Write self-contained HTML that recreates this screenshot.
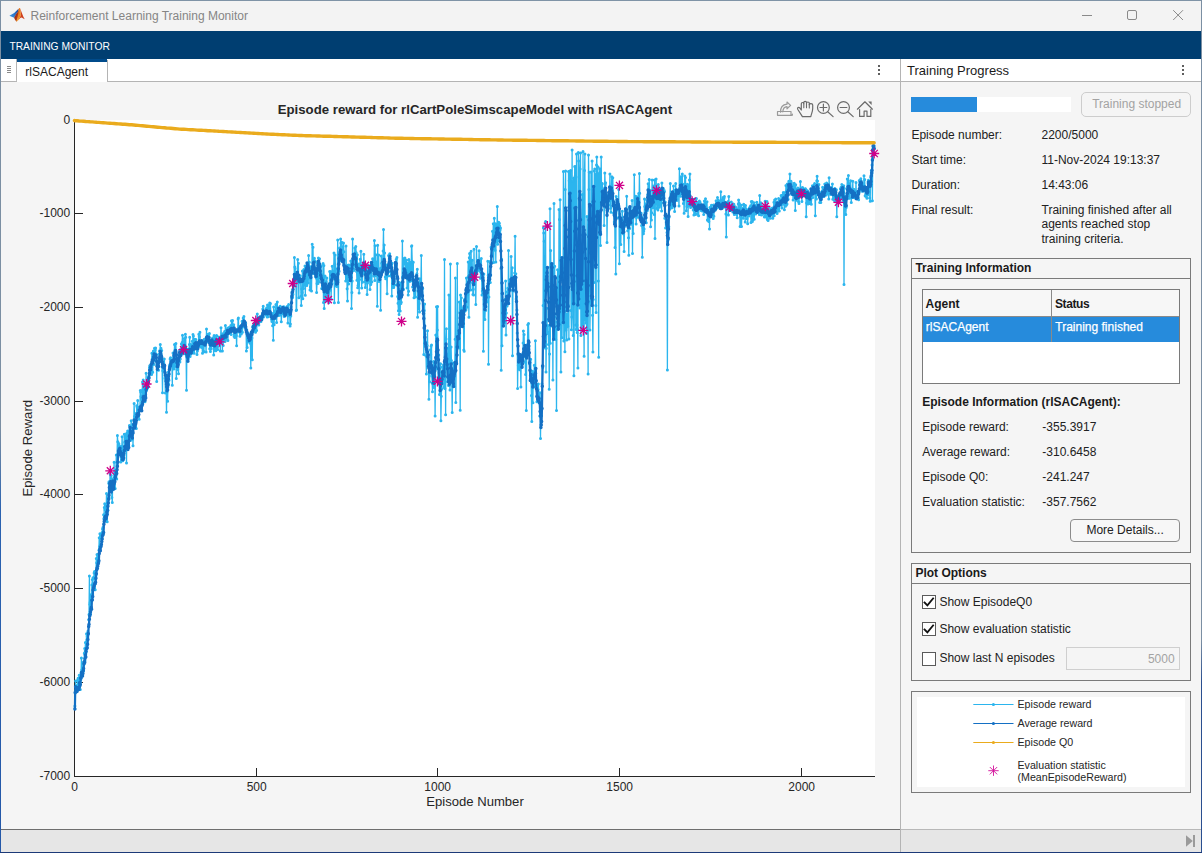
<!DOCTYPE html>
<html><head><meta charset="utf-8"><title>Reinforcement Learning Training Monitor</title>
<style>
html,body{margin:0;padding:0;}
body{width:1202px;height:853px;overflow:hidden;background:#f5f5f5;font-family:"Liberation Sans",Arial,sans-serif;position:relative;}
.a{position:absolute;box-sizing:border-box;}
.t{position:absolute;white-space:nowrap;}
svg{position:absolute;left:0;top:0;}
</style></head><body>

<div class="a" style="left:0;top:0;width:1202px;height:31px;background:#f3f3f3;"></div>
<div class="a" style="left:0;top:31px;width:1202px;height:28px;background:#003e71;"></div>
<div class="a" style="left:1px;top:59px;width:1200px;height:23px;background:#fff;border-bottom:1px solid #b4b4b4;"></div>
<div class="a" style="left:1px;top:59px;width:16px;height:23px;background:#fff;border-right:1px solid #b4b4b4;border-bottom:1px solid #b4b4b4;border-bottom-right-radius:2px;"></div>
<div class="a" style="left:7px;top:66px;width:4px;height:1px;background:#8a8a8a;"></div>
<div class="a" style="left:7px;top:68px;width:4px;height:1px;background:#8a8a8a;"></div>
<div class="a" style="left:7px;top:70px;width:4px;height:1px;background:#8a8a8a;"></div>
<div class="a" style="left:7px;top:72px;width:4px;height:1px;background:#8a8a8a;"></div>
<div class="a" style="left:17px;top:59px;width:90px;height:23px;background:#fff;border-top:3px solid #004b8b;"></div>
<div class="a" style="left:107px;top:60px;width:1px;height:22px;background:#b4b4b4;"></div>
<div class="a" style="left:900px;top:59px;width:1px;height:793px;background:#b4b4b4;"></div>
<div class="a" style="left:1px;top:829px;width:899px;height:23px;background:#e6e6e6;border-top:1px solid #6e6e6e;"></div>
<div class="a" style="left:901px;top:829px;width:300px;height:23px;background:#e6e6e6;border-top:1px solid #b8b8b8;"></div>
<div class="a" style="left:0;top:0;width:1202px;height:1px;background:#7f93a6;"></div>
<div class="a" style="left:0;top:0;width:1px;height:853px;background:linear-gradient(#7b8fa3 0%,#7b8fa3 50%,#2a62b0 60%,#2458a8 100%);"></div>
<div class="a" style="left:1201px;top:0;width:1px;height:853px;background:linear-gradient(#7b8fa3 0%,#7b8fa3 75%,#2a4f90 80%,#2a4f90 100%);"></div>
<div class="a" style="left:0;top:852px;width:1202px;height:1px;background:#1c3a78;"></div>
<div class="t" style="left:30.5px;top:10.04px;font-size:12px;line-height:12px;color:#858585;">Reinforcement Learning Training Monitor</div>
<div class="t" style="left:9.4px;top:41.68px;font-size:10.3px;line-height:10.3px;color:#ffffff;">TRAINING MONITOR</div>
<div class="t" style="left:25.3px;top:65.94px;font-size:12px;line-height:12px;color:#1a1a1a;">rlSACAgent</div>
<div class="t" style="left:907px;top:64.20px;font-size:13px;line-height:13px;color:#1a1a1a;">Training Progress</div>
<div class="a" style="left:911px;top:97px;width:160px;height:15px;background:#fff;"></div>
<div class="a" style="left:911px;top:97px;width:66px;height:15px;background:#268bdc;"></div>
<div class="a" style="left:1081px;top:92px;width:110px;height:25px;border:1px solid #cdcdcd;border-radius:5px;background:#f5f5f5;"></div>
<div class="t" style="left:1092.2px;top:98.04px;font-size:12px;line-height:12px;color:#a3a3a3;">Training stopped</div>
<div class="t" style="left:911.4px;top:129.04px;font-size:12px;line-height:12px;color:#212121;">Episode number:</div>
<div class="t" style="left:1041.5px;top:129.04px;font-size:12px;line-height:12px;color:#212121;">2200/5000</div>
<div class="t" style="left:911.4px;top:154.04px;font-size:12px;line-height:12px;color:#212121;">Start time:</div>
<div class="t" style="left:1041.5px;top:154.04px;font-size:12px;line-height:12px;color:#212121;">11-Nov-2024 19:13:37</div>
<div class="t" style="left:911.4px;top:179.04px;font-size:12px;line-height:12px;color:#212121;">Duration:</div>
<div class="t" style="left:1041.5px;top:179.04px;font-size:12px;line-height:12px;color:#212121;">14:43:06</div>
<div class="t" style="left:911.4px;top:203.84px;font-size:12px;line-height:12px;color:#212121;">Final result:</div>
<div class="t" style="left:1041.5px;top:203.84px;font-size:12px;line-height:12px;color:#212121;">Training finished after all</div>
<div class="t" style="left:1041.5px;top:218.44px;font-size:12px;line-height:12px;color:#212121;">agents reached stop</div>
<div class="t" style="left:1041.5px;top:233.04px;font-size:12px;line-height:12px;color:#212121;">training criteria.</div>
<div class="a" style="left:911px;top:258px;width:280px;height:295px;border:1px solid #7a7a7a;"></div><div class="a" style="left:912px;top:278px;width:278px;height:1px;background:#7a7a7a;"></div><div class="t" style="left:915.4px;top:262.04px;font-size:12px;line-height:12px;color:#1a1a1a;font-weight:bold;">Training Information</div>
<div class="a" style="left:922px;top:289px;width:258px;height:95px;border:1px solid #7a7a7a;background:#fff;"></div>
<div class="a" style="left:923px;top:290px;width:256px;height:26px;background:#f7f7f7;"></div>
<div class="a" style="left:923px;top:316px;width:256px;height:1px;background:#8a8a8a;"></div>
<div class="a" style="left:923px;top:317px;width:256px;height:25px;background:#268bdc;"></div>
<div class="a" style="left:1051px;top:290px;width:1px;height:52px;background:#8a8a8a;"></div>
<div class="t" style="left:925.6px;top:297.64px;font-size:12px;line-height:12px;color:#1a1a1a;font-weight:bold;">Agent</div>
<div class="t" style="left:1055px;top:297.64px;font-size:12px;line-height:12px;color:#1a1a1a;font-weight:bold;letter-spacing:-0.4px;">Status</div>
<div class="t" style="left:925.8px;top:321.04px;font-size:12px;line-height:12px;color:#ffffff;-webkit-text-stroke:0.25px #fff;">rlSACAgent</div>
<div class="t" style="left:1055.3px;top:321.04px;font-size:12px;line-height:12px;color:#ffffff;-webkit-text-stroke:0.25px #fff;">Training finished</div>
<div class="t" style="left:922.2px;top:395.84px;font-size:12px;line-height:12px;color:#1a1a1a;font-weight:bold;">Episode Information (rlSACAgent):</div>
<div class="t" style="left:922.2px;top:420.94px;font-size:12px;line-height:12px;color:#212121;">Episode reward:</div>
<div class="t" style="left:1042.3px;top:420.94px;font-size:12px;line-height:12px;color:#212121;">-355.3917</div>
<div class="t" style="left:922.2px;top:445.94px;font-size:12px;line-height:12px;color:#212121;">Average reward:</div>
<div class="t" style="left:1042.3px;top:445.94px;font-size:12px;line-height:12px;color:#212121;">-310.6458</div>
<div class="t" style="left:922.2px;top:470.94px;font-size:12px;line-height:12px;color:#212121;">Episode Q0:</div>
<div class="t" style="left:1042.3px;top:470.94px;font-size:12px;line-height:12px;color:#212121;">-241.247</div>
<div class="t" style="left:922.2px;top:495.94px;font-size:12px;line-height:12px;color:#212121;">Evaluation statistic:</div>
<div class="t" style="left:1042.3px;top:495.94px;font-size:12px;line-height:12px;color:#212121;">-357.7562</div>
<div class="a" style="left:1070px;top:519px;width:110px;height:23px;border:1px solid #8c8c8c;border-radius:4px;background:#f7f7f7;"></div>
<div class="t" style="left:1086.4px;top:524.04px;font-size:12px;line-height:12px;color:#212121;">More Details...</div>
<div class="a" style="left:911px;top:563px;width:280px;height:118px;border:1px solid #7a7a7a;"></div><div class="a" style="left:912px;top:583px;width:278px;height:1px;background:#7a7a7a;"></div><div class="t" style="left:915.4px;top:567.04px;font-size:12px;line-height:12px;color:#1a1a1a;font-weight:bold;">Plot Options</div>
<div class="a" style="left:922px;top:595px;width:14px;height:14px;border:1px solid #5a5a5a;background:#fff;"></div>
<div class="a" style="left:922px;top:622px;width:14px;height:14px;border:1px solid #5a5a5a;background:#fff;"></div>
<div class="a" style="left:922px;top:652px;width:14px;height:14px;border:1px solid #5a5a5a;background:#fff;"></div>
<div class="t" style="left:939.4px;top:595.94px;font-size:12px;line-height:12px;color:#212121;">Show EpisodeQ0</div>
<div class="t" style="left:939.4px;top:622.94px;font-size:12px;line-height:12px;color:#212121;">Show evaluation statistic</div>
<div class="t" style="left:939.4px;top:651.94px;font-size:12px;line-height:12px;color:#212121;">Show last N episodes</div>
<div class="a" style="left:1066px;top:647px;width:114px;height:23px;border:1px solid #cfcfcf;background:#f5f5f5;"></div>
<div class="t" style="left:1066px;width:108.6px;text-align:right;top:653.14px;font-size:12px;line-height:12px;color:#a3a3a3;">5000</div>
<div class="a" style="left:911px;top:691px;width:280px;height:102px;border:1px solid #7a7a7a;"></div>
<div class="a" style="left:917px;top:697px;width:268px;height:90px;background:#fff;"></div>
<div class="a" style="left:74px;top:120px;width:801px;height:657px;background:#fff;"></div>
<svg width="1202" height="853" viewBox="0 0 1202 853" font-family='"Liberation Sans",Arial,sans-serif'>
<defs>
<linearGradient id="lgb" x1="0" y1="1" x2="1" y2="0"><stop offset="0" stop-color="#3b9ae6"/><stop offset="0.55" stop-color="#2a6fc4"/><stop offset="1" stop-color="#1d3f8c"/></linearGradient>
<linearGradient id="lgo" x1="0" y1="0" x2="0" y2="1"><stop offset="0" stop-color="#e8781c"/><stop offset="0.7" stop-color="#f08c24"/><stop offset="1" stop-color="#f8bc30"/></linearGradient>
<linearGradient id="lgr" x1="0" y1="0" x2="1" y2="1"><stop offset="0" stop-color="#7a1c14"/><stop offset="1" stop-color="#d4481c"/></linearGradient>
</defs>
<g>
<path d="M9.4,15.7L14.2,13.1L18.5,8.7L18.3,11.4L15.8,14.8L14.1,17.7Z" fill="url(#lgb)"/>
<path d="M14.1,17.7L15.8,14.6L18.3,11.2L18.9,8.4L19.5,13.2L18,18L16.5,21.7L15,19.7Z" fill="url(#lgr)"/>
<path d="M20.2,8.6C21.4,11.5 22.6,15.6 24.7,19.3C23.4,18.7 22.2,17.4 21.2,17.5C20,17.7 19,19.8 16.5,21.8C18.6,19.6 20.4,17 20.8,14.5Z" fill="#cf3f1c"/>
<path d="M18.9,8.4C19.3,7.9 19.9,8 20.2,8.6L20.9,14.6C20.4,17 18.4,20.2 16.5,21.8C16.3,21 17.6,17 18.3,13.8Z" fill="url(#lgo)"/>
</g>
<g stroke="#8a8a8a" stroke-width="1" fill="none"><path d="M1082,15.5h10" shape-rendering="crispEdges"/><rect x="1127.5" y="10.5" width="9" height="9" rx="1.5"/><path d="M1173.2,10.2l9.8,9.8M1183,10.2l-9.8,9.8"/></g>
<rect x="878" y="65" width="2" height="2" fill="#5e5e5e"/>
<rect x="878" y="69" width="2" height="2" fill="#5e5e5e"/>
<rect x="878" y="73" width="2" height="2" fill="#5e5e5e"/>
<rect x="1182" y="65" width="2" height="2" fill="#5e5e5e"/>
<rect x="1182" y="69" width="2" height="2" fill="#5e5e5e"/>
<rect x="1182" y="73" width="2" height="2" fill="#5e5e5e"/>
<path d="M1186,835.2l6.8,5.8l-6.8,5.8z" fill="#9a9a9a"/><rect x="1193" y="835" width="2" height="12" fill="#9a9a9a"/>
<path d="M924.5,602.5l2.9,2.9l5.7,-7.0" fill="none" stroke="#111" stroke-width="1.8" stroke-linecap="square"/>
<path d="M924.5,629.5l2.9,2.9l5.7,-7.0" fill="none" stroke="#111" stroke-width="1.8" stroke-linecap="square"/>
<g fill="none" stroke="#6b6b6b" stroke-width="1.2" stroke-linecap="round" stroke-linejoin="round">
<g stroke="#9a9a9a"><path d="M777.5,111.5h13.5v3.8h-13.5z"/><path d="M780.6,112.2c-0.2,-4.6 2.2,-7.6 6.4,-8v-2.2l3.6,3.4l-3.6,3.4v-2.2c-2.6,0.2 -4,1.8 -4.2,5.2"/><path d="M792.8,113.2v2.6h-2.6z" fill="#8a8a8a" stroke="none"/></g>
<path d="M802.4,116.6L797.7,109.2C797,107.7 798.7,106.6 799.7,107.8L801.3,110V103.7C801.3,102.1 803.8,102.1 803.8,103.7V102.5C803.8,100.9 806.5,100.9 806.5,102.5V103.1C806.5,101.6 809.3,101.6 809.3,103.1V104.7C809.3,103.3 812.7,103.1 812.7,105.1V108.5C812.7,111.5 811.4,113.5 810.8,116.6Z"/>
<path d="M803.8,103.7V107.8M806.5,102.7V107.8M809.3,104.2V108" stroke-width="1.1"/>
<circle cx="823.4" cy="107.5" r="5.9"/><path d="M827.7,111.8l5.4,4.8M820,107.5h6.8M823.4,104.1v6.8"/>
<circle cx="843.5" cy="107.5" r="5.9"/><path d="M847.8,111.8l5.4,4.8M840.1,107.5h6.8"/>
<path d="M857.4,109.2l7.5,-7.4l7.5,7.4M859.6,109.5v6.9h4.5v-5.2h2.9v5.2h3.8v-6.9"/>
<path d="M868.2,101.6h3.4v3.4z" fill="#6b6b6b" stroke="none"/>
</g>
<g shape-rendering="crispEdges" fill="#262626">
<rect x="74" y="120" width="1" height="657"/><rect x="74" y="776" width="801" height="1"/>
<rect x="75" y="120" width="8" height="1"/>
<rect x="75" y="213" width="8" height="1"/>
<rect x="75" y="307" width="8" height="1"/>
<rect x="75" y="401" width="8" height="1"/>
<rect x="75" y="494" width="8" height="1"/>
<rect x="75" y="588" width="8" height="1"/>
<rect x="75" y="682" width="8" height="1"/>
<rect x="75" y="776" width="8" height="1"/>
<rect x="74" y="768" width="1" height="8"/>
<rect x="256" y="768" width="1" height="8"/>
<rect x="437" y="768" width="1" height="8"/>
<rect x="619" y="768" width="1" height="8"/>
<rect x="801" y="768" width="1" height="8"/>
</g>
<g font-size="12" fill="#262626">
<text x="70.2" y="123.9" text-anchor="end">0</text>
<text x="70.2" y="216.9" text-anchor="end">-1000</text>
<text x="70.2" y="310.9" text-anchor="end">-2000</text>
<text x="70.2" y="404.9" text-anchor="end">-3000</text>
<text x="70.2" y="497.9" text-anchor="end">-4000</text>
<text x="70.2" y="591.9" text-anchor="end">-5000</text>
<text x="70.2" y="685.9" text-anchor="end">-6000</text>
<text x="70.2" y="779.9" text-anchor="end">-7000</text>
<text x="74.7" y="790.6" text-anchor="middle">0</text>
<text x="256.7" y="790.6" text-anchor="middle">500</text>
<text x="437.7" y="790.6" text-anchor="middle">1000</text>
<text x="619.7" y="790.6" text-anchor="middle">1500</text>
<text x="801.7" y="790.6" text-anchor="middle">2000</text>
</g>
<text x="475" y="805.7" font-size="13.1" fill="#262626" text-anchor="middle">Episode Number</text>
<text transform="translate(32.4,448.2) rotate(-90)" font-size="13.1" fill="#262626" text-anchor="middle" letter-spacing="0.05">Episode Reward</text>
<text x="474.9" y="113.6" font-size="13.2" font-weight="bold" letter-spacing="0.015" fill="#262626" text-anchor="middle">Episode reward for rlCartPoleSimscapeModel with rlSACAgent</text>
<g><path d="M74.9,706.0 75.2,693.1 75.6,681.1 76.0,690.8 76.3,687.3 76.7,691.1 77.0,685.6 77.4,688.5 77.8,679.8 78.1,678.3 78.5,688.5 78.9,685.6 79.2,675.3 79.6,675.1 80.0,682.4 80.3,689.5 80.7,679.9 81.0,678.2 81.4,658.1 81.8,670.1 82.1,672.5 82.5,672.6 82.9,669.6 83.2,662.6 83.6,671.1 84.0,664.3 84.3,653.2 84.7,648.5 85.0,660.7 85.4,642.4 85.8,653.7 86.1,651.8 86.5,633.7 86.9,640.0 87.2,636.1 87.6,637.2 87.9,631.3 88.3,634.3 88.7,619.7 89.0,614.5 89.4,576.0 89.8,604.2 90.1,602.3 90.5,614.2 90.9,594.7 91.2,595.0 91.6,599.8 91.9,585.1 92.3,579.5 92.7,594.0 93.0,577.8 93.4,577.5 93.8,578.2 94.1,573.1 94.5,571.4 94.9,576.7 95.2,589.8 95.6,579.1 95.9,575.3 96.3,558.5 96.7,562.8 97.0,554.6 97.4,565.7 97.8,557.8 98.1,557.2 98.5,555.0 98.9,550.3 99.2,537.7 99.6,546.4 99.9,533.8 100.3,536.7 100.7,537.8 101.0,534.9 101.4,538.4 101.8,539.4 102.1,532.6 102.5,529.0 102.9,527.4 103.2,534.3 103.6,514.7 103.9,518.7 104.3,507.4 104.7,503.8 105.0,509.8 105.4,506.5 105.8,513.0 106.1,519.3 106.5,493.6 106.9,505.0 107.2,521.8 107.6,510.1 107.9,510.4 108.3,497.7 108.7,483.3 109.0,481.8 109.4,490.7 109.8,484.9 110.1,473.8 110.5,475.1 110.8,487.9 111.2,475.4 111.6,483.4 111.9,497.4 112.3,502.4 112.7,479.8 113.0,489.5 113.4,478.8 113.8,478.0 114.1,462.3 114.5,482.8 114.8,473.8 115.2,488.6 115.6,472.6 115.9,471.0 116.3,455.0 116.7,479.0 117.0,462.4 117.4,435.5 117.8,441.7 118.1,456.5 118.5,453.4 118.8,443.6 119.2,445.6 119.6,448.2 119.9,450.8 120.3,448.5 120.7,462.1 121.0,450.6 121.4,446.6 121.8,451.2 122.1,436.7 122.5,452.0 122.8,460.7 123.2,459.4 123.6,450.2 123.9,455.1 124.3,434.2 124.7,442.3 125.0,447.9 125.4,450.6 125.8,435.7 126.1,445.4 126.5,463.1 126.8,433.2 127.2,448.9 127.6,431.0 127.9,433.0 128.3,447.3 128.7,444.7 129.0,439.1 129.4,425.5 129.8,430.4 130.1,430.1 130.5,440.5 130.8,430.2 131.2,420.8 131.6,438.1 131.9,435.9 132.3,439.3 132.7,429.3 133.0,445.8 133.4,425.2 133.8,424.1 134.1,403.4 134.5,416.6 134.8,418.3 135.2,420.3 135.6,422.4 135.9,413.5 136.3,428.5 136.7,405.8 137.0,407.3 137.4,414.0 137.7,400.6 138.1,415.4 138.5,415.5 138.8,408.3 139.2,419.2 139.6,406.9 139.9,408.4 140.3,390.4 140.7,392.0 141.0,396.4 141.4,399.2 141.7,403.1 142.1,405.8 142.5,381.9 142.8,389.6 143.2,380.1 143.6,401.4 143.9,389.6 144.3,392.1 144.7,385.6 145.0,401.7 145.4,388.5 145.7,394.6 146.1,373.3 146.5,390.4 146.8,383.2 147.2,384.6 147.6,387.9 147.9,380.6 148.3,376.8 148.7,377.6 149.0,375.6 149.4,367.6 149.7,365.7 150.1,366.9 150.5,373.4 150.8,372.0 151.2,364.2 151.6,374.4 151.9,353.2 152.3,358.5 152.7,372.2 153.0,356.7 153.4,350.9 153.7,364.5 154.1,356.7 154.5,348.3 154.8,360.6 155.2,349.8 155.6,348.0 155.9,353.9 156.3,354.5 156.7,381.4 157.0,364.0 157.4,363.3 157.7,367.5 158.1,366.2 158.5,370.3 158.8,359.7 159.2,354.0 159.6,350.8 159.9,355.1 160.3,344.5 160.6,357.9 161.0,348.2 161.4,361.3 161.7,350.4 162.1,367.1 162.5,392.8 162.8,370.8 163.2,369.5 163.6,362.3 163.9,369.3 164.3,358.9 164.6,365.0 165.0,378.3 165.4,393.1 165.7,378.6 166.1,381.4 166.5,412.3 166.8,392.5 167.2,376.3 167.6,401.3 167.9,387.0 168.3,371.9 168.6,384.3 169.0,380.2 169.4,366.2 169.7,364.7 170.1,358.9 170.5,357.7 170.8,366.3 171.2,365.3 171.6,363.6 171.9,361.9 172.3,385.3 172.6,363.4 173.0,353.1 173.4,360.1 173.7,368.9 174.1,362.6 174.5,344.5 174.8,350.5 175.2,366.4 175.6,360.2 175.9,343.5 176.3,378.4 176.6,360.1 177.0,369.3 177.4,361.6 177.7,369.8 178.1,362.7 178.5,373.7 178.8,359.9 179.2,355.3 179.6,350.3 179.9,362.0 180.3,359.1 180.6,349.2 181.0,355.4 181.4,344.1 181.7,348.3 182.1,342.6 182.5,335.2 182.8,346.8 183.2,344.0 183.6,353.7 183.9,351.4 184.3,338.5 184.6,340.7 185.0,351.4 185.4,334.3 185.7,337.3 186.1,354.6 186.5,390.3 186.8,357.0 187.2,354.8 187.5,349.6 187.9,358.1 188.3,358.7 188.6,349.5 189.0,349.2 189.4,344.6 189.7,337.3 190.1,356.6 190.5,354.6 190.8,344.5 191.2,346.6 191.5,347.9 191.9,353.0 192.3,341.3 192.6,345.6 193.0,334.6 193.4,335.9 193.7,352.3 194.1,353.3 194.5,342.2 194.8,339.2 195.2,347.7 195.5,342.1 195.9,339.5 196.3,347.0 196.6,346.5 197.0,354.4 197.4,351.0 197.7,345.3 198.1,345.0 198.5,344.2 198.8,334.2 199.2,336.8 199.5,346.2 199.9,332.2 200.3,347.1 200.6,344.3 201.0,341.2 201.4,344.9 201.7,342.8 202.1,347.4 202.5,353.2 202.8,342.0 203.2,342.1 203.5,352.0 203.9,351.6 204.3,339.3 204.6,341.9 205.0,341.6 205.4,343.1 205.7,342.6 206.1,352.0 206.5,329.0 206.8,341.9 207.2,338.5 207.5,334.5 207.9,338.9 208.3,336.6 208.6,340.4 209.0,341.9 209.4,333.6 209.7,348.8 210.1,342.9 210.4,351.6 210.8,346.8 211.2,348.8 211.5,344.6 211.9,344.7 212.3,341.0 212.6,338.1 213.0,345.6 213.4,345.5 213.7,355.1 214.1,335.4 214.4,344.7 214.8,350.5 215.2,337.9 215.5,340.4 215.9,350.8 216.3,347.9 216.6,335.4 217.0,347.4 217.4,346.8 217.7,349.4 218.1,343.0 218.4,341.6 218.8,336.9 219.2,339.0 219.5,342.4 219.9,341.1 220.3,351.0 220.6,339.4 221.0,327.8 221.4,337.1 221.7,339.8 222.1,337.9 222.4,350.9 222.8,333.7 223.2,345.4 223.5,334.1 223.9,340.5 224.3,334.5 224.6,331.4 225.0,341.6 225.4,325.5 225.7,331.2 226.1,338.9 226.4,332.0 226.8,336.5 227.2,332.4 227.5,328.3 227.9,340.6 228.3,332.3 228.6,332.0 229.0,327.5 229.4,328.5 229.7,332.8 230.1,332.9 230.4,329.2 230.8,325.5 231.2,334.5 231.5,320.7 231.9,327.6 232.3,328.2 232.6,320.4 233.0,330.5 233.3,325.4 233.7,324.7 234.1,336.4 234.4,334.3 234.8,337.6 235.2,331.4 235.5,336.4 235.9,334.6 236.3,335.7 236.6,345.7 237.0,329.7 237.3,331.9 237.7,330.4 238.1,318.9 238.4,318.1 238.8,330.1 239.2,331.7 239.5,326.6 239.9,336.3 240.3,333.4 240.6,326.2 241.0,333.5 241.3,334.1 241.7,327.6 242.1,321.3 242.4,332.2 242.8,323.2 243.2,318.0 243.5,323.9 243.9,316.5 244.3,326.2 244.6,325.7 245.0,327.8 245.3,328.0 245.7,323.3 246.1,329.1 246.4,350.9 246.8,330.0 247.2,347.4 247.5,332.9 247.9,333.0 248.3,341.7 248.6,341.5 249.0,336.9 249.3,339.5 249.7,341.6 250.1,343.3 250.4,341.1 250.8,367.9 251.2,335.2 251.5,336.0 251.9,337.9 252.3,359.7 252.6,326.8 253.0,326.1 253.3,326.1 253.7,326.8 254.1,330.5 254.4,330.7 254.8,324.0 255.2,325.6 255.5,332.3 255.9,319.3 256.2,324.3 256.6,330.5 257.0,324.1 257.3,314.1 257.7,322.9 258.1,319.7 258.4,317.9 258.8,325.0 259.2,320.2 259.5,318.2 259.9,321.8 260.2,320.6 260.6,319.5 261.0,321.4 261.3,319.8 261.7,317.8 262.1,315.1 262.4,315.9 262.8,308.9 263.2,306.3 263.5,316.9 263.9,312.9 264.2,313.3 264.6,312.3 265.0,312.8 265.3,312.5 265.7,311.5 266.1,308.8 266.4,315.3 266.8,307.8 267.2,317.0 267.5,304.9 267.9,307.9 268.2,316.7 268.6,312.5 269.0,307.0 269.3,313.6 269.7,303.0 270.1,312.8 270.4,303.5 270.8,312.6 271.2,313.8 271.5,319.5 271.9,321.4 272.2,313.5 272.6,325.8 273.0,314.5 273.3,340.3 273.7,307.1 274.1,324.7 274.4,316.6 274.8,315.3 275.2,312.1 275.5,310.5 275.9,304.6 276.2,315.6 276.6,322.5 277.0,314.1 277.3,302.1 277.7,315.5 278.1,309.9 278.4,310.7 278.8,315.4 279.2,308.1 279.5,314.8 279.9,310.7 280.2,306.3 280.6,314.9 281.0,309.5 281.3,321.8 281.7,314.0 282.1,310.5 282.4,312.5 282.8,310.2 283.1,306.9 283.5,313.7 283.9,306.8 284.2,316.4 284.6,309.2 285.0,316.0 285.3,314.6 285.7,307.8 286.1,310.7 286.4,309.1 286.8,311.6 287.1,306.4 287.5,311.6 287.9,323.0 288.2,312.5 288.6,304.4 289.0,311.4 289.3,315.7 289.7,310.8 290.1,326.0 290.4,323.9 290.8,316.0 291.1,307.0 291.5,297.4 291.9,293.5 292.2,293.1 292.6,297.4 293.0,294.2 293.3,282.9 293.7,281.7 294.1,283.2 294.4,257.4 294.8,267.1 295.1,268.5 295.5,274.5 295.9,272.8 296.2,310.4 296.6,310.1 297.0,281.4 297.3,275.4 297.7,259.6 298.1,275.6 298.4,263.3 298.8,297.7 299.1,276.5 299.5,275.9 299.9,282.4 300.2,275.7 300.6,279.5 301.0,296.0 301.3,305.6 301.7,289.0 302.1,292.4 302.4,271.1 302.8,298.7 303.1,286.6 303.5,288.6 303.9,269.5 304.2,285.1 304.6,278.0 305.0,266.1 305.3,295.3 305.7,278.1 306.0,268.8 306.4,272.0 306.8,285.5 307.1,275.0 307.5,271.6 307.9,278.9 308.2,282.9 308.6,255.5 309.0,267.1 309.3,262.2 309.7,276.2 310.0,289.9 310.4,287.0 310.8,266.8 311.1,268.7 311.5,291.1 311.9,267.1 312.2,244.3 312.6,273.0 313.0,247.3 313.3,271.3 313.7,266.4 314.0,273.4 314.4,258.3 314.8,261.0 315.1,267.8 315.5,276.7 315.9,276.3 316.2,278.0 316.6,292.5 317.0,283.6 317.3,262.9 317.7,261.6 318.0,283.5 318.4,258.1 318.8,277.8 319.1,281.7 319.5,258.8 319.9,264.5 320.2,272.0 320.6,266.4 321.0,265.9 321.3,274.3 321.7,288.5 322.0,278.0 322.4,278.1 322.8,280.5 323.1,263.6 323.5,302.5 323.9,265.5 324.2,308.6 324.6,294.3 325.0,276.0 325.3,295.7 325.7,301.1 326.0,281.7 326.4,292.0 326.8,278.0 327.1,297.0 327.5,293.5 327.9,292.9 328.2,300.7 328.6,293.1 328.9,302.8 329.3,290.8 329.7,271.5 330.0,289.4 330.4,289.9 330.8,271.6 331.1,299.0 331.5,281.1 331.9,283.5 332.2,266.3 332.6,275.6 332.9,278.0 333.3,271.6 333.7,275.8 334.0,252.9 334.4,302.8 334.8,264.2 335.1,255.0 335.5,269.2 335.9,268.8 336.2,286.1 336.6,274.7 336.9,286.4 337.3,273.9 337.7,240.0 338.0,280.0 338.4,302.4 338.8,253.6 339.1,271.3 339.5,247.9 339.9,260.9 340.2,259.1 340.6,238.9 340.9,243.0 341.3,242.8 341.7,242.2 342.0,252.8 342.4,251.3 342.8,246.8 343.1,262.0 343.5,243.0 343.9,251.7 344.2,260.5 344.6,269.7 344.9,270.0 345.3,266.1 345.7,280.9 346.0,246.0 346.4,280.1 346.8,265.8 347.1,288.8 347.5,301.0 347.9,265.2 348.2,267.4 348.6,284.1 348.9,265.0 349.3,278.9 349.7,275.3 350.0,269.8 350.4,278.1 350.8,261.1 351.1,266.3 351.5,308.6 351.9,292.5 352.2,280.9 352.6,238.9 352.9,261.9 353.3,265.1 353.7,270.6 354.0,269.3 354.4,263.8 354.8,248.1 355.1,265.8 355.5,253.3 355.8,246.5 356.2,252.8 356.6,271.4 356.9,280.3 357.3,254.8 357.7,287.8 358.0,285.4 358.4,265.0 358.8,264.0 359.1,293.0 359.5,279.5 359.8,265.5 360.2,259.2 360.6,276.3 360.9,251.2 361.3,276.3 361.7,287.9 362.0,273.6 362.4,282.3 362.8,270.9 363.1,273.7 363.5,267.8 363.8,254.2 364.2,265.5 364.6,267.2 364.9,281.4 365.3,287.5 365.7,279.1 366.0,267.7 366.4,270.1 366.8,275.9 367.1,294.6 367.5,283.1 367.8,277.5 368.2,265.2 368.6,280.8 368.9,276.2 369.3,267.5 369.7,273.2 370.0,289.6 370.4,268.0 370.8,284.5 371.1,282.3 371.5,263.0 371.8,282.0 372.2,267.2 372.6,258.7 372.9,265.6 373.3,259.1 373.7,276.1 374.0,268.7 374.4,240.5 374.8,280.5 375.1,245.7 375.5,275.5 375.8,254.7 376.2,270.9 376.6,262.1 376.9,273.1 377.3,306.3 377.7,245.2 378.0,276.3 378.4,271.6 378.7,254.9 379.1,281.4 379.5,276.2 379.8,274.0 380.2,268.4 380.6,310.3 380.9,271.6 381.3,255.9 381.7,263.3 382.0,267.6 382.4,264.4 382.7,269.6 383.1,251.0 383.5,229.5 383.8,258.2 384.2,245.1 384.6,253.0 384.9,263.4 385.3,276.9 385.7,278.7 386.0,265.1 386.4,271.1 386.7,276.3 387.1,293.8 387.5,266.0 387.8,275.9 388.2,275.7 388.6,255.5 388.9,266.1 389.3,263.9 389.7,253.7 390.0,262.6 390.4,271.8 390.7,276.1 391.1,265.7 391.5,269.6 391.8,295.9 392.2,263.2 392.6,280.2 392.9,287.4 393.3,285.2 393.7,287.6 394.0,280.8 394.4,281.7 394.7,285.1 395.1,267.2 395.5,264.6 395.8,264.6 396.2,259.3 396.6,269.3 396.9,257.5 397.3,284.5 397.7,296.4 398.0,303.3 398.4,310.8 398.7,282.3 399.1,314.4 399.5,289.6 399.8,293.8 400.2,311.1 400.6,283.1 400.9,303.5 401.3,302.2 401.6,294.1 402.0,285.7 402.4,241.1 402.7,277.1 403.1,289.1 403.5,289.4 403.8,258.5 404.2,263.6 404.6,263.9 404.9,257.9 405.3,260.8 405.6,273.6 406.0,272.5 406.4,260.3 406.7,271.7 407.1,287.9 407.5,263.4 407.8,266.8 408.2,295.0 408.6,291.3 408.9,259.5 409.3,265.8 409.6,281.5 410.0,262.0 410.4,273.5 410.7,271.2 411.1,280.8 411.5,246.2 411.8,245.7 412.2,261.5 412.6,287.0 412.9,278.0 413.3,262.3 413.6,290.0 414.0,297.8 414.4,285.0 414.7,282.8 415.1,290.7 415.5,297.1 415.8,281.7 416.2,282.2 416.6,275.3 416.9,273.8 417.3,269.2 417.6,317.2 418.0,282.4 418.4,284.6 418.7,308.7 419.1,303.4 419.5,312.1 419.8,278.8 420.2,299.1 420.6,281.6 420.9,283.6 421.3,255.6 421.6,296.4 422.0,296.1 422.4,288.2 422.7,288.4 423.1,311.0 423.5,308.1 423.8,354.5 424.2,310.6 424.6,304.0 424.9,334.2 425.3,343.4 425.6,345.9 426.0,356.1 426.4,374.0 426.7,342.4 427.1,345.5 427.5,330.7 427.8,360.0 428.2,365.3 428.5,363.4 428.9,399.2 429.3,372.4 429.6,381.8 430.0,367.3 430.4,349.7 430.7,354.3 431.1,346.3 431.5,344.9 431.8,376.1 432.2,383.2 432.5,391.7 432.9,371.1 433.3,380.2 433.6,361.4 434.0,387.6 434.4,381.4 434.7,363.8 435.1,415.9 435.5,369.3 435.8,335.0 436.2,366.7 436.5,306.8 436.9,336.5 437.3,330.1 437.6,306.4 438.0,368.5 438.4,381.7 438.7,354.9 439.1,372.7 439.5,394.6 439.8,368.4 440.2,381.7 440.5,363.7 440.9,420.7 441.3,396.2 441.6,389.2 442.0,381.9 442.4,367.1 442.7,366.8 443.1,379.6 443.5,364.7 443.8,387.2 444.2,370.0 444.5,259.6 444.9,388.4 445.3,355.6 445.6,414.8 446.0,339.1 446.4,328.7 446.7,365.5 447.1,348.2 447.5,381.7 447.8,358.3 448.2,354.0 448.5,385.4 448.9,295.0 449.3,385.5 449.6,367.4 450.0,389.9 450.4,264.1 450.7,362.4 451.1,347.0 451.4,360.4 451.8,380.1 452.2,412.5 452.5,382.3 452.9,386.1 453.3,363.1 453.6,372.6 454.0,371.5 454.4,366.6 454.7,375.3 455.1,339.2 455.4,277.9 455.8,402.5 456.2,360.5 456.5,347.1 456.9,355.1 457.3,263.4 457.6,343.5 458.0,337.4 458.4,347.5 458.7,333.2 459.1,348.0 459.4,301.9 459.8,312.4 460.2,410.3 460.5,295.1 460.9,324.1 461.3,297.8 461.6,312.2 462.0,308.4 462.4,321.8 462.7,322.0 463.1,322.6 463.4,313.8 463.8,349.9 464.2,351.3 464.5,299.4 464.9,311.2 465.3,310.7 465.6,307.1 466.0,309.8 466.4,278.0 466.7,301.5 467.1,307.3 467.4,291.7 467.8,294.4 468.2,261.9 468.5,276.3 468.9,317.2 469.3,257.8 469.6,253.4 470.0,278.4 470.4,282.7 470.7,290.1 471.1,251.3 471.4,272.2 471.8,277.4 472.2,260.2 472.5,278.9 472.9,294.5 473.3,289.2 473.6,295.0 474.0,249.2 474.3,272.8 474.7,282.3 475.1,272.4 475.4,270.7 475.8,304.5 476.2,270.6 476.5,246.5 476.9,270.9 477.3,262.2 477.6,262.3 478.0,260.6 478.3,269.2 478.7,267.3 479.1,250.8 479.4,263.1 479.8,271.2 480.2,261.0 480.5,278.2 480.9,277.0 481.3,258.4 481.6,272.5 482.0,294.9 482.3,291.0 482.7,277.4 483.1,290.4 483.4,351.3 483.8,274.1 484.2,299.4 484.5,307.0 484.9,319.6 485.3,306.0 485.6,310.4 486.0,291.9 486.3,300.6 486.7,302.0 487.1,292.0 487.4,295.4 487.8,261.2 488.2,275.2 488.5,364.2 488.9,296.9 489.3,280.0 489.6,278.1 490.0,261.6 490.3,282.4 490.7,275.1 491.1,247.3 491.4,262.3 491.8,254.4 492.2,249.7 492.5,231.2 492.9,246.0 493.3,223.8 493.6,262.5 494.0,244.0 494.3,218.2 494.7,230.0 495.1,250.2 495.4,223.7 495.8,261.9 496.2,223.9 496.5,236.3 496.9,241.4 497.3,206.4 497.6,244.2 498.0,227.6 498.3,232.6 498.7,222.3 499.1,241.1 499.4,223.3 499.8,226.3 500.2,229.5 500.5,227.9 500.9,268.4 501.2,370.3 501.6,259.2 502.0,345.8 502.3,293.5 502.7,309.5 503.1,322.1 503.4,322.6 503.8,316.9 504.2,317.9 504.5,322.9 504.9,317.4 505.2,299.3 505.6,281.0 506.0,335.0 506.3,312.9 506.7,299.3 507.1,306.1 507.4,291.8 507.8,288.2 508.2,294.4 508.5,250.5 508.9,288.5 509.2,280.3 509.6,286.1 510.0,290.4 510.3,279.7 510.7,286.3 511.1,256.5 511.4,279.4 511.8,277.1 512.2,267.8 512.5,355.8 512.9,291.0 513.2,281.2 513.6,290.4 514.0,277.8 514.3,284.0 514.7,273.0 515.1,236.2 515.4,277.4 515.8,273.8 516.2,299.1 516.5,296.7 516.9,310.1 517.2,333.0 517.6,388.6 518.0,354.4 518.3,365.2 518.7,367.1 519.1,368.8 519.4,369.7 519.8,361.6 520.2,355.4 520.5,359.0 520.9,387.1 521.2,360.5 521.6,354.7 522.0,363.3 522.3,363.2 522.7,363.3 523.1,343.0 523.4,330.9 523.8,352.0 524.1,334.4 524.5,356.6 524.9,346.9 525.2,362.1 525.6,374.6 526.0,355.2 526.3,410.6 526.7,345.0 527.1,346.9 527.4,350.2 527.8,324.7 528.1,346.0 528.5,323.5 528.9,349.3 529.2,346.1 529.6,363.8 530.0,362.2 530.3,375.4 530.7,359.3 531.1,376.0 531.4,395.4 531.8,421.5 532.1,383.6 532.5,371.3 532.9,402.7 533.2,374.6 533.6,387.0 534.0,379.4 534.3,365.3 534.7,386.1 535.1,373.4 535.4,340.8 535.8,373.3 536.1,380.5 536.5,384.5 536.9,401.8 537.2,386.2 537.6,399.5 538.0,389.6 538.3,384.0 538.7,393.2 539.1,393.1 539.4,402.7 539.8,416.0 540.1,392.8 540.5,438.5 540.9,403.0 541.2,404.3 541.6,415.8 542.0,383.7 542.3,365.9 542.7,367.6 543.1,305.6 543.4,227.7 543.8,232.9 544.1,241.3 544.5,322.3 544.9,294.9 545.2,348.1 545.6,221.5 546.0,372.0 546.3,348.3 546.7,308.2 547.0,320.2 547.4,333.5 547.8,332.8 548.1,325.4 548.5,344.5 548.9,332.3 549.2,389.2 549.6,354.0 550.0,208.8 550.3,343.2 550.7,250.4 551.0,287.6 551.4,272.8 551.8,323.2 552.1,308.1 552.5,299.3 552.9,380.0 553.2,319.0 553.6,311.9 554.0,203.4 554.3,337.7 554.7,266.3 555.0,316.8 555.4,329.6 555.8,339.4 556.1,329.2 556.5,410.6 556.9,321.9 557.2,326.6 557.6,269.7 558.0,313.7 558.3,307.7 558.7,327.6 559.0,209.6 559.4,219.6 559.8,326.0 560.1,199.8 560.5,290.6 560.9,372.0 561.2,296.4 561.6,287.0 562.0,337.7 562.3,309.0 562.7,297.4 563.0,306.4 563.4,171.5 563.8,340.9 564.1,294.4 564.5,301.5 564.9,351.7 565.2,189.5 565.6,171.0 566.0,330.1 566.3,325.1 566.7,340.0 567.0,314.2 567.4,327.0 567.8,326.3 568.1,304.9 568.5,171.5 568.9,339.0 569.2,180.7 569.6,173.8 570.0,171.0 570.3,203.0 570.7,170.5 571.0,310.4 571.4,329.7 571.8,317.0 572.1,150.0 572.5,303.9 572.9,181.6 573.2,335.5 573.6,178.2 573.9,375.7 574.3,303.1 574.7,166.6 575.0,176.6 575.4,166.4 575.8,324.9 576.1,329.5 576.5,154.0 576.9,324.9 577.2,332.4 577.6,329.6 577.9,368.0 578.3,152.5 578.7,161.0 579.0,176.9 579.4,214.5 579.8,308.1 580.1,169.1 580.5,153.0 580.9,335.6 581.2,295.4 581.6,327.9 581.9,305.2 582.3,194.4 582.7,325.1 583.0,151.5 583.4,302.0 583.8,311.2 584.1,356.3 584.5,170.6 584.9,154.0 585.2,320.1 585.6,315.7 585.9,322.9 586.3,310.9 586.7,333.5 587.0,216.6 587.4,293.0 587.8,283.8 588.1,374.0 588.5,155.0 588.9,189.4 589.2,172.2 589.6,278.0 589.9,329.9 590.3,303.1 590.7,291.1 591.0,171.9 591.4,272.1 591.8,270.0 592.1,161.0 592.5,315.3 592.9,352.0 593.2,299.6 593.6,189.3 593.9,282.6 594.3,171.0 594.7,169.0 595.0,219.7 595.4,174.5 595.8,305.6 596.1,312.5 596.5,165.0 596.8,157.0 597.2,200.9 597.6,213.3 597.9,166.8 598.3,281.1 598.7,357.3 599.0,173.6 599.4,177.9 599.8,168.8 600.1,180.9 600.5,245.4 600.8,206.8 601.2,157.0 601.6,198.9 601.9,188.2 602.3,183.6 602.7,188.6 603.0,202.6 603.4,196.8 603.8,190.3 604.1,225.4 604.5,199.8 604.8,173.0 605.2,184.5 605.6,182.7 605.9,193.9 606.3,194.7 606.7,200.1 607.0,242.4 607.4,211.0 607.8,206.1 608.1,198.8 608.5,195.5 608.8,205.3 609.2,197.1 609.6,197.4 609.9,174.0 610.3,200.2 610.7,208.1 611.0,212.3 611.4,188.4 611.8,176.7 612.1,198.4 612.5,190.6 612.8,177.8 613.2,200.5 613.6,213.3 613.9,213.3 614.3,222.1 614.7,215.2 615.0,247.4 615.4,215.8 615.8,274.0 616.1,196.6 616.5,217.5 616.8,209.9 617.2,208.0 617.6,203.4 617.9,207.9 618.3,206.2 618.7,189.5 619.0,217.9 619.4,263.8 619.8,214.1 620.1,218.7 620.5,229.4 620.8,244.4 621.2,224.5 621.6,227.6 621.9,220.5 622.3,211.3 622.7,227.7 623.0,229.0 623.4,221.3 623.7,234.0 624.1,251.6 624.5,226.5 624.8,219.7 625.2,224.8 625.6,211.0 625.9,214.7 626.3,214.3 626.7,196.3 627.0,224.7 627.4,213.7 627.7,230.8 628.1,227.5 628.5,237.8 628.8,255.3 629.2,208.2 629.6,228.6 629.9,208.9 630.3,216.7 630.7,223.8 631.0,221.1 631.4,224.3 631.7,222.2 632.1,200.6 632.5,253.4 632.8,213.1 633.2,233.5 633.6,214.5 633.9,215.4 634.3,174.7 634.7,207.9 635.0,207.8 635.4,215.4 635.7,196.3 636.1,224.0 636.5,217.6 636.8,210.7 637.2,197.0 637.6,201.1 637.9,217.0 638.3,196.8 638.7,193.5 639.0,211.5 639.4,173.4 639.7,193.3 640.1,214.9 640.5,214.0 640.8,213.2 641.2,213.3 641.6,225.4 641.9,217.2 642.3,257.2 642.7,219.0 643.0,227.7 643.4,233.7 643.7,231.2 644.1,229.1 644.5,199.1 644.8,206.4 645.2,212.7 645.6,216.0 645.9,203.7 646.3,222.7 646.6,210.5 647.0,200.6 647.4,210.4 647.7,194.8 648.1,183.7 648.5,195.7 648.8,190.2 649.2,179.4 649.6,190.9 649.9,205.9 650.3,190.4 650.6,226.8 651.0,196.2 651.4,220.1 651.7,212.8 652.1,180.0 652.5,200.6 652.8,207.8 653.2,201.0 653.6,185.9 653.9,198.7 654.3,214.4 654.6,180.0 655.0,238.4 655.4,197.1 655.7,195.6 656.1,179.0 656.5,192.9 656.8,208.4 657.2,203.7 657.6,188.0 657.9,209.9 658.3,184.5 658.6,203.1 659.0,200.9 659.4,207.2 659.7,197.0 660.1,205.6 660.5,199.7 660.8,202.5 661.2,194.8 661.6,211.1 661.9,183.0 662.3,199.6 662.6,196.9 663.0,197.2 663.4,188.5 663.7,203.0 664.1,190.3 664.5,191.6 664.8,218.2 665.2,202.0 665.6,228.1 665.9,213.9 666.3,219.5 666.6,223.8 667.0,232.6 667.4,370.0 667.7,241.7 668.1,237.5 668.5,239.2 668.8,226.8 669.2,217.1 669.5,209.5 669.9,198.8 670.3,183.6 670.6,205.6 671.0,207.9 671.4,193.3 671.7,202.2 672.1,207.8 672.5,193.5 672.8,203.6 673.2,205.3 673.5,186.1 673.9,198.0 674.3,202.3 674.6,211.6 675.0,190.3 675.4,196.5 675.7,183.5 676.1,194.5 676.5,191.5 676.8,200.6 677.2,199.6 677.5,194.2 677.9,195.2 678.3,194.9 678.6,193.7 679.0,206.1 679.4,168.8 679.7,188.0 680.1,193.7 680.5,196.3 680.8,176.8 681.2,190.1 681.5,193.5 681.9,184.0 682.3,174.0 682.6,189.4 683.0,184.3 683.4,203.5 683.7,192.3 684.1,213.3 684.5,195.5 684.8,176.0 685.2,184.5 685.5,177.6 685.9,197.4 686.3,210.8 686.6,189.8 687.0,206.6 687.4,184.3 687.7,197.1 688.1,216.5 688.5,185.0 688.8,205.6 689.2,202.9 689.5,180.0 689.9,174.0 690.3,199.2 690.6,207.6 691.0,201.1 691.4,200.9 691.7,206.1 692.1,200.4 692.4,204.9 692.8,201.6 693.2,210.1 693.5,199.4 693.9,215.1 694.3,205.6 694.6,202.8 695.0,210.6 695.4,214.4 695.7,198.6 696.1,210.4 696.4,198.4 696.8,205.2 697.2,214.1 697.5,202.6 697.9,210.6 698.3,205.0 698.6,215.7 699.0,205.9 699.4,201.0 699.7,202.8 700.1,202.2 700.4,206.7 700.8,208.1 701.2,210.6 701.5,206.8 701.9,205.9 702.3,210.9 702.6,206.0 703.0,209.9 703.4,210.2 703.7,214.4 704.1,204.4 704.4,201.1 704.8,206.5 705.2,211.3 705.5,198.8 705.9,209.5 706.3,212.2 706.6,208.4 707.0,201.8 707.4,219.9 707.7,220.6 708.1,211.8 708.4,219.6 708.8,221.5 709.2,210.2 709.5,228.9 709.9,207.6 710.3,214.0 710.6,211.4 711.0,215.7 711.4,205.3 711.7,210.1 712.1,215.1 712.4,214.2 712.8,209.1 713.2,218.4 713.5,204.9 713.9,216.2 714.3,206.4 714.6,207.9 715.0,207.3 715.4,210.0 715.7,206.6 716.1,200.7 716.4,202.6 716.8,208.1 717.2,204.1 717.5,197.6 717.9,201.2 718.3,200.2 718.6,203.4 719.0,206.8 719.3,207.3 719.7,201.8 720.1,205.9 720.4,201.6 720.8,191.7 721.2,206.2 721.5,200.1 721.9,201.8 722.3,200.1 722.6,208.0 723.0,197.4 723.3,206.9 723.7,203.6 724.1,197.7 724.4,196.6 724.8,206.4 725.2,205.2 725.5,207.0 725.9,213.9 726.3,237.1 726.6,207.7 727.0,203.9 727.3,206.3 727.7,202.8 728.1,201.4 728.4,215.1 728.8,196.6 729.2,210.1 729.5,209.8 729.9,208.1 730.3,205.4 730.6,206.8 731.0,207.2 731.3,202.0 731.7,209.3 732.1,204.9 732.4,204.5 732.8,212.0 733.2,204.1 733.5,211.4 733.9,204.3 734.3,214.5 734.6,211.6 735.0,213.4 735.3,206.8 735.7,207.6 736.1,207.6 736.4,213.1 736.8,214.5 737.2,217.8 737.5,209.4 737.9,211.9 738.3,204.0 738.6,199.9 739.0,203.0 739.3,208.3 739.7,204.3 740.1,226.6 740.4,216.4 740.8,210.0 741.2,205.3 741.5,226.6 741.9,213.6 742.2,210.2 742.6,214.6 743.0,208.3 743.3,218.3 743.7,204.2 744.1,207.3 744.4,212.9 744.8,210.8 745.2,222.1 745.5,205.4 745.9,208.7 746.2,212.9 746.6,214.1 747.0,218.7 747.3,214.1 747.7,223.8 748.1,209.7 748.4,213.9 748.8,216.1 749.2,209.7 749.5,207.8 749.9,208.5 750.2,206.7 750.6,205.8 751.0,222.6 751.3,201.4 751.7,212.4 752.1,201.4 752.4,221.4 752.8,216.5 753.2,214.0 753.5,207.3 753.9,202.7 754.2,219.2 754.6,209.9 755.0,211.0 755.3,205.6 755.7,214.1 756.1,206.9 756.4,208.3 756.8,202.3 757.2,208.7 757.5,212.2 757.9,205.8 758.2,205.9 758.6,209.0 759.0,205.8 759.3,214.4 759.7,195.5 760.1,211.4 760.4,213.0 760.8,202.8 761.2,205.4 761.5,215.1 761.9,206.8 762.2,206.4 762.6,214.3 763.0,210.1 763.3,212.0 763.7,207.7 764.1,213.5 764.4,217.0 764.8,212.5 765.1,201.2 765.5,215.3 765.9,209.4 766.2,205.5 766.6,216.9 767.0,201.4 767.3,219.5 767.7,207.5 768.1,220.6 768.4,212.6 768.8,207.0 769.1,214.8 769.5,217.0 769.9,217.7 770.2,218.3 770.6,209.0 771.0,214.9 771.3,214.1 771.7,211.3 772.1,208.2 772.4,208.1 772.8,218.2 773.1,213.7 773.5,208.1 773.9,202.2 774.2,215.8 774.6,200.1 775.0,212.2 775.3,203.6 775.7,198.9 776.1,206.6 776.4,204.5 776.8,211.9 777.1,213.5 777.5,202.7 777.9,208.5 778.2,209.1 778.6,198.5 779.0,201.1 779.3,210.9 779.7,202.3 780.1,204.3 780.4,201.6 780.8,200.4 781.1,195.5 781.5,204.6 781.9,208.0 782.2,198.3 782.6,195.1 783.0,199.4 783.3,192.5 783.7,194.5 784.1,204.2 784.4,209.7 784.8,199.5 785.1,192.4 785.5,206.3 785.9,185.6 786.2,191.4 786.6,204.9 787.0,204.0 787.3,184.1 787.7,184.0 788.1,199.2 788.4,189.9 788.8,181.2 789.1,187.8 789.5,182.3 789.9,173.9 790.2,188.6 790.6,183.6 791.0,181.2 791.3,182.7 791.7,194.4 792.0,185.4 792.4,193.2 792.8,189.6 793.1,200.1 793.5,190.8 793.9,185.0 794.2,183.3 794.6,186.4 795.0,197.5 795.3,210.6 795.7,184.7 796.0,191.5 796.4,200.2 796.8,196.6 797.1,189.1 797.5,191.1 797.9,188.1 798.2,195.0 798.6,202.1 799.0,203.5 799.3,194.2 799.7,190.6 800.0,192.2 800.4,181.4 800.8,196.3 801.1,188.1 801.5,193.4 801.9,201.5 802.2,191.1 802.6,187.5 803.0,193.1 803.3,192.8 803.7,195.5 804.0,190.9 804.4,189.2 804.8,192.3 805.1,188.7 805.5,188.8 805.9,189.5 806.2,216.7 806.6,203.1 807.0,190.4 807.3,192.1 807.7,191.0 808.0,204.1 808.4,196.0 808.8,192.7 809.1,202.3 809.5,198.7 809.9,193.7 810.2,203.6 810.6,198.3 811.0,198.2 811.3,204.3 811.7,197.1 812.0,192.5 812.4,185.8 812.8,197.6 813.1,189.0 813.5,190.8 813.9,188.6 814.2,184.9 814.6,183.5 814.9,193.4 815.3,215.7 815.7,188.6 816.0,192.7 816.4,199.1 816.8,180.8 817.1,176.2 817.5,180.9 817.9,194.7 818.2,193.5 818.6,192.0 818.9,184.5 819.3,193.7 819.7,202.6 820.0,196.1 820.4,193.7 820.8,202.5 821.1,192.4 821.5,196.4 821.9,197.2 822.2,191.0 822.6,187.3 822.9,195.5 823.3,192.3 823.7,194.3 824.0,196.4 824.4,193.8 824.8,184.1 825.1,187.2 825.5,190.5 825.9,191.8 826.2,195.0 826.6,183.1 826.9,192.8 827.3,189.8 827.7,186.6 828.0,187.6 828.4,193.7 828.8,199.1 829.1,177.8 829.5,191.2 829.9,188.5 830.2,189.2 830.6,194.6 830.9,193.0 831.3,187.5 831.7,189.7 832.0,194.1 832.4,184.0 832.8,199.2 833.1,189.6 833.5,194.5 833.9,192.5 834.2,200.2 834.6,189.4 834.9,188.6 835.3,201.7 835.7,189.5 836.0,190.4 836.4,189.7 836.8,216.7 837.1,198.5 837.5,202.5 837.9,201.1 838.2,199.8 838.6,195.8 838.9,194.8 839.3,197.0 839.7,194.3 840.0,201.8 840.4,188.8 840.8,191.9 841.1,187.3 841.5,197.6 841.8,184.6 842.2,192.7 842.6,195.6 842.9,191.5 843.3,200.5 843.7,185.8 844.0,284.4 844.4,188.5 844.8,203.3 845.1,203.2 845.5,201.7 845.8,214.5 846.2,207.6 846.6,195.6 846.9,193.3 847.3,179.0 847.7,188.4 848.0,198.3 848.4,175.4 848.8,188.6 849.1,183.5 849.5,198.2 849.8,191.0 850.2,188.9 850.6,180.7 850.9,189.3 851.3,202.4 851.7,189.4 852.0,195.2 852.4,194.2 852.8,181.2 853.1,197.5 853.5,196.8 853.8,189.3 854.2,190.0 854.6,194.8 854.9,191.4 855.3,198.1 855.7,194.6 856.0,182.5 856.4,197.0 856.8,193.8 857.1,192.3 857.5,198.3 857.8,194.9 858.2,194.5 858.6,199.7 858.9,192.4 859.3,180.4 859.7,184.5 860.0,189.8 860.4,181.0 860.8,178.8 861.1,180.9 861.5,185.6 861.8,187.6 862.2,191.3 862.6,184.8 862.9,187.2 863.3,189.2 863.7,187.5 864.0,175.7 864.4,185.9 864.7,179.5 865.1,195.8 865.5,196.2 865.8,196.6 866.2,194.6 866.6,189.1 866.9,198.3 867.3,190.9 867.7,195.1 868.0,181.9 868.4,180.3 868.7,184.5 869.1,192.1 869.5,182.7 869.8,197.9 870.2,201.3 870.6,177.2 870.9,181.2 871.3,170.4 871.7,172.2 872.0,165.0 872.4,200.7 872.7,159.4 873.1,150.4 873.5,146.3 873.8,146.0 874.2,148.9" fill="none" stroke="#2bb5ee" stroke-width="1.3" stroke-linejoin="round"/>
<path d="M74.9,706.0h.01M75.2,693.1h.01M75.6,681.1h.01M76.0,690.8h.01M76.3,687.3h.01M76.7,691.1h.01M77.0,685.6h.01M77.4,688.5h.01M77.8,679.8h.01M78.1,678.3h.01M78.5,688.5h.01M78.9,685.6h.01M79.2,675.3h.01M79.6,675.1h.01M80.0,682.4h.01M80.3,689.5h.01M80.7,679.9h.01M81.0,678.2h.01M81.4,658.1h.01M81.8,670.1h.01M82.1,672.5h.01M82.5,672.6h.01M82.9,669.6h.01M83.2,662.6h.01M83.6,671.1h.01M84.0,664.3h.01M84.3,653.2h.01M84.7,648.5h.01M85.0,660.7h.01M85.4,642.4h.01M85.8,653.7h.01M86.1,651.8h.01M86.5,633.7h.01M86.9,640.0h.01M87.2,636.1h.01M87.6,637.2h.01M87.9,631.3h.01M88.3,634.3h.01M88.7,619.7h.01M89.0,614.5h.01M89.4,576.0h.01M89.8,604.2h.01M90.1,602.3h.01M90.5,614.2h.01M90.9,594.7h.01M91.2,595.0h.01M91.6,599.8h.01M91.9,585.1h.01M92.3,579.5h.01M92.7,594.0h.01M93.0,577.8h.01M93.4,577.5h.01M93.8,578.2h.01M94.1,573.1h.01M94.5,571.4h.01M94.9,576.7h.01M95.2,589.8h.01M95.6,579.1h.01M95.9,575.3h.01M96.3,558.5h.01M96.7,562.8h.01M97.0,554.6h.01M97.4,565.7h.01M97.8,557.8h.01M98.1,557.2h.01M98.5,555.0h.01M98.9,550.3h.01M99.2,537.7h.01M99.6,546.4h.01M99.9,533.8h.01M100.3,536.7h.01M100.7,537.8h.01M101.0,534.9h.01M101.4,538.4h.01M101.8,539.4h.01M102.1,532.6h.01M102.5,529.0h.01M102.9,527.4h.01M103.2,534.3h.01M103.6,514.7h.01M103.9,518.7h.01M104.3,507.4h.01M104.7,503.8h.01M105.0,509.8h.01M105.4,506.5h.01M105.8,513.0h.01M106.1,519.3h.01M106.5,493.6h.01M106.9,505.0h.01M107.2,521.8h.01M107.6,510.1h.01M107.9,510.4h.01M108.3,497.7h.01M108.7,483.3h.01M109.0,481.8h.01M109.4,490.7h.01M109.8,484.9h.01M110.1,473.8h.01M110.5,475.1h.01M110.8,487.9h.01M111.2,475.4h.01M111.6,483.4h.01M111.9,497.4h.01M112.3,502.4h.01M112.7,479.8h.01M113.0,489.5h.01M113.4,478.8h.01M113.8,478.0h.01M114.1,462.3h.01M114.5,482.8h.01M114.8,473.8h.01M115.2,488.6h.01M115.6,472.6h.01M115.9,471.0h.01M116.3,455.0h.01M116.7,479.0h.01M117.0,462.4h.01M117.4,435.5h.01M117.8,441.7h.01M118.1,456.5h.01M118.5,453.4h.01M118.8,443.6h.01M119.2,445.6h.01M119.6,448.2h.01M119.9,450.8h.01M120.3,448.5h.01M120.7,462.1h.01M121.0,450.6h.01M121.4,446.6h.01M121.8,451.2h.01M122.1,436.7h.01M122.5,452.0h.01M122.8,460.7h.01M123.2,459.4h.01M123.6,450.2h.01M123.9,455.1h.01M124.3,434.2h.01M124.7,442.3h.01M125.0,447.9h.01M125.4,450.6h.01M125.8,435.7h.01M126.1,445.4h.01M126.5,463.1h.01M126.8,433.2h.01M127.2,448.9h.01M127.6,431.0h.01M127.9,433.0h.01M128.3,447.3h.01M128.7,444.7h.01M129.0,439.1h.01M129.4,425.5h.01M129.8,430.4h.01M130.1,430.1h.01M130.5,440.5h.01M130.8,430.2h.01M131.2,420.8h.01M131.6,438.1h.01M131.9,435.9h.01M132.3,439.3h.01M132.7,429.3h.01M133.0,445.8h.01M133.4,425.2h.01M133.8,424.1h.01M134.1,403.4h.01M134.5,416.6h.01M134.8,418.3h.01M135.2,420.3h.01M135.6,422.4h.01M135.9,413.5h.01M136.3,428.5h.01M136.7,405.8h.01M137.0,407.3h.01M137.4,414.0h.01M137.7,400.6h.01M138.1,415.4h.01M138.5,415.5h.01M138.8,408.3h.01M139.2,419.2h.01M139.6,406.9h.01M139.9,408.4h.01M140.3,390.4h.01M140.7,392.0h.01M141.0,396.4h.01M141.4,399.2h.01M141.7,403.1h.01M142.1,405.8h.01M142.5,381.9h.01M142.8,389.6h.01M143.2,380.1h.01M143.6,401.4h.01M143.9,389.6h.01M144.3,392.1h.01M144.7,385.6h.01M145.0,401.7h.01M145.4,388.5h.01M145.7,394.6h.01M146.1,373.3h.01M146.5,390.4h.01M146.8,383.2h.01M147.2,384.6h.01M147.6,387.9h.01M147.9,380.6h.01M148.3,376.8h.01M148.7,377.6h.01M149.0,375.6h.01M149.4,367.6h.01M149.7,365.7h.01M150.1,366.9h.01M150.5,373.4h.01M150.8,372.0h.01M151.2,364.2h.01M151.6,374.4h.01M151.9,353.2h.01M152.3,358.5h.01M152.7,372.2h.01M153.0,356.7h.01M153.4,350.9h.01M153.7,364.5h.01M154.1,356.7h.01M154.5,348.3h.01M154.8,360.6h.01M155.2,349.8h.01M155.6,348.0h.01M155.9,353.9h.01M156.3,354.5h.01M156.7,381.4h.01M157.0,364.0h.01M157.4,363.3h.01M157.7,367.5h.01M158.1,366.2h.01M158.5,370.3h.01M158.8,359.7h.01M159.2,354.0h.01M159.6,350.8h.01M159.9,355.1h.01M160.3,344.5h.01M160.6,357.9h.01M161.0,348.2h.01M161.4,361.3h.01M161.7,350.4h.01M162.1,367.1h.01M162.5,392.8h.01M162.8,370.8h.01M163.2,369.5h.01M163.6,362.3h.01M163.9,369.3h.01M164.3,358.9h.01M164.6,365.0h.01M165.0,378.3h.01M165.4,393.1h.01M165.7,378.6h.01M166.1,381.4h.01M166.5,412.3h.01M166.8,392.5h.01M167.2,376.3h.01M167.6,401.3h.01M167.9,387.0h.01M168.3,371.9h.01M168.6,384.3h.01M169.0,380.2h.01M169.4,366.2h.01M169.7,364.7h.01M170.1,358.9h.01M170.5,357.7h.01M170.8,366.3h.01M171.2,365.3h.01M171.6,363.6h.01M171.9,361.9h.01M172.3,385.3h.01M172.6,363.4h.01M173.0,353.1h.01M173.4,360.1h.01M173.7,368.9h.01M174.1,362.6h.01M174.5,344.5h.01M174.8,350.5h.01M175.2,366.4h.01M175.6,360.2h.01M175.9,343.5h.01M176.3,378.4h.01M176.6,360.1h.01M177.0,369.3h.01M177.4,361.6h.01M177.7,369.8h.01M178.1,362.7h.01M178.5,373.7h.01M178.8,359.9h.01M179.2,355.3h.01M179.6,350.3h.01M179.9,362.0h.01M180.3,359.1h.01M180.6,349.2h.01M181.0,355.4h.01M181.4,344.1h.01M181.7,348.3h.01M182.1,342.6h.01M182.5,335.2h.01M182.8,346.8h.01M183.2,344.0h.01M183.6,353.7h.01M183.9,351.4h.01M184.3,338.5h.01M184.6,340.7h.01M185.0,351.4h.01M185.4,334.3h.01M185.7,337.3h.01M186.1,354.6h.01M186.5,390.3h.01M186.8,357.0h.01M187.2,354.8h.01M187.5,349.6h.01M187.9,358.1h.01M188.3,358.7h.01M188.6,349.5h.01M189.0,349.2h.01M189.4,344.6h.01M189.7,337.3h.01M190.1,356.6h.01M190.5,354.6h.01M190.8,344.5h.01M191.2,346.6h.01M191.5,347.9h.01M191.9,353.0h.01M192.3,341.3h.01M192.6,345.6h.01M193.0,334.6h.01M193.4,335.9h.01M193.7,352.3h.01M194.1,353.3h.01M194.5,342.2h.01M194.8,339.2h.01M195.2,347.7h.01M195.5,342.1h.01M195.9,339.5h.01M196.3,347.0h.01M196.6,346.5h.01M197.0,354.4h.01M197.4,351.0h.01M197.7,345.3h.01M198.1,345.0h.01M198.5,344.2h.01M198.8,334.2h.01M199.2,336.8h.01M199.5,346.2h.01M199.9,332.2h.01M200.3,347.1h.01M200.6,344.3h.01M201.0,341.2h.01M201.4,344.9h.01M201.7,342.8h.01M202.1,347.4h.01M202.5,353.2h.01M202.8,342.0h.01M203.2,342.1h.01M203.5,352.0h.01M203.9,351.6h.01M204.3,339.3h.01M204.6,341.9h.01M205.0,341.6h.01M205.4,343.1h.01M205.7,342.6h.01M206.1,352.0h.01M206.5,329.0h.01M206.8,341.9h.01M207.2,338.5h.01M207.5,334.5h.01M207.9,338.9h.01M208.3,336.6h.01M208.6,340.4h.01M209.0,341.9h.01M209.4,333.6h.01M209.7,348.8h.01M210.1,342.9h.01M210.4,351.6h.01M210.8,346.8h.01M211.2,348.8h.01M211.5,344.6h.01M211.9,344.7h.01M212.3,341.0h.01M212.6,338.1h.01M213.0,345.6h.01M213.4,345.5h.01M213.7,355.1h.01M214.1,335.4h.01M214.4,344.7h.01M214.8,350.5h.01M215.2,337.9h.01M215.5,340.4h.01M215.9,350.8h.01M216.3,347.9h.01M216.6,335.4h.01M217.0,347.4h.01M217.4,346.8h.01M217.7,349.4h.01M218.1,343.0h.01M218.4,341.6h.01M218.8,336.9h.01M219.2,339.0h.01M219.5,342.4h.01M219.9,341.1h.01M220.3,351.0h.01M220.6,339.4h.01M221.0,327.8h.01M221.4,337.1h.01M221.7,339.8h.01M222.1,337.9h.01M222.4,350.9h.01M222.8,333.7h.01M223.2,345.4h.01M223.5,334.1h.01M223.9,340.5h.01M224.3,334.5h.01M224.6,331.4h.01M225.0,341.6h.01M225.4,325.5h.01M225.7,331.2h.01M226.1,338.9h.01M226.4,332.0h.01M226.8,336.5h.01M227.2,332.4h.01M227.5,328.3h.01M227.9,340.6h.01M228.3,332.3h.01M228.6,332.0h.01M229.0,327.5h.01M229.4,328.5h.01M229.7,332.8h.01M230.1,332.9h.01M230.4,329.2h.01M230.8,325.5h.01M231.2,334.5h.01M231.5,320.7h.01M231.9,327.6h.01M232.3,328.2h.01M232.6,320.4h.01M233.0,330.5h.01M233.3,325.4h.01M233.7,324.7h.01M234.1,336.4h.01M234.4,334.3h.01M234.8,337.6h.01M235.2,331.4h.01M235.5,336.4h.01M235.9,334.6h.01M236.3,335.7h.01M236.6,345.7h.01M237.0,329.7h.01M237.3,331.9h.01M237.7,330.4h.01M238.1,318.9h.01M238.4,318.1h.01M238.8,330.1h.01M239.2,331.7h.01M239.5,326.6h.01M239.9,336.3h.01M240.3,333.4h.01M240.6,326.2h.01M241.0,333.5h.01M241.3,334.1h.01M241.7,327.6h.01M242.1,321.3h.01M242.4,332.2h.01M242.8,323.2h.01M243.2,318.0h.01M243.5,323.9h.01M243.9,316.5h.01M244.3,326.2h.01M244.6,325.7h.01M245.0,327.8h.01M245.3,328.0h.01M245.7,323.3h.01M246.1,329.1h.01M246.4,350.9h.01M246.8,330.0h.01M247.2,347.4h.01M247.5,332.9h.01M247.9,333.0h.01M248.3,341.7h.01M248.6,341.5h.01M249.0,336.9h.01M249.3,339.5h.01M249.7,341.6h.01M250.1,343.3h.01M250.4,341.1h.01M250.8,367.9h.01M251.2,335.2h.01M251.5,336.0h.01M251.9,337.9h.01M252.3,359.7h.01M252.6,326.8h.01M253.0,326.1h.01M253.3,326.1h.01M253.7,326.8h.01M254.1,330.5h.01M254.4,330.7h.01M254.8,324.0h.01M255.2,325.6h.01M255.5,332.3h.01M255.9,319.3h.01M256.2,324.3h.01M256.6,330.5h.01M257.0,324.1h.01M257.3,314.1h.01M257.7,322.9h.01M258.1,319.7h.01M258.4,317.9h.01M258.8,325.0h.01M259.2,320.2h.01M259.5,318.2h.01M259.9,321.8h.01M260.2,320.6h.01M260.6,319.5h.01M261.0,321.4h.01M261.3,319.8h.01M261.7,317.8h.01M262.1,315.1h.01M262.4,315.9h.01M262.8,308.9h.01M263.2,306.3h.01M263.5,316.9h.01M263.9,312.9h.01M264.2,313.3h.01M264.6,312.3h.01M265.0,312.8h.01M265.3,312.5h.01M265.7,311.5h.01M266.1,308.8h.01M266.4,315.3h.01M266.8,307.8h.01M267.2,317.0h.01M267.5,304.9h.01M267.9,307.9h.01M268.2,316.7h.01M268.6,312.5h.01M269.0,307.0h.01M269.3,313.6h.01M269.7,303.0h.01M270.1,312.8h.01M270.4,303.5h.01M270.8,312.6h.01M271.2,313.8h.01M271.5,319.5h.01M271.9,321.4h.01M272.2,313.5h.01M272.6,325.8h.01M273.0,314.5h.01M273.3,340.3h.01M273.7,307.1h.01M274.1,324.7h.01M274.4,316.6h.01M274.8,315.3h.01M275.2,312.1h.01M275.5,310.5h.01M275.9,304.6h.01M276.2,315.6h.01M276.6,322.5h.01M277.0,314.1h.01M277.3,302.1h.01M277.7,315.5h.01M278.1,309.9h.01M278.4,310.7h.01M278.8,315.4h.01M279.2,308.1h.01M279.5,314.8h.01M279.9,310.7h.01M280.2,306.3h.01M280.6,314.9h.01M281.0,309.5h.01M281.3,321.8h.01M281.7,314.0h.01M282.1,310.5h.01M282.4,312.5h.01M282.8,310.2h.01M283.1,306.9h.01M283.5,313.7h.01M283.9,306.8h.01M284.2,316.4h.01M284.6,309.2h.01M285.0,316.0h.01M285.3,314.6h.01M285.7,307.8h.01M286.1,310.7h.01M286.4,309.1h.01M286.8,311.6h.01M287.1,306.4h.01M287.5,311.6h.01M287.9,323.0h.01M288.2,312.5h.01M288.6,304.4h.01M289.0,311.4h.01M289.3,315.7h.01M289.7,310.8h.01M290.1,326.0h.01M290.4,323.9h.01M290.8,316.0h.01M291.1,307.0h.01M291.5,297.4h.01M291.9,293.5h.01M292.2,293.1h.01M292.6,297.4h.01M293.0,294.2h.01M293.3,282.9h.01M293.7,281.7h.01M294.1,283.2h.01M294.4,257.4h.01M294.8,267.1h.01M295.1,268.5h.01M295.5,274.5h.01M295.9,272.8h.01M296.2,310.4h.01M296.6,310.1h.01M297.0,281.4h.01M297.3,275.4h.01M297.7,259.6h.01M298.1,275.6h.01M298.4,263.3h.01M298.8,297.7h.01M299.1,276.5h.01M299.5,275.9h.01M299.9,282.4h.01M300.2,275.7h.01M300.6,279.5h.01M301.0,296.0h.01M301.3,305.6h.01M301.7,289.0h.01M302.1,292.4h.01M302.4,271.1h.01M302.8,298.7h.01M303.1,286.6h.01M303.5,288.6h.01M303.9,269.5h.01M304.2,285.1h.01M304.6,278.0h.01M305.0,266.1h.01M305.3,295.3h.01M305.7,278.1h.01M306.0,268.8h.01M306.4,272.0h.01M306.8,285.5h.01M307.1,275.0h.01M307.5,271.6h.01M307.9,278.9h.01M308.2,282.9h.01M308.6,255.5h.01M309.0,267.1h.01M309.3,262.2h.01M309.7,276.2h.01M310.0,289.9h.01M310.4,287.0h.01M310.8,266.8h.01M311.1,268.7h.01M311.5,291.1h.01M311.9,267.1h.01M312.2,244.3h.01M312.6,273.0h.01M313.0,247.3h.01M313.3,271.3h.01M313.7,266.4h.01M314.0,273.4h.01M314.4,258.3h.01M314.8,261.0h.01M315.1,267.8h.01M315.5,276.7h.01M315.9,276.3h.01M316.2,278.0h.01M316.6,292.5h.01M317.0,283.6h.01M317.3,262.9h.01M317.7,261.6h.01M318.0,283.5h.01M318.4,258.1h.01M318.8,277.8h.01M319.1,281.7h.01M319.5,258.8h.01M319.9,264.5h.01M320.2,272.0h.01M320.6,266.4h.01M321.0,265.9h.01M321.3,274.3h.01M321.7,288.5h.01M322.0,278.0h.01M322.4,278.1h.01M322.8,280.5h.01M323.1,263.6h.01M323.5,302.5h.01M323.9,265.5h.01M324.2,308.6h.01M324.6,294.3h.01M325.0,276.0h.01M325.3,295.7h.01M325.7,301.1h.01M326.0,281.7h.01M326.4,292.0h.01M326.8,278.0h.01M327.1,297.0h.01M327.5,293.5h.01M327.9,292.9h.01M328.2,300.7h.01M328.6,293.1h.01M328.9,302.8h.01M329.3,290.8h.01M329.7,271.5h.01M330.0,289.4h.01M330.4,289.9h.01M330.8,271.6h.01M331.1,299.0h.01M331.5,281.1h.01M331.9,283.5h.01M332.2,266.3h.01M332.6,275.6h.01M332.9,278.0h.01M333.3,271.6h.01M333.7,275.8h.01M334.0,252.9h.01M334.4,302.8h.01M334.8,264.2h.01M335.1,255.0h.01M335.5,269.2h.01M335.9,268.8h.01M336.2,286.1h.01M336.6,274.7h.01M336.9,286.4h.01M337.3,273.9h.01M337.7,240.0h.01M338.0,280.0h.01M338.4,302.4h.01M338.8,253.6h.01M339.1,271.3h.01M339.5,247.9h.01M339.9,260.9h.01M340.2,259.1h.01M340.6,238.9h.01M340.9,243.0h.01M341.3,242.8h.01M341.7,242.2h.01M342.0,252.8h.01M342.4,251.3h.01M342.8,246.8h.01M343.1,262.0h.01M343.5,243.0h.01M343.9,251.7h.01M344.2,260.5h.01M344.6,269.7h.01M344.9,270.0h.01M345.3,266.1h.01M345.7,280.9h.01M346.0,246.0h.01M346.4,280.1h.01M346.8,265.8h.01M347.1,288.8h.01M347.5,301.0h.01M347.9,265.2h.01M348.2,267.4h.01M348.6,284.1h.01M348.9,265.0h.01M349.3,278.9h.01M349.7,275.3h.01M350.0,269.8h.01M350.4,278.1h.01M350.8,261.1h.01M351.1,266.3h.01M351.5,308.6h.01M351.9,292.5h.01M352.2,280.9h.01M352.6,238.9h.01M352.9,261.9h.01M353.3,265.1h.01M353.7,270.6h.01M354.0,269.3h.01M354.4,263.8h.01M354.8,248.1h.01M355.1,265.8h.01M355.5,253.3h.01M355.8,246.5h.01M356.2,252.8h.01M356.6,271.4h.01M356.9,280.3h.01M357.3,254.8h.01M357.7,287.8h.01M358.0,285.4h.01M358.4,265.0h.01M358.8,264.0h.01M359.1,293.0h.01M359.5,279.5h.01M359.8,265.5h.01M360.2,259.2h.01M360.6,276.3h.01M360.9,251.2h.01M361.3,276.3h.01M361.7,287.9h.01M362.0,273.6h.01M362.4,282.3h.01M362.8,270.9h.01M363.1,273.7h.01M363.5,267.8h.01M363.8,254.2h.01M364.2,265.5h.01M364.6,267.2h.01M364.9,281.4h.01M365.3,287.5h.01M365.7,279.1h.01M366.0,267.7h.01M366.4,270.1h.01M366.8,275.9h.01M367.1,294.6h.01M367.5,283.1h.01M367.8,277.5h.01M368.2,265.2h.01M368.6,280.8h.01M368.9,276.2h.01M369.3,267.5h.01M369.7,273.2h.01M370.0,289.6h.01M370.4,268.0h.01M370.8,284.5h.01M371.1,282.3h.01M371.5,263.0h.01M371.8,282.0h.01M372.2,267.2h.01M372.6,258.7h.01M372.9,265.6h.01M373.3,259.1h.01M373.7,276.1h.01M374.0,268.7h.01M374.4,240.5h.01M374.8,280.5h.01M375.1,245.7h.01M375.5,275.5h.01M375.8,254.7h.01M376.2,270.9h.01M376.6,262.1h.01M376.9,273.1h.01M377.3,306.3h.01M377.7,245.2h.01M378.0,276.3h.01M378.4,271.6h.01M378.7,254.9h.01M379.1,281.4h.01M379.5,276.2h.01M379.8,274.0h.01M380.2,268.4h.01M380.6,310.3h.01M380.9,271.6h.01M381.3,255.9h.01M381.7,263.3h.01M382.0,267.6h.01M382.4,264.4h.01M382.7,269.6h.01M383.1,251.0h.01M383.5,229.5h.01M383.8,258.2h.01M384.2,245.1h.01M384.6,253.0h.01M384.9,263.4h.01M385.3,276.9h.01M385.7,278.7h.01M386.0,265.1h.01M386.4,271.1h.01M386.7,276.3h.01M387.1,293.8h.01M387.5,266.0h.01M387.8,275.9h.01M388.2,275.7h.01M388.6,255.5h.01M388.9,266.1h.01M389.3,263.9h.01M389.7,253.7h.01M390.0,262.6h.01M390.4,271.8h.01M390.7,276.1h.01M391.1,265.7h.01M391.5,269.6h.01M391.8,295.9h.01M392.2,263.2h.01M392.6,280.2h.01M392.9,287.4h.01M393.3,285.2h.01M393.7,287.6h.01M394.0,280.8h.01M394.4,281.7h.01M394.7,285.1h.01M395.1,267.2h.01M395.5,264.6h.01M395.8,264.6h.01M396.2,259.3h.01M396.6,269.3h.01M396.9,257.5h.01M397.3,284.5h.01M397.7,296.4h.01M398.0,303.3h.01M398.4,310.8h.01M398.7,282.3h.01M399.1,314.4h.01M399.5,289.6h.01M399.8,293.8h.01M400.2,311.1h.01M400.6,283.1h.01M400.9,303.5h.01M401.3,302.2h.01M401.6,294.1h.01M402.0,285.7h.01M402.4,241.1h.01M402.7,277.1h.01M403.1,289.1h.01M403.5,289.4h.01M403.8,258.5h.01M404.2,263.6h.01M404.6,263.9h.01M404.9,257.9h.01M405.3,260.8h.01M405.6,273.6h.01M406.0,272.5h.01M406.4,260.3h.01M406.7,271.7h.01M407.1,287.9h.01M407.5,263.4h.01M407.8,266.8h.01M408.2,295.0h.01M408.6,291.3h.01M408.9,259.5h.01M409.3,265.8h.01M409.6,281.5h.01M410.0,262.0h.01M410.4,273.5h.01M410.7,271.2h.01M411.1,280.8h.01M411.5,246.2h.01M411.8,245.7h.01M412.2,261.5h.01M412.6,287.0h.01M412.9,278.0h.01M413.3,262.3h.01M413.6,290.0h.01M414.0,297.8h.01M414.4,285.0h.01M414.7,282.8h.01M415.1,290.7h.01M415.5,297.1h.01M415.8,281.7h.01M416.2,282.2h.01M416.6,275.3h.01M416.9,273.8h.01M417.3,269.2h.01M417.6,317.2h.01M418.0,282.4h.01M418.4,284.6h.01M418.7,308.7h.01M419.1,303.4h.01M419.5,312.1h.01M419.8,278.8h.01M420.2,299.1h.01M420.6,281.6h.01M420.9,283.6h.01M421.3,255.6h.01M421.6,296.4h.01M422.0,296.1h.01M422.4,288.2h.01M422.7,288.4h.01M423.1,311.0h.01M423.5,308.1h.01M423.8,354.5h.01M424.2,310.6h.01M424.6,304.0h.01M424.9,334.2h.01M425.3,343.4h.01M425.6,345.9h.01M426.0,356.1h.01M426.4,374.0h.01M426.7,342.4h.01M427.1,345.5h.01M427.5,330.7h.01M427.8,360.0h.01M428.2,365.3h.01M428.5,363.4h.01M428.9,399.2h.01M429.3,372.4h.01M429.6,381.8h.01M430.0,367.3h.01M430.4,349.7h.01M430.7,354.3h.01M431.1,346.3h.01M431.5,344.9h.01M431.8,376.1h.01M432.2,383.2h.01M432.5,391.7h.01M432.9,371.1h.01M433.3,380.2h.01M433.6,361.4h.01M434.0,387.6h.01M434.4,381.4h.01M434.7,363.8h.01M435.1,415.9h.01M435.5,369.3h.01M435.8,335.0h.01M436.2,366.7h.01M436.5,306.8h.01M436.9,336.5h.01M437.3,330.1h.01M437.6,306.4h.01M438.0,368.5h.01M438.4,381.7h.01M438.7,354.9h.01M439.1,372.7h.01M439.5,394.6h.01M439.8,368.4h.01M440.2,381.7h.01M440.5,363.7h.01M440.9,420.7h.01M441.3,396.2h.01M441.6,389.2h.01M442.0,381.9h.01M442.4,367.1h.01M442.7,366.8h.01M443.1,379.6h.01M443.5,364.7h.01M443.8,387.2h.01M444.2,370.0h.01M444.5,259.6h.01M444.9,388.4h.01M445.3,355.6h.01M445.6,414.8h.01M446.0,339.1h.01M446.4,328.7h.01M446.7,365.5h.01M447.1,348.2h.01M447.5,381.7h.01M447.8,358.3h.01M448.2,354.0h.01M448.5,385.4h.01M448.9,295.0h.01M449.3,385.5h.01M449.6,367.4h.01M450.0,389.9h.01M450.4,264.1h.01M450.7,362.4h.01M451.1,347.0h.01M451.4,360.4h.01M451.8,380.1h.01M452.2,412.5h.01M452.5,382.3h.01M452.9,386.1h.01M453.3,363.1h.01M453.6,372.6h.01M454.0,371.5h.01M454.4,366.6h.01M454.7,375.3h.01M455.1,339.2h.01M455.4,277.9h.01M455.8,402.5h.01M456.2,360.5h.01M456.5,347.1h.01M456.9,355.1h.01M457.3,263.4h.01M457.6,343.5h.01M458.0,337.4h.01M458.4,347.5h.01M458.7,333.2h.01M459.1,348.0h.01M459.4,301.9h.01M459.8,312.4h.01M460.2,410.3h.01M460.5,295.1h.01M460.9,324.1h.01M461.3,297.8h.01M461.6,312.2h.01M462.0,308.4h.01M462.4,321.8h.01M462.7,322.0h.01M463.1,322.6h.01M463.4,313.8h.01M463.8,349.9h.01M464.2,351.3h.01M464.5,299.4h.01M464.9,311.2h.01M465.3,310.7h.01M465.6,307.1h.01M466.0,309.8h.01M466.4,278.0h.01M466.7,301.5h.01M467.1,307.3h.01M467.4,291.7h.01M467.8,294.4h.01M468.2,261.9h.01M468.5,276.3h.01M468.9,317.2h.01M469.3,257.8h.01M469.6,253.4h.01M470.0,278.4h.01M470.4,282.7h.01M470.7,290.1h.01M471.1,251.3h.01M471.4,272.2h.01M471.8,277.4h.01M472.2,260.2h.01M472.5,278.9h.01M472.9,294.5h.01M473.3,289.2h.01M473.6,295.0h.01M474.0,249.2h.01M474.3,272.8h.01M474.7,282.3h.01M475.1,272.4h.01M475.4,270.7h.01M475.8,304.5h.01M476.2,270.6h.01M476.5,246.5h.01M476.9,270.9h.01M477.3,262.2h.01M477.6,262.3h.01M478.0,260.6h.01M478.3,269.2h.01M478.7,267.3h.01M479.1,250.8h.01M479.4,263.1h.01M479.8,271.2h.01M480.2,261.0h.01M480.5,278.2h.01M480.9,277.0h.01M481.3,258.4h.01M481.6,272.5h.01M482.0,294.9h.01M482.3,291.0h.01M482.7,277.4h.01M483.1,290.4h.01M483.4,351.3h.01M483.8,274.1h.01M484.2,299.4h.01M484.5,307.0h.01M484.9,319.6h.01M485.3,306.0h.01M485.6,310.4h.01M486.0,291.9h.01M486.3,300.6h.01M486.7,302.0h.01M487.1,292.0h.01M487.4,295.4h.01M487.8,261.2h.01M488.2,275.2h.01M488.5,364.2h.01M488.9,296.9h.01M489.3,280.0h.01M489.6,278.1h.01M490.0,261.6h.01M490.3,282.4h.01M490.7,275.1h.01M491.1,247.3h.01M491.4,262.3h.01M491.8,254.4h.01M492.2,249.7h.01M492.5,231.2h.01M492.9,246.0h.01M493.3,223.8h.01M493.6,262.5h.01M494.0,244.0h.01M494.3,218.2h.01M494.7,230.0h.01M495.1,250.2h.01M495.4,223.7h.01M495.8,261.9h.01M496.2,223.9h.01M496.5,236.3h.01M496.9,241.4h.01M497.3,206.4h.01M497.6,244.2h.01M498.0,227.6h.01M498.3,232.6h.01M498.7,222.3h.01M499.1,241.1h.01M499.4,223.3h.01M499.8,226.3h.01M500.2,229.5h.01M500.5,227.9h.01M500.9,268.4h.01M501.2,370.3h.01M501.6,259.2h.01M502.0,345.8h.01M502.3,293.5h.01M502.7,309.5h.01M503.1,322.1h.01M503.4,322.6h.01M503.8,316.9h.01M504.2,317.9h.01M504.5,322.9h.01M504.9,317.4h.01M505.2,299.3h.01M505.6,281.0h.01M506.0,335.0h.01M506.3,312.9h.01M506.7,299.3h.01M507.1,306.1h.01M507.4,291.8h.01M507.8,288.2h.01M508.2,294.4h.01M508.5,250.5h.01M508.9,288.5h.01M509.2,280.3h.01M509.6,286.1h.01M510.0,290.4h.01M510.3,279.7h.01M510.7,286.3h.01M511.1,256.5h.01M511.4,279.4h.01M511.8,277.1h.01M512.2,267.8h.01M512.5,355.8h.01M512.9,291.0h.01M513.2,281.2h.01M513.6,290.4h.01M514.0,277.8h.01M514.3,284.0h.01M514.7,273.0h.01M515.1,236.2h.01M515.4,277.4h.01M515.8,273.8h.01M516.2,299.1h.01M516.5,296.7h.01M516.9,310.1h.01M517.2,333.0h.01M517.6,388.6h.01M518.0,354.4h.01M518.3,365.2h.01M518.7,367.1h.01M519.1,368.8h.01M519.4,369.7h.01M519.8,361.6h.01M520.2,355.4h.01M520.5,359.0h.01M520.9,387.1h.01M521.2,360.5h.01M521.6,354.7h.01M522.0,363.3h.01M522.3,363.2h.01M522.7,363.3h.01M523.1,343.0h.01M523.4,330.9h.01M523.8,352.0h.01M524.1,334.4h.01M524.5,356.6h.01M524.9,346.9h.01M525.2,362.1h.01M525.6,374.6h.01M526.0,355.2h.01M526.3,410.6h.01M526.7,345.0h.01M527.1,346.9h.01M527.4,350.2h.01M527.8,324.7h.01M528.1,346.0h.01M528.5,323.5h.01M528.9,349.3h.01M529.2,346.1h.01M529.6,363.8h.01M530.0,362.2h.01M530.3,375.4h.01M530.7,359.3h.01M531.1,376.0h.01M531.4,395.4h.01M531.8,421.5h.01M532.1,383.6h.01M532.5,371.3h.01M532.9,402.7h.01M533.2,374.6h.01M533.6,387.0h.01M534.0,379.4h.01M534.3,365.3h.01M534.7,386.1h.01M535.1,373.4h.01M535.4,340.8h.01M535.8,373.3h.01M536.1,380.5h.01M536.5,384.5h.01M536.9,401.8h.01M537.2,386.2h.01M537.6,399.5h.01M538.0,389.6h.01M538.3,384.0h.01M538.7,393.2h.01M539.1,393.1h.01M539.4,402.7h.01M539.8,416.0h.01M540.1,392.8h.01M540.5,438.5h.01M540.9,403.0h.01M541.2,404.3h.01M541.6,415.8h.01M542.0,383.7h.01M542.3,365.9h.01M542.7,367.6h.01M543.1,305.6h.01M543.4,227.7h.01M543.8,232.9h.01M544.1,241.3h.01M544.5,322.3h.01M544.9,294.9h.01M545.2,348.1h.01M545.6,221.5h.01M546.0,372.0h.01M546.3,348.3h.01M546.7,308.2h.01M547.0,320.2h.01M547.4,333.5h.01M547.8,332.8h.01M548.1,325.4h.01M548.5,344.5h.01M548.9,332.3h.01M549.2,389.2h.01M549.6,354.0h.01M550.0,208.8h.01M550.3,343.2h.01M550.7,250.4h.01M551.0,287.6h.01M551.4,272.8h.01M551.8,323.2h.01M552.1,308.1h.01M552.5,299.3h.01M552.9,380.0h.01M553.2,319.0h.01M553.6,311.9h.01M554.0,203.4h.01M554.3,337.7h.01M554.7,266.3h.01M555.0,316.8h.01M555.4,329.6h.01M555.8,339.4h.01M556.1,329.2h.01M556.5,410.6h.01M556.9,321.9h.01M557.2,326.6h.01M557.6,269.7h.01M558.0,313.7h.01M558.3,307.7h.01M558.7,327.6h.01M559.0,209.6h.01M559.4,219.6h.01M559.8,326.0h.01M560.1,199.8h.01M560.5,290.6h.01M560.9,372.0h.01M561.2,296.4h.01M561.6,287.0h.01M562.0,337.7h.01M562.3,309.0h.01M562.7,297.4h.01M563.0,306.4h.01M563.4,171.5h.01M563.8,340.9h.01M564.1,294.4h.01M564.5,301.5h.01M564.9,351.7h.01M565.2,189.5h.01M565.6,171.0h.01M566.0,330.1h.01M566.3,325.1h.01M566.7,340.0h.01M567.0,314.2h.01M567.4,327.0h.01M567.8,326.3h.01M568.1,304.9h.01M568.5,171.5h.01M568.9,339.0h.01M569.2,180.7h.01M569.6,173.8h.01M570.0,171.0h.01M570.3,203.0h.01M570.7,170.5h.01M571.0,310.4h.01M571.4,329.7h.01M571.8,317.0h.01M572.1,150.0h.01M572.5,303.9h.01M572.9,181.6h.01M573.2,335.5h.01M573.6,178.2h.01M573.9,375.7h.01M574.3,303.1h.01M574.7,166.6h.01M575.0,176.6h.01M575.4,166.4h.01M575.8,324.9h.01M576.1,329.5h.01M576.5,154.0h.01M576.9,324.9h.01M577.2,332.4h.01M577.6,329.6h.01M577.9,368.0h.01M578.3,152.5h.01M578.7,161.0h.01M579.0,176.9h.01M579.4,214.5h.01M579.8,308.1h.01M580.1,169.1h.01M580.5,153.0h.01M580.9,335.6h.01M581.2,295.4h.01M581.6,327.9h.01M581.9,305.2h.01M582.3,194.4h.01M582.7,325.1h.01M583.0,151.5h.01M583.4,302.0h.01M583.8,311.2h.01M584.1,356.3h.01M584.5,170.6h.01M584.9,154.0h.01M585.2,320.1h.01M585.6,315.7h.01M585.9,322.9h.01M586.3,310.9h.01M586.7,333.5h.01M587.0,216.6h.01M587.4,293.0h.01M587.8,283.8h.01M588.1,374.0h.01M588.5,155.0h.01M588.9,189.4h.01M589.2,172.2h.01M589.6,278.0h.01M589.9,329.9h.01M590.3,303.1h.01M590.7,291.1h.01M591.0,171.9h.01M591.4,272.1h.01M591.8,270.0h.01M592.1,161.0h.01M592.5,315.3h.01M592.9,352.0h.01M593.2,299.6h.01M593.6,189.3h.01M593.9,282.6h.01M594.3,171.0h.01M594.7,169.0h.01M595.0,219.7h.01M595.4,174.5h.01M595.8,305.6h.01M596.1,312.5h.01M596.5,165.0h.01M596.8,157.0h.01M597.2,200.9h.01M597.6,213.3h.01M597.9,166.8h.01M598.3,281.1h.01M598.7,357.3h.01M599.0,173.6h.01M599.4,177.9h.01M599.8,168.8h.01M600.1,180.9h.01M600.5,245.4h.01M600.8,206.8h.01M601.2,157.0h.01M601.6,198.9h.01M601.9,188.2h.01M602.3,183.6h.01M602.7,188.6h.01M603.0,202.6h.01M603.4,196.8h.01M603.8,190.3h.01M604.1,225.4h.01M604.5,199.8h.01M604.8,173.0h.01M605.2,184.5h.01M605.6,182.7h.01M605.9,193.9h.01M606.3,194.7h.01M606.7,200.1h.01M607.0,242.4h.01M607.4,211.0h.01M607.8,206.1h.01M608.1,198.8h.01M608.5,195.5h.01M608.8,205.3h.01M609.2,197.1h.01M609.6,197.4h.01M609.9,174.0h.01M610.3,200.2h.01M610.7,208.1h.01M611.0,212.3h.01M611.4,188.4h.01M611.8,176.7h.01M612.1,198.4h.01M612.5,190.6h.01M612.8,177.8h.01M613.2,200.5h.01M613.6,213.3h.01M613.9,213.3h.01M614.3,222.1h.01M614.7,215.2h.01M615.0,247.4h.01M615.4,215.8h.01M615.8,274.0h.01M616.1,196.6h.01M616.5,217.5h.01M616.8,209.9h.01M617.2,208.0h.01M617.6,203.4h.01M617.9,207.9h.01M618.3,206.2h.01M618.7,189.5h.01M619.0,217.9h.01M619.4,263.8h.01M619.8,214.1h.01M620.1,218.7h.01M620.5,229.4h.01M620.8,244.4h.01M621.2,224.5h.01M621.6,227.6h.01M621.9,220.5h.01M622.3,211.3h.01M622.7,227.7h.01M623.0,229.0h.01M623.4,221.3h.01M623.7,234.0h.01M624.1,251.6h.01M624.5,226.5h.01M624.8,219.7h.01M625.2,224.8h.01M625.6,211.0h.01M625.9,214.7h.01M626.3,214.3h.01M626.7,196.3h.01M627.0,224.7h.01M627.4,213.7h.01M627.7,230.8h.01M628.1,227.5h.01M628.5,237.8h.01M628.8,255.3h.01M629.2,208.2h.01M629.6,228.6h.01M629.9,208.9h.01M630.3,216.7h.01M630.7,223.8h.01M631.0,221.1h.01M631.4,224.3h.01M631.7,222.2h.01M632.1,200.6h.01M632.5,253.4h.01M632.8,213.1h.01M633.2,233.5h.01M633.6,214.5h.01M633.9,215.4h.01M634.3,174.7h.01M634.7,207.9h.01M635.0,207.8h.01M635.4,215.4h.01M635.7,196.3h.01M636.1,224.0h.01M636.5,217.6h.01M636.8,210.7h.01M637.2,197.0h.01M637.6,201.1h.01M637.9,217.0h.01M638.3,196.8h.01M638.7,193.5h.01M639.0,211.5h.01M639.4,173.4h.01M639.7,193.3h.01M640.1,214.9h.01M640.5,214.0h.01M640.8,213.2h.01M641.2,213.3h.01M641.6,225.4h.01M641.9,217.2h.01M642.3,257.2h.01M642.7,219.0h.01M643.0,227.7h.01M643.4,233.7h.01M643.7,231.2h.01M644.1,229.1h.01M644.5,199.1h.01M644.8,206.4h.01M645.2,212.7h.01M645.6,216.0h.01M645.9,203.7h.01M646.3,222.7h.01M646.6,210.5h.01M647.0,200.6h.01M647.4,210.4h.01M647.7,194.8h.01M648.1,183.7h.01M648.5,195.7h.01M648.8,190.2h.01M649.2,179.4h.01M649.6,190.9h.01M649.9,205.9h.01M650.3,190.4h.01M650.6,226.8h.01M651.0,196.2h.01M651.4,220.1h.01M651.7,212.8h.01M652.1,180.0h.01M652.5,200.6h.01M652.8,207.8h.01M653.2,201.0h.01M653.6,185.9h.01M653.9,198.7h.01M654.3,214.4h.01M654.6,180.0h.01M655.0,238.4h.01M655.4,197.1h.01M655.7,195.6h.01M656.1,179.0h.01M656.5,192.9h.01M656.8,208.4h.01M657.2,203.7h.01M657.6,188.0h.01M657.9,209.9h.01M658.3,184.5h.01M658.6,203.1h.01M659.0,200.9h.01M659.4,207.2h.01M659.7,197.0h.01M660.1,205.6h.01M660.5,199.7h.01M660.8,202.5h.01M661.2,194.8h.01M661.6,211.1h.01M661.9,183.0h.01M662.3,199.6h.01M662.6,196.9h.01M663.0,197.2h.01M663.4,188.5h.01M663.7,203.0h.01M664.1,190.3h.01M664.5,191.6h.01M664.8,218.2h.01M665.2,202.0h.01M665.6,228.1h.01M665.9,213.9h.01M666.3,219.5h.01M666.6,223.8h.01M667.0,232.6h.01M667.4,370.0h.01M667.7,241.7h.01M668.1,237.5h.01M668.5,239.2h.01M668.8,226.8h.01M669.2,217.1h.01M669.5,209.5h.01M669.9,198.8h.01M670.3,183.6h.01M670.6,205.6h.01M671.0,207.9h.01M671.4,193.3h.01M671.7,202.2h.01M672.1,207.8h.01M672.5,193.5h.01M672.8,203.6h.01M673.2,205.3h.01M673.5,186.1h.01M673.9,198.0h.01M674.3,202.3h.01M674.6,211.6h.01M675.0,190.3h.01M675.4,196.5h.01M675.7,183.5h.01M676.1,194.5h.01M676.5,191.5h.01M676.8,200.6h.01M677.2,199.6h.01M677.5,194.2h.01M677.9,195.2h.01M678.3,194.9h.01M678.6,193.7h.01M679.0,206.1h.01M679.4,168.8h.01M679.7,188.0h.01M680.1,193.7h.01M680.5,196.3h.01M680.8,176.8h.01M681.2,190.1h.01M681.5,193.5h.01M681.9,184.0h.01M682.3,174.0h.01M682.6,189.4h.01M683.0,184.3h.01M683.4,203.5h.01M683.7,192.3h.01M684.1,213.3h.01M684.5,195.5h.01M684.8,176.0h.01M685.2,184.5h.01M685.5,177.6h.01M685.9,197.4h.01M686.3,210.8h.01M686.6,189.8h.01M687.0,206.6h.01M687.4,184.3h.01M687.7,197.1h.01M688.1,216.5h.01M688.5,185.0h.01M688.8,205.6h.01M689.2,202.9h.01M689.5,180.0h.01M689.9,174.0h.01M690.3,199.2h.01M690.6,207.6h.01M691.0,201.1h.01M691.4,200.9h.01M691.7,206.1h.01M692.1,200.4h.01M692.4,204.9h.01M692.8,201.6h.01M693.2,210.1h.01M693.5,199.4h.01M693.9,215.1h.01M694.3,205.6h.01M694.6,202.8h.01M695.0,210.6h.01M695.4,214.4h.01M695.7,198.6h.01M696.1,210.4h.01M696.4,198.4h.01M696.8,205.2h.01M697.2,214.1h.01M697.5,202.6h.01M697.9,210.6h.01M698.3,205.0h.01M698.6,215.7h.01M699.0,205.9h.01M699.4,201.0h.01M699.7,202.8h.01M700.1,202.2h.01M700.4,206.7h.01M700.8,208.1h.01M701.2,210.6h.01M701.5,206.8h.01M701.9,205.9h.01M702.3,210.9h.01M702.6,206.0h.01M703.0,209.9h.01M703.4,210.2h.01M703.7,214.4h.01M704.1,204.4h.01M704.4,201.1h.01M704.8,206.5h.01M705.2,211.3h.01M705.5,198.8h.01M705.9,209.5h.01M706.3,212.2h.01M706.6,208.4h.01M707.0,201.8h.01M707.4,219.9h.01M707.7,220.6h.01M708.1,211.8h.01M708.4,219.6h.01M708.8,221.5h.01M709.2,210.2h.01M709.5,228.9h.01M709.9,207.6h.01M710.3,214.0h.01M710.6,211.4h.01M711.0,215.7h.01M711.4,205.3h.01M711.7,210.1h.01M712.1,215.1h.01M712.4,214.2h.01M712.8,209.1h.01M713.2,218.4h.01M713.5,204.9h.01M713.9,216.2h.01M714.3,206.4h.01M714.6,207.9h.01M715.0,207.3h.01M715.4,210.0h.01M715.7,206.6h.01M716.1,200.7h.01M716.4,202.6h.01M716.8,208.1h.01M717.2,204.1h.01M717.5,197.6h.01M717.9,201.2h.01M718.3,200.2h.01M718.6,203.4h.01M719.0,206.8h.01M719.3,207.3h.01M719.7,201.8h.01M720.1,205.9h.01M720.4,201.6h.01M720.8,191.7h.01M721.2,206.2h.01M721.5,200.1h.01M721.9,201.8h.01M722.3,200.1h.01M722.6,208.0h.01M723.0,197.4h.01M723.3,206.9h.01M723.7,203.6h.01M724.1,197.7h.01M724.4,196.6h.01M724.8,206.4h.01M725.2,205.2h.01M725.5,207.0h.01M725.9,213.9h.01M726.3,237.1h.01M726.6,207.7h.01M727.0,203.9h.01M727.3,206.3h.01M727.7,202.8h.01M728.1,201.4h.01M728.4,215.1h.01M728.8,196.6h.01M729.2,210.1h.01M729.5,209.8h.01M729.9,208.1h.01M730.3,205.4h.01M730.6,206.8h.01M731.0,207.2h.01M731.3,202.0h.01M731.7,209.3h.01M732.1,204.9h.01M732.4,204.5h.01M732.8,212.0h.01M733.2,204.1h.01M733.5,211.4h.01M733.9,204.3h.01M734.3,214.5h.01M734.6,211.6h.01M735.0,213.4h.01M735.3,206.8h.01M735.7,207.6h.01M736.1,207.6h.01M736.4,213.1h.01M736.8,214.5h.01M737.2,217.8h.01M737.5,209.4h.01M737.9,211.9h.01M738.3,204.0h.01M738.6,199.9h.01M739.0,203.0h.01M739.3,208.3h.01M739.7,204.3h.01M740.1,226.6h.01M740.4,216.4h.01M740.8,210.0h.01M741.2,205.3h.01M741.5,226.6h.01M741.9,213.6h.01M742.2,210.2h.01M742.6,214.6h.01M743.0,208.3h.01M743.3,218.3h.01M743.7,204.2h.01M744.1,207.3h.01M744.4,212.9h.01M744.8,210.8h.01M745.2,222.1h.01M745.5,205.4h.01M745.9,208.7h.01M746.2,212.9h.01M746.6,214.1h.01M747.0,218.7h.01M747.3,214.1h.01M747.7,223.8h.01M748.1,209.7h.01M748.4,213.9h.01M748.8,216.1h.01M749.2,209.7h.01M749.5,207.8h.01M749.9,208.5h.01M750.2,206.7h.01M750.6,205.8h.01M751.0,222.6h.01M751.3,201.4h.01M751.7,212.4h.01M752.1,201.4h.01M752.4,221.4h.01M752.8,216.5h.01M753.2,214.0h.01M753.5,207.3h.01M753.9,202.7h.01M754.2,219.2h.01M754.6,209.9h.01M755.0,211.0h.01M755.3,205.6h.01M755.7,214.1h.01M756.1,206.9h.01M756.4,208.3h.01M756.8,202.3h.01M757.2,208.7h.01M757.5,212.2h.01M757.9,205.8h.01M758.2,205.9h.01M758.6,209.0h.01M759.0,205.8h.01M759.3,214.4h.01M759.7,195.5h.01M760.1,211.4h.01M760.4,213.0h.01M760.8,202.8h.01M761.2,205.4h.01M761.5,215.1h.01M761.9,206.8h.01M762.2,206.4h.01M762.6,214.3h.01M763.0,210.1h.01M763.3,212.0h.01M763.7,207.7h.01M764.1,213.5h.01M764.4,217.0h.01M764.8,212.5h.01M765.1,201.2h.01M765.5,215.3h.01M765.9,209.4h.01M766.2,205.5h.01M766.6,216.9h.01M767.0,201.4h.01M767.3,219.5h.01M767.7,207.5h.01M768.1,220.6h.01M768.4,212.6h.01M768.8,207.0h.01M769.1,214.8h.01M769.5,217.0h.01M769.9,217.7h.01M770.2,218.3h.01M770.6,209.0h.01M771.0,214.9h.01M771.3,214.1h.01M771.7,211.3h.01M772.1,208.2h.01M772.4,208.1h.01M772.8,218.2h.01M773.1,213.7h.01M773.5,208.1h.01M773.9,202.2h.01M774.2,215.8h.01M774.6,200.1h.01M775.0,212.2h.01M775.3,203.6h.01M775.7,198.9h.01M776.1,206.6h.01M776.4,204.5h.01M776.8,211.9h.01M777.1,213.5h.01M777.5,202.7h.01M777.9,208.5h.01M778.2,209.1h.01M778.6,198.5h.01M779.0,201.1h.01M779.3,210.9h.01M779.7,202.3h.01M780.1,204.3h.01M780.4,201.6h.01M780.8,200.4h.01M781.1,195.5h.01M781.5,204.6h.01M781.9,208.0h.01M782.2,198.3h.01M782.6,195.1h.01M783.0,199.4h.01M783.3,192.5h.01M783.7,194.5h.01M784.1,204.2h.01M784.4,209.7h.01M784.8,199.5h.01M785.1,192.4h.01M785.5,206.3h.01M785.9,185.6h.01M786.2,191.4h.01M786.6,204.9h.01M787.0,204.0h.01M787.3,184.1h.01M787.7,184.0h.01M788.1,199.2h.01M788.4,189.9h.01M788.8,181.2h.01M789.1,187.8h.01M789.5,182.3h.01M789.9,173.9h.01M790.2,188.6h.01M790.6,183.6h.01M791.0,181.2h.01M791.3,182.7h.01M791.7,194.4h.01M792.0,185.4h.01M792.4,193.2h.01M792.8,189.6h.01M793.1,200.1h.01M793.5,190.8h.01M793.9,185.0h.01M794.2,183.3h.01M794.6,186.4h.01M795.0,197.5h.01M795.3,210.6h.01M795.7,184.7h.01M796.0,191.5h.01M796.4,200.2h.01M796.8,196.6h.01M797.1,189.1h.01M797.5,191.1h.01M797.9,188.1h.01M798.2,195.0h.01M798.6,202.1h.01M799.0,203.5h.01M799.3,194.2h.01M799.7,190.6h.01M800.0,192.2h.01M800.4,181.4h.01M800.8,196.3h.01M801.1,188.1h.01M801.5,193.4h.01M801.9,201.5h.01M802.2,191.1h.01M802.6,187.5h.01M803.0,193.1h.01M803.3,192.8h.01M803.7,195.5h.01M804.0,190.9h.01M804.4,189.2h.01M804.8,192.3h.01M805.1,188.7h.01M805.5,188.8h.01M805.9,189.5h.01M806.2,216.7h.01M806.6,203.1h.01M807.0,190.4h.01M807.3,192.1h.01M807.7,191.0h.01M808.0,204.1h.01M808.4,196.0h.01M808.8,192.7h.01M809.1,202.3h.01M809.5,198.7h.01M809.9,193.7h.01M810.2,203.6h.01M810.6,198.3h.01M811.0,198.2h.01M811.3,204.3h.01M811.7,197.1h.01M812.0,192.5h.01M812.4,185.8h.01M812.8,197.6h.01M813.1,189.0h.01M813.5,190.8h.01M813.9,188.6h.01M814.2,184.9h.01M814.6,183.5h.01M814.9,193.4h.01M815.3,215.7h.01M815.7,188.6h.01M816.0,192.7h.01M816.4,199.1h.01M816.8,180.8h.01M817.1,176.2h.01M817.5,180.9h.01M817.9,194.7h.01M818.2,193.5h.01M818.6,192.0h.01M818.9,184.5h.01M819.3,193.7h.01M819.7,202.6h.01M820.0,196.1h.01M820.4,193.7h.01M820.8,202.5h.01M821.1,192.4h.01M821.5,196.4h.01M821.9,197.2h.01M822.2,191.0h.01M822.6,187.3h.01M822.9,195.5h.01M823.3,192.3h.01M823.7,194.3h.01M824.0,196.4h.01M824.4,193.8h.01M824.8,184.1h.01M825.1,187.2h.01M825.5,190.5h.01M825.9,191.8h.01M826.2,195.0h.01M826.6,183.1h.01M826.9,192.8h.01M827.3,189.8h.01M827.7,186.6h.01M828.0,187.6h.01M828.4,193.7h.01M828.8,199.1h.01M829.1,177.8h.01M829.5,191.2h.01M829.9,188.5h.01M830.2,189.2h.01M830.6,194.6h.01M830.9,193.0h.01M831.3,187.5h.01M831.7,189.7h.01M832.0,194.1h.01M832.4,184.0h.01M832.8,199.2h.01M833.1,189.6h.01M833.5,194.5h.01M833.9,192.5h.01M834.2,200.2h.01M834.6,189.4h.01M834.9,188.6h.01M835.3,201.7h.01M835.7,189.5h.01M836.0,190.4h.01M836.4,189.7h.01M836.8,216.7h.01M837.1,198.5h.01M837.5,202.5h.01M837.9,201.1h.01M838.2,199.8h.01M838.6,195.8h.01M838.9,194.8h.01M839.3,197.0h.01M839.7,194.3h.01M840.0,201.8h.01M840.4,188.8h.01M840.8,191.9h.01M841.1,187.3h.01M841.5,197.6h.01M841.8,184.6h.01M842.2,192.7h.01M842.6,195.6h.01M842.9,191.5h.01M843.3,200.5h.01M843.7,185.8h.01M844.0,284.4h.01M844.4,188.5h.01M844.8,203.3h.01M845.1,203.2h.01M845.5,201.7h.01M845.8,214.5h.01M846.2,207.6h.01M846.6,195.6h.01M846.9,193.3h.01M847.3,179.0h.01M847.7,188.4h.01M848.0,198.3h.01M848.4,175.4h.01M848.8,188.6h.01M849.1,183.5h.01M849.5,198.2h.01M849.8,191.0h.01M850.2,188.9h.01M850.6,180.7h.01M850.9,189.3h.01M851.3,202.4h.01M851.7,189.4h.01M852.0,195.2h.01M852.4,194.2h.01M852.8,181.2h.01M853.1,197.5h.01M853.5,196.8h.01M853.8,189.3h.01M854.2,190.0h.01M854.6,194.8h.01M854.9,191.4h.01M855.3,198.1h.01M855.7,194.6h.01M856.0,182.5h.01M856.4,197.0h.01M856.8,193.8h.01M857.1,192.3h.01M857.5,198.3h.01M857.8,194.9h.01M858.2,194.5h.01M858.6,199.7h.01M858.9,192.4h.01M859.3,180.4h.01M859.7,184.5h.01M860.0,189.8h.01M860.4,181.0h.01M860.8,178.8h.01M861.1,180.9h.01M861.5,185.6h.01M861.8,187.6h.01M862.2,191.3h.01M862.6,184.8h.01M862.9,187.2h.01M863.3,189.2h.01M863.7,187.5h.01M864.0,175.7h.01M864.4,185.9h.01M864.7,179.5h.01M865.1,195.8h.01M865.5,196.2h.01M865.8,196.6h.01M866.2,194.6h.01M866.6,189.1h.01M866.9,198.3h.01M867.3,190.9h.01M867.7,195.1h.01M868.0,181.9h.01M868.4,180.3h.01M868.7,184.5h.01M869.1,192.1h.01M869.5,182.7h.01M869.8,197.9h.01M870.2,201.3h.01M870.6,177.2h.01M870.9,181.2h.01M871.3,170.4h.01M871.7,172.2h.01M872.0,165.0h.01M872.4,200.7h.01M872.7,159.4h.01M873.1,150.4h.01M873.5,146.3h.01M873.8,146.0h.01M874.2,148.9h.01" fill="none" stroke="#2bb5ee" stroke-width="3" stroke-linecap="round"/>
<path d="M74.9,709.0 75.2,692.4 75.6,686.8 76.0,691.9 76.3,687.3 76.7,689.7 77.0,691.4 77.4,690.4 77.8,689.4 78.1,689.4 78.5,689.0 78.9,689.4 79.2,687.2 79.6,682.7 80.0,685.5 80.3,684.5 80.7,678.0 81.0,678.0 81.4,672.4 81.8,675.5 82.1,675.0 82.5,676.0 82.9,673.4 83.2,670.4 83.6,668.4 84.0,663.7 84.3,661.7 84.7,662.4 85.0,658.4 85.4,654.9 85.8,657.1 86.1,651.2 86.5,648.8 86.9,648.3 87.2,647.9 87.6,644.3 87.9,639.4 88.3,633.5 88.7,626.4 89.0,624.4 89.4,619.2 89.8,615.7 90.1,614.2 90.5,611.8 90.9,609.1 91.2,607.6 91.6,609.2 91.9,600.2 92.3,599.9 92.7,596.5 93.0,590.1 93.4,588.0 93.8,587.5 94.1,585.7 94.5,584.5 94.9,583.0 95.2,583.8 95.6,582.3 95.9,578.2 96.3,573.8 96.7,569.8 97.0,568.0 97.4,568.4 97.8,566.1 98.1,564.1 98.5,562.7 98.9,560.8 99.2,553.5 99.6,550.6 99.9,549.0 100.3,550.8 100.7,547.1 101.0,546.5 101.4,544.6 101.8,541.6 102.1,539.0 102.5,535.7 102.9,535.0 103.2,533.6 103.6,532.5 103.9,524.2 104.3,521.5 104.7,519.9 105.0,517.2 105.4,516.5 105.8,516.0 106.1,518.5 106.5,516.6 106.9,512.0 107.2,514.5 107.6,510.3 107.9,506.3 108.3,502.9 108.7,499.1 109.0,495.3 109.4,487.4 109.8,483.3 110.1,483.9 110.5,481.7 110.8,490.5 111.2,491.9 111.6,489.8 111.9,489.9 112.3,483.5 112.7,484.7 113.0,481.1 113.4,487.3 113.8,488.9 114.1,483.4 114.5,481.6 114.8,481.8 115.2,477.5 115.6,475.4 115.9,474.7 116.3,472.6 116.7,473.4 117.0,469.8 117.4,466.3 117.8,461.9 118.1,454.7 118.5,451.1 118.8,452.4 119.2,449.5 119.6,449.9 119.9,448.2 120.3,451.5 120.7,453.3 121.0,455.1 121.4,453.1 121.8,456.5 122.1,456.4 122.5,459.6 122.8,455.6 123.2,459.5 123.6,458.0 123.9,453.2 124.3,450.5 124.7,446.6 125.0,446.7 125.4,448.2 125.8,448.3 126.1,441.6 126.5,443.0 126.8,441.6 127.2,446.5 127.6,444.7 127.9,449.6 128.3,445.9 128.7,447.4 129.0,440.8 129.4,436.2 129.8,435.6 130.1,427.6 130.5,431.7 130.8,435.0 131.2,435.7 131.6,432.5 131.9,435.1 132.3,438.0 132.7,431.6 133.0,433.1 133.4,428.2 133.8,424.2 134.1,420.1 134.5,427.9 134.8,427.0 135.2,424.4 135.6,423.9 135.9,422.7 136.3,420.4 136.7,417.3 137.0,414.6 137.4,416.5 137.7,413.5 138.1,415.6 138.5,415.3 138.8,414.6 139.2,410.0 139.6,410.6 139.9,410.6 140.3,407.1 140.7,408.0 141.0,409.0 141.4,405.8 141.7,410.7 142.1,404.9 142.5,404.2 142.8,402.0 143.2,397.4 143.6,396.6 143.9,398.2 144.3,400.4 144.7,398.0 145.0,400.2 145.4,396.2 145.7,398.0 146.1,389.6 146.5,388.8 146.8,386.0 147.2,386.5 147.6,386.0 147.9,386.6 148.3,382.6 148.7,378.3 149.0,377.9 149.4,373.6 149.7,370.0 150.1,370.0 150.5,369.7 150.8,367.0 151.2,364.5 151.6,364.1 151.9,362.1 152.3,360.1 152.7,362.9 153.0,359.4 153.4,360.1 153.7,356.9 154.1,353.9 154.5,355.3 154.8,356.5 155.2,355.9 155.6,355.8 155.9,355.0 156.3,357.5 156.7,361.5 157.0,366.3 157.4,369.2 157.7,367.3 158.1,366.6 158.5,366.4 158.8,362.5 159.2,361.7 159.6,358.5 159.9,356.8 160.3,351.6 160.6,353.4 161.0,355.2 161.4,356.3 161.7,357.2 162.1,361.6 162.5,363.9 162.8,366.7 163.2,366.2 163.6,365.5 163.9,367.7 164.3,365.2 164.6,365.7 165.0,372.5 165.4,375.2 165.7,375.0 166.1,381.1 166.5,384.3 166.8,386.8 167.2,390.8 167.6,390.0 167.9,385.3 168.3,379.0 168.6,375.9 169.0,374.3 169.4,369.6 169.7,368.0 170.1,366.6 170.5,365.8 170.8,364.0 171.2,362.1 171.6,361.9 171.9,360.7 172.3,360.7 172.6,361.7 173.0,361.6 173.4,360.3 173.7,360.8 174.1,355.4 174.5,353.8 174.8,352.6 175.2,353.0 175.6,350.4 175.9,352.1 176.3,354.5 176.6,359.1 177.0,362.7 177.4,366.6 177.7,366.4 178.1,364.7 178.5,360.6 178.8,357.7 179.2,356.3 179.6,352.5 179.9,356.4 180.3,355.5 180.6,355.5 181.0,354.4 181.4,351.9 181.7,352.8 182.1,350.1 182.5,349.1 182.8,350.9 183.2,349.7 183.6,351.0 183.9,347.1 184.3,345.6 184.6,347.2 185.0,347.1 185.4,348.9 185.7,348.4 186.1,350.8 186.5,353.9 186.8,351.8 187.2,356.2 187.5,356.9 187.9,361.2 188.3,355.7 188.6,354.0 189.0,353.4 189.4,352.7 189.7,349.5 190.1,352.1 190.5,352.3 190.8,351.3 191.2,353.0 191.5,351.3 191.9,350.1 192.3,348.2 192.6,346.8 193.0,349.2 193.4,349.1 193.7,348.4 194.1,348.5 194.5,348.9 194.8,343.8 195.2,343.4 195.5,344.6 195.9,342.8 196.3,344.3 196.6,345.6 197.0,348.4 197.4,346.8 197.7,348.8 198.1,345.9 198.5,344.8 198.8,342.1 199.2,342.5 199.5,340.9 199.9,341.4 200.3,342.7 200.6,343.2 201.0,342.0 201.4,342.6 201.7,340.8 202.1,342.0 202.5,343.5 202.8,343.2 203.2,343.4 203.5,343.5 203.9,344.1 204.3,343.7 204.6,343.7 205.0,345.1 205.4,343.2 205.7,341.8 206.1,341.6 206.5,337.6 206.8,337.3 207.2,336.7 207.5,337.9 207.9,339.8 208.3,339.0 208.6,340.3 209.0,337.4 209.4,340.8 209.7,342.9 210.1,344.8 210.4,344.8 210.8,345.1 211.2,343.3 211.5,342.1 211.9,339.9 212.3,341.0 212.6,342.1 213.0,342.6 213.4,342.4 213.7,345.6 214.1,344.8 214.4,345.7 214.8,345.8 215.2,343.8 215.5,341.6 215.9,341.1 216.3,341.6 216.6,339.7 217.0,340.9 217.4,341.5 217.7,343.2 218.1,341.4 218.4,340.6 218.8,341.1 219.2,341.6 219.5,339.2 219.9,340.6 220.3,342.6 220.6,341.1 221.0,339.0 221.4,338.8 221.7,338.6 222.1,336.2 222.4,338.4 222.8,337.6 223.2,338.6 223.5,337.3 223.9,337.4 224.3,335.9 224.6,337.1 225.0,335.2 225.4,337.1 225.7,335.2 226.1,337.0 226.4,333.7 226.8,333.2 227.2,333.0 227.5,330.5 227.9,330.8 228.3,333.4 228.6,332.8 229.0,332.6 229.4,332.0 229.7,329.9 230.1,330.4 230.4,329.3 230.8,328.9 231.2,331.4 231.5,328.6 231.9,329.2 232.3,330.4 232.6,330.3 233.0,329.9 233.3,331.0 233.7,328.5 234.1,328.1 234.4,331.0 234.8,332.2 235.2,331.3 235.5,332.1 235.9,331.1 236.3,330.1 236.6,331.0 237.0,330.8 237.3,330.7 237.7,330.7 238.1,330.8 238.4,329.8 238.8,330.1 239.2,328.8 239.5,329.3 239.9,331.2 240.3,327.6 240.6,328.1 241.0,327.0 241.3,326.0 241.7,325.5 242.1,325.9 242.4,325.5 242.8,323.9 243.2,324.4 243.5,323.4 243.9,321.0 244.3,321.2 244.6,322.1 245.0,322.2 245.3,325.3 245.7,327.0 246.1,329.9 246.4,332.0 246.8,331.9 247.2,333.9 247.5,334.0 247.9,335.7 248.3,336.4 248.6,338.1 249.0,337.0 249.3,340.6 249.7,339.6 250.1,339.5 250.4,337.6 250.8,334.4 251.2,333.2 251.5,332.1 251.9,334.4 252.3,332.2 252.6,330.9 253.0,329.7 253.3,327.2 253.7,325.9 254.1,326.3 254.4,327.8 254.8,324.6 255.2,325.5 255.5,324.2 255.9,322.1 256.2,322.9 256.6,323.3 257.0,322.5 257.3,323.5 257.7,321.2 258.1,321.5 258.4,318.5 258.8,320.2 259.2,318.0 259.5,319.4 259.9,317.7 260.2,317.0 260.6,318.6 261.0,320.0 261.3,318.7 261.7,319.4 262.1,317.2 262.4,315.8 262.8,313.3 263.2,313.1 263.5,311.0 263.9,314.0 264.2,313.5 264.6,313.4 265.0,312.7 265.3,312.4 265.7,311.2 266.1,312.5 266.4,311.0 266.8,310.9 267.2,312.2 267.5,313.7 267.9,312.8 268.2,312.2 268.6,313.2 269.0,312.5 269.3,311.9 269.7,311.6 270.1,312.4 270.4,313.7 270.8,314.7 271.2,316.8 271.5,317.0 271.9,317.4 272.2,317.4 272.6,318.4 273.0,317.2 273.3,316.9 273.7,318.0 274.1,317.6 274.4,317.0 274.8,318.3 275.2,315.6 275.5,315.5 275.9,316.2 276.2,316.0 276.6,314.3 277.0,315.0 277.3,312.9 277.7,311.6 278.1,311.6 278.4,311.8 278.8,308.2 279.2,309.3 279.5,309.4 279.9,310.7 280.2,309.8 280.6,312.6 281.0,312.2 281.3,311.6 281.7,309.6 282.1,310.2 282.4,309.7 282.8,307.6 283.1,308.2 283.5,309.6 283.9,308.6 284.2,311.3 284.6,313.6 285.0,315.5 285.3,312.7 285.7,314.4 286.1,312.6 286.4,311.6 286.8,308.3 287.1,309.7 287.5,309.6 287.9,310.3 288.2,310.9 288.6,311.8 289.0,310.8 289.3,310.9 289.7,312.1 290.1,314.3 290.4,313.9 290.8,311.5 291.1,309.7 291.5,302.7 291.9,296.1 292.2,292.3 292.6,291.8 293.0,289.6 293.3,286.0 293.7,280.9 294.1,279.0 294.4,274.4 294.8,275.1 295.1,276.8 295.5,276.5 295.9,275.6 296.2,278.6 296.6,278.0 297.0,274.2 297.3,272.3 297.7,276.7 298.1,275.3 298.4,275.0 298.8,279.7 299.1,281.2 299.5,279.9 299.9,281.4 300.2,279.1 300.6,279.9 301.0,279.5 301.3,281.4 301.7,280.1 302.1,280.4 302.4,281.2 302.8,280.8 303.1,279.2 303.5,278.4 303.9,278.4 304.2,276.3 304.6,273.5 305.0,271.6 305.3,271.1 305.7,272.0 306.0,271.2 306.4,269.8 306.8,268.0 307.1,263.0 307.5,265.3 307.9,265.9 308.2,267.3 308.6,268.3 309.0,272.0 309.3,271.9 309.7,275.0 310.0,274.6 310.4,274.3 310.8,277.6 311.1,273.8 311.5,271.3 311.9,272.4 312.2,270.1 312.6,266.9 313.0,266.2 313.3,262.9 313.7,262.6 314.0,262.3 314.4,268.3 314.8,268.8 315.1,273.8 315.5,273.9 315.9,275.4 316.2,276.5 316.6,273.5 317.0,269.7 317.3,270.2 317.7,268.2 318.0,265.3 318.4,261.2 318.8,263.1 319.1,264.8 319.5,264.3 319.9,267.1 320.2,270.9 320.6,275.2 321.0,275.9 321.3,278.3 321.7,279.4 322.0,282.5 322.4,280.1 322.8,285.1 323.1,289.1 323.5,286.7 323.9,289.9 324.2,291.8 324.6,288.2 325.0,290.5 325.3,283.9 325.7,287.8 326.0,290.5 326.4,289.6 326.8,289.4 327.1,291.5 327.5,292.4 327.9,290.4 328.2,286.1 328.6,288.0 328.9,288.5 329.3,284.0 329.7,283.9 330.0,286.5 330.4,284.6 330.8,286.6 331.1,284.8 331.5,280.2 331.9,279.4 332.2,275.6 332.6,274.7 332.9,274.6 333.3,274.9 333.7,274.8 334.0,274.9 334.4,276.7 334.8,275.7 335.1,277.7 335.5,279.1 335.9,277.3 336.2,280.2 336.6,284.1 336.9,283.3 337.3,283.8 337.7,282.2 338.0,274.1 338.4,268.8 338.8,264.1 339.1,258.4 339.5,257.8 339.9,254.6 340.2,251.8 340.6,250.1 340.9,254.8 341.3,254.9 341.7,257.8 342.0,260.3 342.4,261.2 342.8,261.8 343.1,260.8 343.5,259.8 343.9,265.3 344.2,266.2 344.6,269.4 344.9,272.3 345.3,273.4 345.7,272.3 346.0,270.2 346.4,267.0 346.8,267.8 347.1,267.8 347.5,268.4 347.9,269.3 348.2,268.5 348.6,271.5 348.9,273.2 349.3,274.6 349.7,274.7 350.0,277.1 350.4,280.5 350.8,277.5 351.1,271.9 351.5,272.6 351.9,268.5 352.2,265.0 352.6,264.3 352.9,258.7 353.3,254.5 353.7,257.1 354.0,258.5 354.4,254.1 354.8,257.6 355.1,257.6 355.5,258.8 355.8,258.8 356.2,264.7 356.6,266.9 356.9,269.2 357.3,269.1 357.7,269.4 358.0,270.0 358.4,269.0 358.8,268.8 359.1,269.4 359.5,269.2 359.8,269.5 360.2,270.7 360.6,272.6 360.9,272.9 361.3,274.8 361.7,275.7 362.0,270.4 362.4,267.5 362.8,265.7 363.1,266.1 363.5,266.2 363.8,262.9 364.2,267.9 364.6,267.9 364.9,268.2 365.3,270.4 365.7,274.7 366.0,275.6 366.4,277.8 366.8,277.9 367.1,280.0 367.5,279.6 367.8,278.1 368.2,273.2 368.6,271.5 368.9,273.1 369.3,268.0 369.7,272.1 370.0,271.9 370.4,269.6 370.8,266.7 371.1,269.3 371.5,262.5 371.8,265.3 372.2,268.5 372.6,267.4 372.9,268.4 373.3,268.6 373.7,270.7 374.0,268.6 374.4,273.8 374.8,271.8 375.1,273.0 375.5,272.2 375.8,273.6 376.2,269.1 376.6,271.3 376.9,272.0 377.3,272.9 377.7,272.5 378.0,274.3 378.4,272.4 378.7,274.8 379.1,274.6 379.5,275.6 379.8,279.4 380.2,276.0 380.6,276.7 380.9,275.8 381.3,274.8 381.7,273.0 382.0,271.5 382.4,271.7 382.7,270.5 383.1,262.0 383.5,261.9 383.8,263.3 384.2,259.4 384.6,261.5 384.9,267.4 385.3,268.0 385.7,269.5 386.0,268.6 386.4,270.9 386.7,274.1 387.1,272.4 387.5,272.5 387.8,271.0 388.2,268.1 388.6,265.5 388.9,264.1 389.3,262.2 389.7,258.6 390.0,256.6 390.4,261.0 390.7,264.2 391.1,267.7 391.5,267.7 391.8,271.2 392.2,274.8 392.6,277.8 392.9,278.0 393.3,283.6 393.7,280.7 394.0,279.0 394.4,273.8 394.7,271.7 395.1,269.5 395.5,262.6 395.8,265.1 396.2,263.5 396.6,269.5 396.9,269.4 397.3,276.7 397.7,278.5 398.0,285.4 398.4,285.1 398.7,292.5 399.1,298.5 399.5,297.1 399.8,294.4 400.2,291.7 400.6,294.3 400.9,294.7 401.3,296.9 401.6,295.6 402.0,294.9 402.4,289.2 402.7,281.9 403.1,278.1 403.5,276.6 403.8,273.0 404.2,268.9 404.6,269.9 404.9,270.3 405.3,272.5 405.6,272.7 406.0,274.7 406.4,277.7 406.7,277.4 407.1,278.1 407.5,276.0 407.8,276.5 408.2,278.3 408.6,277.4 408.9,276.5 409.3,280.0 409.6,277.5 410.0,274.5 410.4,276.2 410.7,275.9 411.1,274.9 411.5,272.8 411.8,273.0 412.2,274.4 412.6,276.3 412.9,279.6 413.3,280.3 413.6,284.8 414.0,290.3 414.4,287.6 414.7,286.3 415.1,286.1 415.5,284.4 415.8,280.1 416.2,276.6 416.6,275.8 416.9,277.8 417.3,278.8 417.6,283.4 418.0,285.6 418.4,287.2 418.7,291.1 419.1,298.3 419.5,295.6 419.8,295.3 420.2,293.2 420.6,292.7 420.9,292.1 421.3,288.0 421.6,283.6 422.0,287.4 422.4,295.7 422.7,300.3 423.1,310.8 423.5,313.6 423.8,318.6 424.2,328.1 424.6,326.0 424.9,337.3 425.3,343.3 425.6,344.3 426.0,347.1 426.4,349.1 426.7,349.8 427.1,352.1 427.5,351.8 427.8,357.1 428.2,355.1 428.5,366.5 428.9,368.1 429.3,372.0 429.6,363.6 430.0,363.3 430.4,362.3 430.7,362.0 431.1,364.7 431.5,365.8 431.8,372.9 432.2,372.8 432.5,368.3 432.9,372.3 433.3,383.1 433.6,374.7 434.0,375.8 434.4,376.7 434.7,371.0 435.1,367.1 435.5,362.6 435.8,357.5 436.2,357.7 436.5,351.7 436.9,341.2 437.3,339.1 437.6,340.2 438.0,350.1 438.4,359.8 438.7,368.7 439.1,380.5 439.5,383.7 439.8,382.9 440.2,390.4 440.5,385.4 440.9,382.3 441.3,383.5 441.6,383.7 442.0,379.3 442.4,372.2 442.7,371.6 443.1,372.2 443.5,373.2 443.8,372.5 444.2,375.9 444.5,361.5 444.9,360.3 445.3,357.3 445.6,348.1 446.0,344.1 446.4,359.9 446.7,359.0 447.1,364.4 447.5,368.7 447.8,376.9 448.2,376.4 448.5,381.7 448.9,381.2 449.3,384.2 449.6,381.9 450.0,379.2 450.4,375.3 450.7,368.0 451.1,364.1 451.4,368.6 451.8,369.8 452.2,382.3 452.5,375.6 452.9,377.8 453.3,383.7 453.6,386.6 454.0,376.1 454.4,373.7 454.7,371.6 455.1,362.4 455.4,371.2 455.8,370.5 456.2,362.5 456.5,363.7 456.9,354.9 457.3,347.0 457.6,336.7 458.0,338.5 458.4,338.7 458.7,338.4 459.1,330.7 459.4,333.1 459.8,324.6 460.2,318.1 460.5,313.3 460.9,315.3 461.3,312.4 461.6,311.1 462.0,319.4 462.4,326.6 462.7,320.1 463.1,323.7 463.4,318.0 463.8,314.7 464.2,306.5 464.5,310.0 464.9,301.0 465.3,301.7 465.6,293.7 466.0,290.1 466.4,288.4 466.7,289.9 467.1,284.7 467.4,291.7 467.8,291.7 468.2,290.5 468.5,282.6 468.9,282.0 469.3,277.5 469.6,280.5 470.0,275.2 470.4,276.4 470.7,272.1 471.1,270.6 471.4,271.8 471.8,268.0 472.2,274.7 472.5,279.4 472.9,273.8 473.3,274.7 473.6,284.4 474.0,277.8 474.3,274.2 474.7,278.0 475.1,275.8 475.4,271.4 475.8,270.6 476.2,273.0 476.5,265.7 476.9,268.2 477.3,265.7 477.6,265.7 478.0,261.6 478.3,260.7 478.7,264.7 479.1,264.0 479.4,264.5 479.8,266.0 480.2,266.1 480.5,265.6 480.9,268.5 481.3,269.3 481.6,269.0 482.0,273.1 482.3,273.8 482.7,278.0 483.1,280.5 483.4,288.7 483.8,290.1 484.2,293.3 484.5,304.3 484.9,309.5 485.3,306.3 485.6,306.8 486.0,297.5 486.3,291.2 486.7,292.8 487.1,292.7 487.4,286.4 487.8,289.8 488.2,283.8 488.5,280.6 488.9,277.5 489.3,275.0 489.6,279.2 490.0,275.6 490.3,275.2 490.7,266.5 491.1,263.6 491.4,256.2 491.8,249.0 492.2,244.9 492.5,243.6 492.9,240.0 493.3,240.3 493.6,246.1 494.0,242.5 494.3,241.3 494.7,239.6 495.1,237.5 495.4,236.6 495.8,237.6 496.2,235.0 496.5,232.8 496.9,228.4 497.3,231.4 497.6,233.2 498.0,228.3 498.3,232.8 498.7,234.2 499.1,237.4 499.4,235.5 499.8,237.0 500.2,234.4 500.5,241.4 500.9,251.1 501.2,260.6 501.6,267.5 502.0,283.1 502.3,293.4 502.7,300.8 503.1,313.1 503.4,325.9 503.8,321.1 504.2,317.5 504.5,313.9 504.9,309.7 505.2,305.0 505.6,303.7 506.0,299.8 506.3,302.4 506.7,296.4 507.1,302.4 507.4,297.6 507.8,299.3 508.2,298.1 508.5,303.6 508.9,295.4 509.2,296.3 509.6,289.5 510.0,284.1 510.3,285.2 510.7,286.1 511.1,279.3 511.4,281.6 511.8,278.4 512.2,281.2 512.5,282.6 512.9,286.5 513.2,290.1 513.6,285.1 514.0,282.4 514.3,277.2 514.7,276.7 515.1,282.8 515.4,278.3 515.8,277.5 516.2,291.9 516.5,301.6 516.9,314.5 517.2,323.5 517.6,339.7 518.0,346.1 518.3,353.8 518.7,362.1 519.1,360.3 519.4,360.1 519.8,357.2 520.2,354.7 520.5,357.4 520.9,360.7 521.2,360.4 521.6,359.4 522.0,367.3 522.3,363.9 522.7,360.6 523.1,355.5 523.4,352.7 523.8,348.8 524.1,352.1 524.5,353.7 524.9,345.4 525.2,349.4 525.6,356.2 526.0,351.1 526.3,351.8 526.7,357.9 527.1,355.6 527.4,349.8 527.8,347.4 528.1,345.1 528.5,341.0 528.9,342.2 529.2,352.7 529.6,362.7 530.0,370.3 530.3,380.5 530.7,378.8 531.1,374.6 531.4,378.3 531.8,382.3 532.1,379.5 532.5,382.1 532.9,386.9 533.2,383.1 533.6,378.2 534.0,378.3 534.3,375.9 534.7,374.8 535.1,373.2 535.4,373.8 535.8,368.4 536.1,380.7 536.5,388.7 536.9,396.6 537.2,390.6 537.6,398.8 538.0,396.9 538.3,400.4 538.7,400.6 539.1,398.6 539.4,402.5 539.8,403.0 540.1,411.4 540.5,416.1 540.9,427.4 541.2,425.0 541.6,421.4 542.0,408.5 542.3,386.3 542.7,365.9 543.1,322.7 543.4,336.5 543.8,343.4 544.1,346.3 544.5,341.4 544.9,334.7 545.2,325.5 545.6,300.6 546.0,290.7 546.3,279.8 546.7,276.4 547.0,272.7 547.4,267.4 547.8,283.5 548.1,286.7 548.5,302.3 548.9,319.3 549.2,319.4 549.6,321.0 550.0,320.4 550.3,318.8 550.7,324.9 551.0,298.1 551.4,266.9 551.8,263.7 552.1,267.6 552.5,285.6 552.9,326.3 553.2,326.8 553.6,339.3 554.0,326.8 554.3,313.8 554.7,293.2 555.0,276.7 555.4,278.1 555.8,287.9 556.1,287.7 556.5,300.0 556.9,306.5 557.2,313.8 557.6,318.4 558.0,326.0 558.3,329.3 558.7,324.6 559.0,312.1 559.4,308.6 559.8,305.5 560.1,281.9 560.5,276.8 560.9,275.9 561.2,260.5 561.6,268.1 562.0,257.7 562.3,272.8 562.7,295.2 563.0,304.8 563.4,322.6 563.8,311.6 564.1,302.1 564.5,295.3 564.9,248.4 565.2,225.4 565.6,207.9 566.0,210.6 566.3,237.1 566.7,277.6 567.0,307.1 567.4,310.4 567.8,310.6 568.1,306.4 568.5,287.4 568.9,229.8 569.2,207.2 569.6,193.7 570.0,193.3 570.3,200.7 570.7,221.6 571.0,259.4 571.4,275.1 571.8,283.6 572.1,286.2 572.5,289.4 572.9,285.3 573.2,284.8 573.6,303.8 573.9,281.5 574.3,251.0 574.7,231.2 575.0,207.9 575.4,209.3 575.8,207.5 576.1,220.6 576.5,229.0 576.9,244.9 577.2,275.7 577.6,293.1 577.9,305.1 578.3,293.8 578.7,299.1 579.0,242.5 579.4,198.4 579.8,191.6 580.1,199.9 580.5,219.7 580.9,289.2 581.2,280.0 581.6,284.2 581.9,280.7 582.3,280.9 582.7,252.0 583.0,235.0 583.4,226.9 583.8,232.8 584.1,230.1 584.5,234.4 584.9,234.7 585.2,249.1 585.6,258.4 585.9,280.8 586.3,303.8 586.7,312.0 587.0,315.5 587.4,311.2 587.8,301.5 588.1,285.5 588.5,261.7 588.9,236.8 589.2,220.0 589.6,204.5 589.9,206.4 590.3,205.3 590.7,218.7 591.0,252.9 591.4,296.1 591.8,298.2 592.1,305.5 592.5,296.8 592.9,242.7 593.2,201.8 593.6,186.5 593.9,201.4 594.3,216.8 594.7,245.3 595.0,258.1 595.4,265.6 595.8,267.2 596.1,264.9 596.5,237.5 596.8,222.8 597.2,214.9 597.6,211.4 597.9,214.1 598.3,212.6 598.7,218.6 599.0,224.3 599.4,216.5 599.8,232.5 600.1,232.3 600.5,234.3 600.8,211.0 601.2,209.9 601.6,202.6 601.9,204.5 602.3,191.8 602.7,191.2 603.0,202.3 603.4,196.0 603.8,191.2 604.1,205.9 604.5,195.5 604.8,192.6 605.2,189.7 605.6,188.3 605.9,195.2 606.3,199.8 606.7,207.5 607.0,215.2 607.4,210.3 607.8,208.9 608.1,200.7 608.5,197.1 608.8,192.4 609.2,192.5 609.6,187.0 609.9,197.7 610.3,197.0 610.7,198.3 611.0,194.2 611.4,187.9 611.8,191.8 612.1,192.8 612.5,195.7 612.8,193.6 613.2,205.7 613.6,203.5 613.9,202.2 614.3,215.3 614.7,224.3 615.0,224.4 615.4,226.0 615.8,218.9 616.1,209.2 616.5,205.3 616.8,205.5 617.2,199.7 617.6,202.2 617.9,208.2 618.3,204.3 618.7,206.2 619.0,208.6 619.4,208.7 619.8,217.3 620.1,218.2 620.5,226.4 620.8,218.3 621.2,220.3 621.6,226.8 621.9,224.7 622.3,224.5 622.7,232.7 623.0,227.9 623.4,223.2 623.7,232.1 624.1,225.3 624.5,222.2 624.8,216.9 625.2,218.5 625.6,208.9 625.9,214.6 626.3,209.6 626.7,219.7 627.0,213.0 627.4,224.9 627.7,222.8 628.1,226.5 628.5,227.4 628.8,225.2 629.2,222.7 629.6,218.5 629.9,206.8 630.3,215.2 630.7,222.7 631.0,211.7 631.4,216.5 631.7,217.7 632.1,214.1 632.5,211.6 632.8,211.7 633.2,216.9 633.6,210.6 633.9,216.1 634.3,212.1 634.7,208.4 635.0,207.6 635.4,213.5 635.7,209.3 636.1,214.9 636.5,213.3 636.8,212.7 637.2,206.8 637.6,198.7 637.9,203.9 638.3,202.1 638.7,202.6 639.0,207.2 639.4,207.6 639.7,212.8 640.1,218.4 640.5,219.7 640.8,215.2 641.2,221.4 641.6,221.9 641.9,218.7 642.3,220.1 642.7,222.6 643.0,221.5 643.4,224.5 643.7,222.5 644.1,222.3 644.5,222.5 644.8,214.9 645.2,215.0 645.6,213.6 645.9,217.8 646.3,209.4 646.6,207.3 647.0,205.7 647.4,208.4 647.7,197.4 648.1,190.0 648.5,190.6 648.8,193.8 649.2,191.6 649.6,196.1 649.9,206.4 650.3,199.6 650.6,205.4 651.0,205.4 651.4,203.8 651.7,204.2 652.1,202.9 652.5,198.8 652.8,196.6 653.2,202.2 653.6,196.0 653.9,197.1 654.3,195.9 654.6,192.8 655.0,196.5 655.4,196.4 655.7,196.1 656.1,196.1 656.5,195.2 656.8,198.4 657.2,193.0 657.6,196.3 657.9,195.3 658.3,195.6 658.6,196.5 659.0,198.6 659.4,195.8 659.7,190.1 660.1,195.4 660.5,199.3 660.8,193.2 661.2,191.1 661.6,191.1 661.9,188.6 662.3,188.2 662.6,192.1 663.0,195.0 663.4,192.9 663.7,198.3 664.1,202.9 664.5,203.3 664.8,205.4 665.2,215.4 665.6,214.5 665.9,215.7 666.3,216.6 666.6,222.5 667.0,224.6 667.4,235.5 667.7,244.4 668.1,238.0 668.5,229.1 668.8,215.9 669.2,205.0 669.5,202.4 669.9,200.8 670.3,198.0 670.6,199.2 671.0,199.7 671.4,196.3 671.7,194.3 672.1,195.5 672.5,191.9 672.8,193.4 673.2,201.8 673.5,201.0 673.9,204.4 674.3,205.3 674.6,206.1 675.0,197.4 675.4,199.7 675.7,195.6 676.1,194.1 676.5,190.1 676.8,191.1 677.2,191.7 677.5,192.0 677.9,192.4 678.3,193.2 678.6,192.0 679.0,191.5 679.4,190.5 679.7,189.6 680.1,190.2 680.5,185.4 680.8,185.9 681.2,186.3 681.5,185.0 681.9,187.3 682.3,190.4 682.6,191.9 683.0,194.4 683.4,196.9 683.7,199.2 684.1,196.6 684.5,193.5 684.8,187.8 685.2,188.3 685.5,186.7 685.9,189.8 686.3,196.6 686.6,191.0 687.0,197.6 687.4,192.1 687.7,193.7 688.1,195.1 688.5,197.0 688.8,193.8 689.2,191.7 689.5,196.2 689.9,196.0 690.3,203.9 690.6,202.2 691.0,203.0 691.4,201.4 691.7,202.0 692.1,199.4 692.4,203.3 692.8,202.9 693.2,203.9 693.5,203.0 693.9,206.0 694.3,206.9 694.6,206.6 695.0,206.8 695.4,209.5 695.7,208.5 696.1,208.8 696.4,210.4 696.8,209.1 697.2,209.7 697.5,206.7 697.9,208.4 698.3,207.8 698.6,205.2 699.0,206.1 699.4,206.8 699.7,208.2 700.1,206.6 700.4,205.7 700.8,207.8 701.2,205.2 701.5,205.6 701.9,204.9 702.3,208.8 702.6,206.3 703.0,208.0 703.4,205.8 703.7,210.0 704.1,206.9 704.4,210.0 704.8,210.4 705.2,209.5 705.5,211.4 705.9,211.7 706.3,209.5 706.6,211.0 707.0,211.7 707.4,210.5 707.7,213.1 708.1,212.8 708.4,212.4 708.8,214.4 709.2,215.7 709.5,214.7 709.9,215.8 710.3,215.1 710.6,216.8 711.0,215.0 711.4,211.8 711.7,209.6 712.1,209.2 712.4,211.7 712.8,210.2 713.2,210.1 713.5,209.2 713.9,210.9 714.3,207.7 714.6,206.5 715.0,206.9 715.4,209.1 715.7,206.6 716.1,204.5 716.4,205.3 716.8,205.5 717.2,204.4 717.5,203.4 717.9,204.7 718.3,203.6 718.6,203.4 719.0,205.6 719.3,206.6 719.7,205.0 720.1,205.6 720.4,208.5 720.8,205.3 721.2,206.2 721.5,208.5 721.9,206.5 722.3,206.1 722.6,204.6 723.0,203.5 723.3,205.3 723.7,206.0 724.1,204.0 724.4,204.6 724.8,203.8 725.2,203.0 725.5,202.8 725.9,204.2 726.3,204.0 726.6,206.1 727.0,204.4 727.3,205.6 727.7,204.5 728.1,205.9 728.4,204.7 728.8,206.2 729.2,207.5 729.5,207.4 729.9,207.3 730.3,210.3 730.6,207.7 731.0,209.6 731.3,207.6 731.7,209.5 732.1,207.0 732.4,207.4 732.8,208.4 733.2,209.5 733.5,207.2 733.9,210.0 734.3,212.3 734.6,211.3 735.0,212.2 735.3,211.9 735.7,211.6 736.1,212.1 736.4,212.2 736.8,210.6 737.2,212.2 737.5,212.0 737.9,211.1 738.3,212.4 738.6,211.4 739.0,211.1 739.3,211.8 739.7,212.4 740.1,212.6 740.4,213.7 740.8,214.2 741.2,214.1 741.5,214.6 741.9,212.7 742.2,211.9 742.6,211.2 743.0,212.3 743.3,210.1 743.7,212.3 744.1,214.2 744.4,213.7 744.8,214.9 745.2,214.9 745.5,213.8 745.9,212.6 746.2,211.8 746.6,211.4 747.0,213.6 747.3,212.5 747.7,212.5 748.1,212.3 748.4,213.2 748.8,211.8 749.2,211.5 749.5,209.4 749.9,211.1 750.2,213.0 750.6,211.8 751.0,211.1 751.3,209.6 751.7,210.7 752.1,209.8 752.4,210.9 752.8,207.9 753.2,208.5 753.5,208.6 753.9,205.9 754.2,208.1 754.6,209.1 755.0,208.3 755.3,209.6 755.7,208.8 756.1,211.3 756.4,208.0 756.8,211.5 757.2,212.3 757.5,209.9 757.9,208.4 758.2,208.5 758.6,205.2 759.0,206.9 759.3,208.2 759.7,208.3 760.1,209.0 760.4,210.8 760.8,210.4 761.2,211.8 761.5,211.2 761.9,212.1 762.2,212.3 762.6,211.7 763.0,212.0 763.3,210.0 763.7,212.1 764.1,212.3 764.4,212.1 764.8,211.2 765.1,211.9 765.5,212.5 765.9,209.4 766.2,210.1 766.6,210.5 767.0,210.0 767.3,210.7 767.7,210.8 768.1,211.4 768.4,213.4 768.8,213.6 769.1,214.6 769.5,215.6 769.9,215.4 770.2,213.5 770.6,213.6 771.0,212.8 771.3,210.8 771.7,212.8 772.1,212.9 772.4,212.9 772.8,212.2 773.1,210.1 773.5,212.4 773.9,208.9 774.2,210.2 774.6,207.8 775.0,211.4 775.3,207.7 775.7,207.6 776.1,206.3 776.4,205.7 776.8,205.3 777.1,202.9 777.5,203.9 777.9,203.9 778.2,204.4 778.6,203.4 779.0,205.5 779.3,203.5 779.7,204.3 780.1,204.7 780.4,203.3 780.8,201.3 781.1,201.2 781.5,201.3 781.9,202.3 782.2,200.4 782.6,202.0 783.0,199.4 783.3,199.8 783.7,197.9 784.1,198.6 784.4,198.9 784.8,198.0 785.1,198.6 785.5,202.3 785.9,198.5 786.2,195.6 786.6,196.8 787.0,200.1 787.3,192.2 787.7,193.6 788.1,194.8 788.4,190.5 788.8,184.8 789.1,185.8 789.5,185.8 789.9,184.9 790.2,184.4 790.6,187.5 791.0,187.1 791.3,190.4 791.7,193.3 792.0,190.2 792.4,190.0 792.8,191.4 793.1,194.4 793.5,193.3 793.9,192.1 794.2,194.6 794.6,192.9 795.0,193.8 795.3,193.9 795.7,197.9 796.0,197.6 796.4,198.6 796.8,194.3 797.1,193.2 797.5,191.0 797.9,197.4 798.2,197.0 798.6,197.3 799.0,194.7 799.3,195.5 799.7,192.4 800.0,190.0 800.4,192.8 800.8,193.9 801.1,192.6 801.5,191.7 801.9,196.4 802.2,195.3 802.6,195.3 803.0,190.6 803.3,191.1 803.7,190.4 804.0,190.5 804.4,193.1 804.8,195.0 805.1,194.8 805.5,194.4 805.9,195.6 806.2,196.0 806.6,197.2 807.0,197.5 807.3,192.6 807.7,194.6 808.0,196.1 808.4,194.8 808.8,195.1 809.1,198.0 809.5,198.6 809.9,198.9 810.2,195.4 810.6,194.6 811.0,188.9 811.3,193.2 811.7,193.1 812.0,191.6 812.4,192.1 812.8,193.9 813.1,188.9 813.5,187.3 813.9,188.9 814.2,189.0 814.6,189.4 814.9,189.7 815.3,192.8 815.7,190.4 816.0,190.4 816.4,191.7 816.8,185.7 817.1,186.6 817.5,187.4 817.9,188.4 818.2,191.3 818.6,194.8 818.9,194.0 819.3,195.0 819.7,197.3 820.0,198.0 820.4,196.3 820.8,199.2 821.1,199.5 821.5,196.4 821.9,194.1 822.2,195.5 822.6,192.2 822.9,194.3 823.3,193.1 823.7,195.8 824.0,195.5 824.4,192.8 824.8,189.5 825.1,191.2 825.5,188.2 825.9,185.8 826.2,187.7 826.6,188.0 826.9,186.9 827.3,185.8 827.7,186.9 828.0,185.1 828.4,185.7 828.8,189.4 829.1,190.2 829.5,188.1 829.9,189.4 830.2,190.5 830.6,188.4 830.9,188.6 831.3,193.3 831.7,191.5 832.0,193.0 832.4,192.0 832.8,194.5 833.1,190.2 833.5,193.8 833.9,190.8 834.2,190.3 834.6,189.4 834.9,190.8 835.3,192.2 835.7,192.5 836.0,196.0 836.4,197.6 836.8,199.2 837.1,197.2 837.5,200.0 837.9,200.4 838.2,200.7 838.6,200.3 838.9,199.3 839.3,194.8 839.7,193.7 840.0,192.9 840.4,193.2 840.8,194.7 841.1,193.2 841.5,190.1 841.8,191.6 842.2,188.6 842.6,187.8 842.9,192.5 843.3,196.7 843.7,197.8 844.0,199.5 844.4,197.9 844.8,202.5 845.1,203.4 845.5,206.1 845.8,205.3 846.2,205.8 846.6,198.7 846.9,196.3 847.3,193.6 847.7,189.6 848.0,186.7 848.4,187.4 848.8,186.4 849.1,189.2 849.5,190.5 849.8,188.8 850.2,190.4 850.6,190.7 850.9,192.3 851.3,190.7 851.7,190.8 852.0,191.9 852.4,197.0 852.8,191.6 853.1,195.3 853.5,195.1 853.8,192.7 854.2,193.9 854.6,193.3 854.9,194.8 855.3,196.3 855.7,195.9 856.0,195.7 856.4,198.7 856.8,197.3 857.1,197.1 857.5,196.2 857.8,197.7 858.2,191.6 858.6,193.7 858.9,191.7 859.3,189.1 859.7,188.7 860.0,184.9 860.4,182.6 860.8,183.3 861.1,182.1 861.5,183.0 861.8,186.3 862.2,187.9 862.6,189.5 862.9,188.9 863.3,190.8 863.7,187.7 864.0,187.4 864.4,187.3 864.7,187.0 865.1,188.2 865.5,187.7 865.8,187.4 866.2,190.2 866.6,191.9 866.9,193.1 867.3,193.0 867.7,191.8 868.0,187.0 868.4,183.7 868.7,182.1 869.1,182.4 869.5,183.0 869.8,185.6 870.2,186.2 870.6,184.4 870.9,181.4 871.3,175.8 871.7,173.1 872.0,170.5 872.4,160.1 872.7,150.0 873.1,146.0 873.5,146.0 873.8,146.0 874.2,148.4" fill="none" stroke="#1470c4" stroke-width="2.2" stroke-linejoin="round"/>
<path d="M74.9,709.0h.01M75.2,692.4h.01M75.6,686.8h.01M76.0,691.9h.01M76.3,687.3h.01M76.7,689.7h.01M77.0,691.4h.01M77.4,690.4h.01M77.8,689.4h.01M78.1,689.4h.01M78.5,689.0h.01M78.9,689.4h.01M79.2,687.2h.01M79.6,682.7h.01M80.0,685.5h.01M80.3,684.5h.01M80.7,678.0h.01M81.0,678.0h.01M81.4,672.4h.01M81.8,675.5h.01M82.1,675.0h.01M82.5,676.0h.01M82.9,673.4h.01M83.2,670.4h.01M83.6,668.4h.01M84.0,663.7h.01M84.3,661.7h.01M84.7,662.4h.01M85.0,658.4h.01M85.4,654.9h.01M85.8,657.1h.01M86.1,651.2h.01M86.5,648.8h.01M86.9,648.3h.01M87.2,647.9h.01M87.6,644.3h.01M87.9,639.4h.01M88.3,633.5h.01M88.7,626.4h.01M89.0,624.4h.01M89.4,619.2h.01M89.8,615.7h.01M90.1,614.2h.01M90.5,611.8h.01M90.9,609.1h.01M91.2,607.6h.01M91.6,609.2h.01M91.9,600.2h.01M92.3,599.9h.01M92.7,596.5h.01M93.0,590.1h.01M93.4,588.0h.01M93.8,587.5h.01M94.1,585.7h.01M94.5,584.5h.01M94.9,583.0h.01M95.2,583.8h.01M95.6,582.3h.01M95.9,578.2h.01M96.3,573.8h.01M96.7,569.8h.01M97.0,568.0h.01M97.4,568.4h.01M97.8,566.1h.01M98.1,564.1h.01M98.5,562.7h.01M98.9,560.8h.01M99.2,553.5h.01M99.6,550.6h.01M99.9,549.0h.01M100.3,550.8h.01M100.7,547.1h.01M101.0,546.5h.01M101.4,544.6h.01M101.8,541.6h.01M102.1,539.0h.01M102.5,535.7h.01M102.9,535.0h.01M103.2,533.6h.01M103.6,532.5h.01M103.9,524.2h.01M104.3,521.5h.01M104.7,519.9h.01M105.0,517.2h.01M105.4,516.5h.01M105.8,516.0h.01M106.1,518.5h.01M106.5,516.6h.01M106.9,512.0h.01M107.2,514.5h.01M107.6,510.3h.01M107.9,506.3h.01M108.3,502.9h.01M108.7,499.1h.01M109.0,495.3h.01M109.4,487.4h.01M109.8,483.3h.01M110.1,483.9h.01M110.5,481.7h.01M110.8,490.5h.01M111.2,491.9h.01M111.6,489.8h.01M111.9,489.9h.01M112.3,483.5h.01M112.7,484.7h.01M113.0,481.1h.01M113.4,487.3h.01M113.8,488.9h.01M114.1,483.4h.01M114.5,481.6h.01M114.8,481.8h.01M115.2,477.5h.01M115.6,475.4h.01M115.9,474.7h.01M116.3,472.6h.01M116.7,473.4h.01M117.0,469.8h.01M117.4,466.3h.01M117.8,461.9h.01M118.1,454.7h.01M118.5,451.1h.01M118.8,452.4h.01M119.2,449.5h.01M119.6,449.9h.01M119.9,448.2h.01M120.3,451.5h.01M120.7,453.3h.01M121.0,455.1h.01M121.4,453.1h.01M121.8,456.5h.01M122.1,456.4h.01M122.5,459.6h.01M122.8,455.6h.01M123.2,459.5h.01M123.6,458.0h.01M123.9,453.2h.01M124.3,450.5h.01M124.7,446.6h.01M125.0,446.7h.01M125.4,448.2h.01M125.8,448.3h.01M126.1,441.6h.01M126.5,443.0h.01M126.8,441.6h.01M127.2,446.5h.01M127.6,444.7h.01M127.9,449.6h.01M128.3,445.9h.01M128.7,447.4h.01M129.0,440.8h.01M129.4,436.2h.01M129.8,435.6h.01M130.1,427.6h.01M130.5,431.7h.01M130.8,435.0h.01M131.2,435.7h.01M131.6,432.5h.01M131.9,435.1h.01M132.3,438.0h.01M132.7,431.6h.01M133.0,433.1h.01M133.4,428.2h.01M133.8,424.2h.01M134.1,420.1h.01M134.5,427.9h.01M134.8,427.0h.01M135.2,424.4h.01M135.6,423.9h.01M135.9,422.7h.01M136.3,420.4h.01M136.7,417.3h.01M137.0,414.6h.01M137.4,416.5h.01M137.7,413.5h.01M138.1,415.6h.01M138.5,415.3h.01M138.8,414.6h.01M139.2,410.0h.01M139.6,410.6h.01M139.9,410.6h.01M140.3,407.1h.01M140.7,408.0h.01M141.0,409.0h.01M141.4,405.8h.01M141.7,410.7h.01M142.1,404.9h.01M142.5,404.2h.01M142.8,402.0h.01M143.2,397.4h.01M143.6,396.6h.01M143.9,398.2h.01M144.3,400.4h.01M144.7,398.0h.01M145.0,400.2h.01M145.4,396.2h.01M145.7,398.0h.01M146.1,389.6h.01M146.5,388.8h.01M146.8,386.0h.01M147.2,386.5h.01M147.6,386.0h.01M147.9,386.6h.01M148.3,382.6h.01M148.7,378.3h.01M149.0,377.9h.01M149.4,373.6h.01M149.7,370.0h.01M150.1,370.0h.01M150.5,369.7h.01M150.8,367.0h.01M151.2,364.5h.01M151.6,364.1h.01M151.9,362.1h.01M152.3,360.1h.01M152.7,362.9h.01M153.0,359.4h.01M153.4,360.1h.01M153.7,356.9h.01M154.1,353.9h.01M154.5,355.3h.01M154.8,356.5h.01M155.2,355.9h.01M155.6,355.8h.01M155.9,355.0h.01M156.3,357.5h.01M156.7,361.5h.01M157.0,366.3h.01M157.4,369.2h.01M157.7,367.3h.01M158.1,366.6h.01M158.5,366.4h.01M158.8,362.5h.01M159.2,361.7h.01M159.6,358.5h.01M159.9,356.8h.01M160.3,351.6h.01M160.6,353.4h.01M161.0,355.2h.01M161.4,356.3h.01M161.7,357.2h.01M162.1,361.6h.01M162.5,363.9h.01M162.8,366.7h.01M163.2,366.2h.01M163.6,365.5h.01M163.9,367.7h.01M164.3,365.2h.01M164.6,365.7h.01M165.0,372.5h.01M165.4,375.2h.01M165.7,375.0h.01M166.1,381.1h.01M166.5,384.3h.01M166.8,386.8h.01M167.2,390.8h.01M167.6,390.0h.01M167.9,385.3h.01M168.3,379.0h.01M168.6,375.9h.01M169.0,374.3h.01M169.4,369.6h.01M169.7,368.0h.01M170.1,366.6h.01M170.5,365.8h.01M170.8,364.0h.01M171.2,362.1h.01M171.6,361.9h.01M171.9,360.7h.01M172.3,360.7h.01M172.6,361.7h.01M173.0,361.6h.01M173.4,360.3h.01M173.7,360.8h.01M174.1,355.4h.01M174.5,353.8h.01M174.8,352.6h.01M175.2,353.0h.01M175.6,350.4h.01M175.9,352.1h.01M176.3,354.5h.01M176.6,359.1h.01M177.0,362.7h.01M177.4,366.6h.01M177.7,366.4h.01M178.1,364.7h.01M178.5,360.6h.01M178.8,357.7h.01M179.2,356.3h.01M179.6,352.5h.01M179.9,356.4h.01M180.3,355.5h.01M180.6,355.5h.01M181.0,354.4h.01M181.4,351.9h.01M181.7,352.8h.01M182.1,350.1h.01M182.5,349.1h.01M182.8,350.9h.01M183.2,349.7h.01M183.6,351.0h.01M183.9,347.1h.01M184.3,345.6h.01M184.6,347.2h.01M185.0,347.1h.01M185.4,348.9h.01M185.7,348.4h.01M186.1,350.8h.01M186.5,353.9h.01M186.8,351.8h.01M187.2,356.2h.01M187.5,356.9h.01M187.9,361.2h.01M188.3,355.7h.01M188.6,354.0h.01M189.0,353.4h.01M189.4,352.7h.01M189.7,349.5h.01M190.1,352.1h.01M190.5,352.3h.01M190.8,351.3h.01M191.2,353.0h.01M191.5,351.3h.01M191.9,350.1h.01M192.3,348.2h.01M192.6,346.8h.01M193.0,349.2h.01M193.4,349.1h.01M193.7,348.4h.01M194.1,348.5h.01M194.5,348.9h.01M194.8,343.8h.01M195.2,343.4h.01M195.5,344.6h.01M195.9,342.8h.01M196.3,344.3h.01M196.6,345.6h.01M197.0,348.4h.01M197.4,346.8h.01M197.7,348.8h.01M198.1,345.9h.01M198.5,344.8h.01M198.8,342.1h.01M199.2,342.5h.01M199.5,340.9h.01M199.9,341.4h.01M200.3,342.7h.01M200.6,343.2h.01M201.0,342.0h.01M201.4,342.6h.01M201.7,340.8h.01M202.1,342.0h.01M202.5,343.5h.01M202.8,343.2h.01M203.2,343.4h.01M203.5,343.5h.01M203.9,344.1h.01M204.3,343.7h.01M204.6,343.7h.01M205.0,345.1h.01M205.4,343.2h.01M205.7,341.8h.01M206.1,341.6h.01M206.5,337.6h.01M206.8,337.3h.01M207.2,336.7h.01M207.5,337.9h.01M207.9,339.8h.01M208.3,339.0h.01M208.6,340.3h.01M209.0,337.4h.01M209.4,340.8h.01M209.7,342.9h.01M210.1,344.8h.01M210.4,344.8h.01M210.8,345.1h.01M211.2,343.3h.01M211.5,342.1h.01M211.9,339.9h.01M212.3,341.0h.01M212.6,342.1h.01M213.0,342.6h.01M213.4,342.4h.01M213.7,345.6h.01M214.1,344.8h.01M214.4,345.7h.01M214.8,345.8h.01M215.2,343.8h.01M215.5,341.6h.01M215.9,341.1h.01M216.3,341.6h.01M216.6,339.7h.01M217.0,340.9h.01M217.4,341.5h.01M217.7,343.2h.01M218.1,341.4h.01M218.4,340.6h.01M218.8,341.1h.01M219.2,341.6h.01M219.5,339.2h.01M219.9,340.6h.01M220.3,342.6h.01M220.6,341.1h.01M221.0,339.0h.01M221.4,338.8h.01M221.7,338.6h.01M222.1,336.2h.01M222.4,338.4h.01M222.8,337.6h.01M223.2,338.6h.01M223.5,337.3h.01M223.9,337.4h.01M224.3,335.9h.01M224.6,337.1h.01M225.0,335.2h.01M225.4,337.1h.01M225.7,335.2h.01M226.1,337.0h.01M226.4,333.7h.01M226.8,333.2h.01M227.2,333.0h.01M227.5,330.5h.01M227.9,330.8h.01M228.3,333.4h.01M228.6,332.8h.01M229.0,332.6h.01M229.4,332.0h.01M229.7,329.9h.01M230.1,330.4h.01M230.4,329.3h.01M230.8,328.9h.01M231.2,331.4h.01M231.5,328.6h.01M231.9,329.2h.01M232.3,330.4h.01M232.6,330.3h.01M233.0,329.9h.01M233.3,331.0h.01M233.7,328.5h.01M234.1,328.1h.01M234.4,331.0h.01M234.8,332.2h.01M235.2,331.3h.01M235.5,332.1h.01M235.9,331.1h.01M236.3,330.1h.01M236.6,331.0h.01M237.0,330.8h.01M237.3,330.7h.01M237.7,330.7h.01M238.1,330.8h.01M238.4,329.8h.01M238.8,330.1h.01M239.2,328.8h.01M239.5,329.3h.01M239.9,331.2h.01M240.3,327.6h.01M240.6,328.1h.01M241.0,327.0h.01M241.3,326.0h.01M241.7,325.5h.01M242.1,325.9h.01M242.4,325.5h.01M242.8,323.9h.01M243.2,324.4h.01M243.5,323.4h.01M243.9,321.0h.01M244.3,321.2h.01M244.6,322.1h.01M245.0,322.2h.01M245.3,325.3h.01M245.7,327.0h.01M246.1,329.9h.01M246.4,332.0h.01M246.8,331.9h.01M247.2,333.9h.01M247.5,334.0h.01M247.9,335.7h.01M248.3,336.4h.01M248.6,338.1h.01M249.0,337.0h.01M249.3,340.6h.01M249.7,339.6h.01M250.1,339.5h.01M250.4,337.6h.01M250.8,334.4h.01M251.2,333.2h.01M251.5,332.1h.01M251.9,334.4h.01M252.3,332.2h.01M252.6,330.9h.01M253.0,329.7h.01M253.3,327.2h.01M253.7,325.9h.01M254.1,326.3h.01M254.4,327.8h.01M254.8,324.6h.01M255.2,325.5h.01M255.5,324.2h.01M255.9,322.1h.01M256.2,322.9h.01M256.6,323.3h.01M257.0,322.5h.01M257.3,323.5h.01M257.7,321.2h.01M258.1,321.5h.01M258.4,318.5h.01M258.8,320.2h.01M259.2,318.0h.01M259.5,319.4h.01M259.9,317.7h.01M260.2,317.0h.01M260.6,318.6h.01M261.0,320.0h.01M261.3,318.7h.01M261.7,319.4h.01M262.1,317.2h.01M262.4,315.8h.01M262.8,313.3h.01M263.2,313.1h.01M263.5,311.0h.01M263.9,314.0h.01M264.2,313.5h.01M264.6,313.4h.01M265.0,312.7h.01M265.3,312.4h.01M265.7,311.2h.01M266.1,312.5h.01M266.4,311.0h.01M266.8,310.9h.01M267.2,312.2h.01M267.5,313.7h.01M267.9,312.8h.01M268.2,312.2h.01M268.6,313.2h.01M269.0,312.5h.01M269.3,311.9h.01M269.7,311.6h.01M270.1,312.4h.01M270.4,313.7h.01M270.8,314.7h.01M271.2,316.8h.01M271.5,317.0h.01M271.9,317.4h.01M272.2,317.4h.01M272.6,318.4h.01M273.0,317.2h.01M273.3,316.9h.01M273.7,318.0h.01M274.1,317.6h.01M274.4,317.0h.01M274.8,318.3h.01M275.2,315.6h.01M275.5,315.5h.01M275.9,316.2h.01M276.2,316.0h.01M276.6,314.3h.01M277.0,315.0h.01M277.3,312.9h.01M277.7,311.6h.01M278.1,311.6h.01M278.4,311.8h.01M278.8,308.2h.01M279.2,309.3h.01M279.5,309.4h.01M279.9,310.7h.01M280.2,309.8h.01M280.6,312.6h.01M281.0,312.2h.01M281.3,311.6h.01M281.7,309.6h.01M282.1,310.2h.01M282.4,309.7h.01M282.8,307.6h.01M283.1,308.2h.01M283.5,309.6h.01M283.9,308.6h.01M284.2,311.3h.01M284.6,313.6h.01M285.0,315.5h.01M285.3,312.7h.01M285.7,314.4h.01M286.1,312.6h.01M286.4,311.6h.01M286.8,308.3h.01M287.1,309.7h.01M287.5,309.6h.01M287.9,310.3h.01M288.2,310.9h.01M288.6,311.8h.01M289.0,310.8h.01M289.3,310.9h.01M289.7,312.1h.01M290.1,314.3h.01M290.4,313.9h.01M290.8,311.5h.01M291.1,309.7h.01M291.5,302.7h.01M291.9,296.1h.01M292.2,292.3h.01M292.6,291.8h.01M293.0,289.6h.01M293.3,286.0h.01M293.7,280.9h.01M294.1,279.0h.01M294.4,274.4h.01M294.8,275.1h.01M295.1,276.8h.01M295.5,276.5h.01M295.9,275.6h.01M296.2,278.6h.01M296.6,278.0h.01M297.0,274.2h.01M297.3,272.3h.01M297.7,276.7h.01M298.1,275.3h.01M298.4,275.0h.01M298.8,279.7h.01M299.1,281.2h.01M299.5,279.9h.01M299.9,281.4h.01M300.2,279.1h.01M300.6,279.9h.01M301.0,279.5h.01M301.3,281.4h.01M301.7,280.1h.01M302.1,280.4h.01M302.4,281.2h.01M302.8,280.8h.01M303.1,279.2h.01M303.5,278.4h.01M303.9,278.4h.01M304.2,276.3h.01M304.6,273.5h.01M305.0,271.6h.01M305.3,271.1h.01M305.7,272.0h.01M306.0,271.2h.01M306.4,269.8h.01M306.8,268.0h.01M307.1,263.0h.01M307.5,265.3h.01M307.9,265.9h.01M308.2,267.3h.01M308.6,268.3h.01M309.0,272.0h.01M309.3,271.9h.01M309.7,275.0h.01M310.0,274.6h.01M310.4,274.3h.01M310.8,277.6h.01M311.1,273.8h.01M311.5,271.3h.01M311.9,272.4h.01M312.2,270.1h.01M312.6,266.9h.01M313.0,266.2h.01M313.3,262.9h.01M313.7,262.6h.01M314.0,262.3h.01M314.4,268.3h.01M314.8,268.8h.01M315.1,273.8h.01M315.5,273.9h.01M315.9,275.4h.01M316.2,276.5h.01M316.6,273.5h.01M317.0,269.7h.01M317.3,270.2h.01M317.7,268.2h.01M318.0,265.3h.01M318.4,261.2h.01M318.8,263.1h.01M319.1,264.8h.01M319.5,264.3h.01M319.9,267.1h.01M320.2,270.9h.01M320.6,275.2h.01M321.0,275.9h.01M321.3,278.3h.01M321.7,279.4h.01M322.0,282.5h.01M322.4,280.1h.01M322.8,285.1h.01M323.1,289.1h.01M323.5,286.7h.01M323.9,289.9h.01M324.2,291.8h.01M324.6,288.2h.01M325.0,290.5h.01M325.3,283.9h.01M325.7,287.8h.01M326.0,290.5h.01M326.4,289.6h.01M326.8,289.4h.01M327.1,291.5h.01M327.5,292.4h.01M327.9,290.4h.01M328.2,286.1h.01M328.6,288.0h.01M328.9,288.5h.01M329.3,284.0h.01M329.7,283.9h.01M330.0,286.5h.01M330.4,284.6h.01M330.8,286.6h.01M331.1,284.8h.01M331.5,280.2h.01M331.9,279.4h.01M332.2,275.6h.01M332.6,274.7h.01M332.9,274.6h.01M333.3,274.9h.01M333.7,274.8h.01M334.0,274.9h.01M334.4,276.7h.01M334.8,275.7h.01M335.1,277.7h.01M335.5,279.1h.01M335.9,277.3h.01M336.2,280.2h.01M336.6,284.1h.01M336.9,283.3h.01M337.3,283.8h.01M337.7,282.2h.01M338.0,274.1h.01M338.4,268.8h.01M338.8,264.1h.01M339.1,258.4h.01M339.5,257.8h.01M339.9,254.6h.01M340.2,251.8h.01M340.6,250.1h.01M340.9,254.8h.01M341.3,254.9h.01M341.7,257.8h.01M342.0,260.3h.01M342.4,261.2h.01M342.8,261.8h.01M343.1,260.8h.01M343.5,259.8h.01M343.9,265.3h.01M344.2,266.2h.01M344.6,269.4h.01M344.9,272.3h.01M345.3,273.4h.01M345.7,272.3h.01M346.0,270.2h.01M346.4,267.0h.01M346.8,267.8h.01M347.1,267.8h.01M347.5,268.4h.01M347.9,269.3h.01M348.2,268.5h.01M348.6,271.5h.01M348.9,273.2h.01M349.3,274.6h.01M349.7,274.7h.01M350.0,277.1h.01M350.4,280.5h.01M350.8,277.5h.01M351.1,271.9h.01M351.5,272.6h.01M351.9,268.5h.01M352.2,265.0h.01M352.6,264.3h.01M352.9,258.7h.01M353.3,254.5h.01M353.7,257.1h.01M354.0,258.5h.01M354.4,254.1h.01M354.8,257.6h.01M355.1,257.6h.01M355.5,258.8h.01M355.8,258.8h.01M356.2,264.7h.01M356.6,266.9h.01M356.9,269.2h.01M357.3,269.1h.01M357.7,269.4h.01M358.0,270.0h.01M358.4,269.0h.01M358.8,268.8h.01M359.1,269.4h.01M359.5,269.2h.01M359.8,269.5h.01M360.2,270.7h.01M360.6,272.6h.01M360.9,272.9h.01M361.3,274.8h.01M361.7,275.7h.01M362.0,270.4h.01M362.4,267.5h.01M362.8,265.7h.01M363.1,266.1h.01M363.5,266.2h.01M363.8,262.9h.01M364.2,267.9h.01M364.6,267.9h.01M364.9,268.2h.01M365.3,270.4h.01M365.7,274.7h.01M366.0,275.6h.01M366.4,277.8h.01M366.8,277.9h.01M367.1,280.0h.01M367.5,279.6h.01M367.8,278.1h.01M368.2,273.2h.01M368.6,271.5h.01M368.9,273.1h.01M369.3,268.0h.01M369.7,272.1h.01M370.0,271.9h.01M370.4,269.6h.01M370.8,266.7h.01M371.1,269.3h.01M371.5,262.5h.01M371.8,265.3h.01M372.2,268.5h.01M372.6,267.4h.01M372.9,268.4h.01M373.3,268.6h.01M373.7,270.7h.01M374.0,268.6h.01M374.4,273.8h.01M374.8,271.8h.01M375.1,273.0h.01M375.5,272.2h.01M375.8,273.6h.01M376.2,269.1h.01M376.6,271.3h.01M376.9,272.0h.01M377.3,272.9h.01M377.7,272.5h.01M378.0,274.3h.01M378.4,272.4h.01M378.7,274.8h.01M379.1,274.6h.01M379.5,275.6h.01M379.8,279.4h.01M380.2,276.0h.01M380.6,276.7h.01M380.9,275.8h.01M381.3,274.8h.01M381.7,273.0h.01M382.0,271.5h.01M382.4,271.7h.01M382.7,270.5h.01M383.1,262.0h.01M383.5,261.9h.01M383.8,263.3h.01M384.2,259.4h.01M384.6,261.5h.01M384.9,267.4h.01M385.3,268.0h.01M385.7,269.5h.01M386.0,268.6h.01M386.4,270.9h.01M386.7,274.1h.01M387.1,272.4h.01M387.5,272.5h.01M387.8,271.0h.01M388.2,268.1h.01M388.6,265.5h.01M388.9,264.1h.01M389.3,262.2h.01M389.7,258.6h.01M390.0,256.6h.01M390.4,261.0h.01M390.7,264.2h.01M391.1,267.7h.01M391.5,267.7h.01M391.8,271.2h.01M392.2,274.8h.01M392.6,277.8h.01M392.9,278.0h.01M393.3,283.6h.01M393.7,280.7h.01M394.0,279.0h.01M394.4,273.8h.01M394.7,271.7h.01M395.1,269.5h.01M395.5,262.6h.01M395.8,265.1h.01M396.2,263.5h.01M396.6,269.5h.01M396.9,269.4h.01M397.3,276.7h.01M397.7,278.5h.01M398.0,285.4h.01M398.4,285.1h.01M398.7,292.5h.01M399.1,298.5h.01M399.5,297.1h.01M399.8,294.4h.01M400.2,291.7h.01M400.6,294.3h.01M400.9,294.7h.01M401.3,296.9h.01M401.6,295.6h.01M402.0,294.9h.01M402.4,289.2h.01M402.7,281.9h.01M403.1,278.1h.01M403.5,276.6h.01M403.8,273.0h.01M404.2,268.9h.01M404.6,269.9h.01M404.9,270.3h.01M405.3,272.5h.01M405.6,272.7h.01M406.0,274.7h.01M406.4,277.7h.01M406.7,277.4h.01M407.1,278.1h.01M407.5,276.0h.01M407.8,276.5h.01M408.2,278.3h.01M408.6,277.4h.01M408.9,276.5h.01M409.3,280.0h.01M409.6,277.5h.01M410.0,274.5h.01M410.4,276.2h.01M410.7,275.9h.01M411.1,274.9h.01M411.5,272.8h.01M411.8,273.0h.01M412.2,274.4h.01M412.6,276.3h.01M412.9,279.6h.01M413.3,280.3h.01M413.6,284.8h.01M414.0,290.3h.01M414.4,287.6h.01M414.7,286.3h.01M415.1,286.1h.01M415.5,284.4h.01M415.8,280.1h.01M416.2,276.6h.01M416.6,275.8h.01M416.9,277.8h.01M417.3,278.8h.01M417.6,283.4h.01M418.0,285.6h.01M418.4,287.2h.01M418.7,291.1h.01M419.1,298.3h.01M419.5,295.6h.01M419.8,295.3h.01M420.2,293.2h.01M420.6,292.7h.01M420.9,292.1h.01M421.3,288.0h.01M421.6,283.6h.01M422.0,287.4h.01M422.4,295.7h.01M422.7,300.3h.01M423.1,310.8h.01M423.5,313.6h.01M423.8,318.6h.01M424.2,328.1h.01M424.6,326.0h.01M424.9,337.3h.01M425.3,343.3h.01M425.6,344.3h.01M426.0,347.1h.01M426.4,349.1h.01M426.7,349.8h.01M427.1,352.1h.01M427.5,351.8h.01M427.8,357.1h.01M428.2,355.1h.01M428.5,366.5h.01M428.9,368.1h.01M429.3,372.0h.01M429.6,363.6h.01M430.0,363.3h.01M430.4,362.3h.01M430.7,362.0h.01M431.1,364.7h.01M431.5,365.8h.01M431.8,372.9h.01M432.2,372.8h.01M432.5,368.3h.01M432.9,372.3h.01M433.3,383.1h.01M433.6,374.7h.01M434.0,375.8h.01M434.4,376.7h.01M434.7,371.0h.01M435.1,367.1h.01M435.5,362.6h.01M435.8,357.5h.01M436.2,357.7h.01M436.5,351.7h.01M436.9,341.2h.01M437.3,339.1h.01M437.6,340.2h.01M438.0,350.1h.01M438.4,359.8h.01M438.7,368.7h.01M439.1,380.5h.01M439.5,383.7h.01M439.8,382.9h.01M440.2,390.4h.01M440.5,385.4h.01M440.9,382.3h.01M441.3,383.5h.01M441.6,383.7h.01M442.0,379.3h.01M442.4,372.2h.01M442.7,371.6h.01M443.1,372.2h.01M443.5,373.2h.01M443.8,372.5h.01M444.2,375.9h.01M444.5,361.5h.01M444.9,360.3h.01M445.3,357.3h.01M445.6,348.1h.01M446.0,344.1h.01M446.4,359.9h.01M446.7,359.0h.01M447.1,364.4h.01M447.5,368.7h.01M447.8,376.9h.01M448.2,376.4h.01M448.5,381.7h.01M448.9,381.2h.01M449.3,384.2h.01M449.6,381.9h.01M450.0,379.2h.01M450.4,375.3h.01M450.7,368.0h.01M451.1,364.1h.01M451.4,368.6h.01M451.8,369.8h.01M452.2,382.3h.01M452.5,375.6h.01M452.9,377.8h.01M453.3,383.7h.01M453.6,386.6h.01M454.0,376.1h.01M454.4,373.7h.01M454.7,371.6h.01M455.1,362.4h.01M455.4,371.2h.01M455.8,370.5h.01M456.2,362.5h.01M456.5,363.7h.01M456.9,354.9h.01M457.3,347.0h.01M457.6,336.7h.01M458.0,338.5h.01M458.4,338.7h.01M458.7,338.4h.01M459.1,330.7h.01M459.4,333.1h.01M459.8,324.6h.01M460.2,318.1h.01M460.5,313.3h.01M460.9,315.3h.01M461.3,312.4h.01M461.6,311.1h.01M462.0,319.4h.01M462.4,326.6h.01M462.7,320.1h.01M463.1,323.7h.01M463.4,318.0h.01M463.8,314.7h.01M464.2,306.5h.01M464.5,310.0h.01M464.9,301.0h.01M465.3,301.7h.01M465.6,293.7h.01M466.0,290.1h.01M466.4,288.4h.01M466.7,289.9h.01M467.1,284.7h.01M467.4,291.7h.01M467.8,291.7h.01M468.2,290.5h.01M468.5,282.6h.01M468.9,282.0h.01M469.3,277.5h.01M469.6,280.5h.01M470.0,275.2h.01M470.4,276.4h.01M470.7,272.1h.01M471.1,270.6h.01M471.4,271.8h.01M471.8,268.0h.01M472.2,274.7h.01M472.5,279.4h.01M472.9,273.8h.01M473.3,274.7h.01M473.6,284.4h.01M474.0,277.8h.01M474.3,274.2h.01M474.7,278.0h.01M475.1,275.8h.01M475.4,271.4h.01M475.8,270.6h.01M476.2,273.0h.01M476.5,265.7h.01M476.9,268.2h.01M477.3,265.7h.01M477.6,265.7h.01M478.0,261.6h.01M478.3,260.7h.01M478.7,264.7h.01M479.1,264.0h.01M479.4,264.5h.01M479.8,266.0h.01M480.2,266.1h.01M480.5,265.6h.01M480.9,268.5h.01M481.3,269.3h.01M481.6,269.0h.01M482.0,273.1h.01M482.3,273.8h.01M482.7,278.0h.01M483.1,280.5h.01M483.4,288.7h.01M483.8,290.1h.01M484.2,293.3h.01M484.5,304.3h.01M484.9,309.5h.01M485.3,306.3h.01M485.6,306.8h.01M486.0,297.5h.01M486.3,291.2h.01M486.7,292.8h.01M487.1,292.7h.01M487.4,286.4h.01M487.8,289.8h.01M488.2,283.8h.01M488.5,280.6h.01M488.9,277.5h.01M489.3,275.0h.01M489.6,279.2h.01M490.0,275.6h.01M490.3,275.2h.01M490.7,266.5h.01M491.1,263.6h.01M491.4,256.2h.01M491.8,249.0h.01M492.2,244.9h.01M492.5,243.6h.01M492.9,240.0h.01M493.3,240.3h.01M493.6,246.1h.01M494.0,242.5h.01M494.3,241.3h.01M494.7,239.6h.01M495.1,237.5h.01M495.4,236.6h.01M495.8,237.6h.01M496.2,235.0h.01M496.5,232.8h.01M496.9,228.4h.01M497.3,231.4h.01M497.6,233.2h.01M498.0,228.3h.01M498.3,232.8h.01M498.7,234.2h.01M499.1,237.4h.01M499.4,235.5h.01M499.8,237.0h.01M500.2,234.4h.01M500.5,241.4h.01M500.9,251.1h.01M501.2,260.6h.01M501.6,267.5h.01M502.0,283.1h.01M502.3,293.4h.01M502.7,300.8h.01M503.1,313.1h.01M503.4,325.9h.01M503.8,321.1h.01M504.2,317.5h.01M504.5,313.9h.01M504.9,309.7h.01M505.2,305.0h.01M505.6,303.7h.01M506.0,299.8h.01M506.3,302.4h.01M506.7,296.4h.01M507.1,302.4h.01M507.4,297.6h.01M507.8,299.3h.01M508.2,298.1h.01M508.5,303.6h.01M508.9,295.4h.01M509.2,296.3h.01M509.6,289.5h.01M510.0,284.1h.01M510.3,285.2h.01M510.7,286.1h.01M511.1,279.3h.01M511.4,281.6h.01M511.8,278.4h.01M512.2,281.2h.01M512.5,282.6h.01M512.9,286.5h.01M513.2,290.1h.01M513.6,285.1h.01M514.0,282.4h.01M514.3,277.2h.01M514.7,276.7h.01M515.1,282.8h.01M515.4,278.3h.01M515.8,277.5h.01M516.2,291.9h.01M516.5,301.6h.01M516.9,314.5h.01M517.2,323.5h.01M517.6,339.7h.01M518.0,346.1h.01M518.3,353.8h.01M518.7,362.1h.01M519.1,360.3h.01M519.4,360.1h.01M519.8,357.2h.01M520.2,354.7h.01M520.5,357.4h.01M520.9,360.7h.01M521.2,360.4h.01M521.6,359.4h.01M522.0,367.3h.01M522.3,363.9h.01M522.7,360.6h.01M523.1,355.5h.01M523.4,352.7h.01M523.8,348.8h.01M524.1,352.1h.01M524.5,353.7h.01M524.9,345.4h.01M525.2,349.4h.01M525.6,356.2h.01M526.0,351.1h.01M526.3,351.8h.01M526.7,357.9h.01M527.1,355.6h.01M527.4,349.8h.01M527.8,347.4h.01M528.1,345.1h.01M528.5,341.0h.01M528.9,342.2h.01M529.2,352.7h.01M529.6,362.7h.01M530.0,370.3h.01M530.3,380.5h.01M530.7,378.8h.01M531.1,374.6h.01M531.4,378.3h.01M531.8,382.3h.01M532.1,379.5h.01M532.5,382.1h.01M532.9,386.9h.01M533.2,383.1h.01M533.6,378.2h.01M534.0,378.3h.01M534.3,375.9h.01M534.7,374.8h.01M535.1,373.2h.01M535.4,373.8h.01M535.8,368.4h.01M536.1,380.7h.01M536.5,388.7h.01M536.9,396.6h.01M537.2,390.6h.01M537.6,398.8h.01M538.0,396.9h.01M538.3,400.4h.01M538.7,400.6h.01M539.1,398.6h.01M539.4,402.5h.01M539.8,403.0h.01M540.1,411.4h.01M540.5,416.1h.01M540.9,427.4h.01M541.2,425.0h.01M541.6,421.4h.01M542.0,408.5h.01M542.3,386.3h.01M542.7,365.9h.01M543.1,322.7h.01M543.4,336.5h.01M543.8,343.4h.01M544.1,346.3h.01M544.5,341.4h.01M544.9,334.7h.01M545.2,325.5h.01M545.6,300.6h.01M546.0,290.7h.01M546.3,279.8h.01M546.7,276.4h.01M547.0,272.7h.01M547.4,267.4h.01M547.8,283.5h.01M548.1,286.7h.01M548.5,302.3h.01M548.9,319.3h.01M549.2,319.4h.01M549.6,321.0h.01M550.0,320.4h.01M550.3,318.8h.01M550.7,324.9h.01M551.0,298.1h.01M551.4,266.9h.01M551.8,263.7h.01M552.1,267.6h.01M552.5,285.6h.01M552.9,326.3h.01M553.2,326.8h.01M553.6,339.3h.01M554.0,326.8h.01M554.3,313.8h.01M554.7,293.2h.01M555.0,276.7h.01M555.4,278.1h.01M555.8,287.9h.01M556.1,287.7h.01M556.5,300.0h.01M556.9,306.5h.01M557.2,313.8h.01M557.6,318.4h.01M558.0,326.0h.01M558.3,329.3h.01M558.7,324.6h.01M559.0,312.1h.01M559.4,308.6h.01M559.8,305.5h.01M560.1,281.9h.01M560.5,276.8h.01M560.9,275.9h.01M561.2,260.5h.01M561.6,268.1h.01M562.0,257.7h.01M562.3,272.8h.01M562.7,295.2h.01M563.0,304.8h.01M563.4,322.6h.01M563.8,311.6h.01M564.1,302.1h.01M564.5,295.3h.01M564.9,248.4h.01M565.2,225.4h.01M565.6,207.9h.01M566.0,210.6h.01M566.3,237.1h.01M566.7,277.6h.01M567.0,307.1h.01M567.4,310.4h.01M567.8,310.6h.01M568.1,306.4h.01M568.5,287.4h.01M568.9,229.8h.01M569.2,207.2h.01M569.6,193.7h.01M570.0,193.3h.01M570.3,200.7h.01M570.7,221.6h.01M571.0,259.4h.01M571.4,275.1h.01M571.8,283.6h.01M572.1,286.2h.01M572.5,289.4h.01M572.9,285.3h.01M573.2,284.8h.01M573.6,303.8h.01M573.9,281.5h.01M574.3,251.0h.01M574.7,231.2h.01M575.0,207.9h.01M575.4,209.3h.01M575.8,207.5h.01M576.1,220.6h.01M576.5,229.0h.01M576.9,244.9h.01M577.2,275.7h.01M577.6,293.1h.01M577.9,305.1h.01M578.3,293.8h.01M578.7,299.1h.01M579.0,242.5h.01M579.4,198.4h.01M579.8,191.6h.01M580.1,199.9h.01M580.5,219.7h.01M580.9,289.2h.01M581.2,280.0h.01M581.6,284.2h.01M581.9,280.7h.01M582.3,280.9h.01M582.7,252.0h.01M583.0,235.0h.01M583.4,226.9h.01M583.8,232.8h.01M584.1,230.1h.01M584.5,234.4h.01M584.9,234.7h.01M585.2,249.1h.01M585.6,258.4h.01M585.9,280.8h.01M586.3,303.8h.01M586.7,312.0h.01M587.0,315.5h.01M587.4,311.2h.01M587.8,301.5h.01M588.1,285.5h.01M588.5,261.7h.01M588.9,236.8h.01M589.2,220.0h.01M589.6,204.5h.01M589.9,206.4h.01M590.3,205.3h.01M590.7,218.7h.01M591.0,252.9h.01M591.4,296.1h.01M591.8,298.2h.01M592.1,305.5h.01M592.5,296.8h.01M592.9,242.7h.01M593.2,201.8h.01M593.6,186.5h.01M593.9,201.4h.01M594.3,216.8h.01M594.7,245.3h.01M595.0,258.1h.01M595.4,265.6h.01M595.8,267.2h.01M596.1,264.9h.01M596.5,237.5h.01M596.8,222.8h.01M597.2,214.9h.01M597.6,211.4h.01M597.9,214.1h.01M598.3,212.6h.01M598.7,218.6h.01M599.0,224.3h.01M599.4,216.5h.01M599.8,232.5h.01M600.1,232.3h.01M600.5,234.3h.01M600.8,211.0h.01M601.2,209.9h.01M601.6,202.6h.01M601.9,204.5h.01M602.3,191.8h.01M602.7,191.2h.01M603.0,202.3h.01M603.4,196.0h.01M603.8,191.2h.01M604.1,205.9h.01M604.5,195.5h.01M604.8,192.6h.01M605.2,189.7h.01M605.6,188.3h.01M605.9,195.2h.01M606.3,199.8h.01M606.7,207.5h.01M607.0,215.2h.01M607.4,210.3h.01M607.8,208.9h.01M608.1,200.7h.01M608.5,197.1h.01M608.8,192.4h.01M609.2,192.5h.01M609.6,187.0h.01M609.9,197.7h.01M610.3,197.0h.01M610.7,198.3h.01M611.0,194.2h.01M611.4,187.9h.01M611.8,191.8h.01M612.1,192.8h.01M612.5,195.7h.01M612.8,193.6h.01M613.2,205.7h.01M613.6,203.5h.01M613.9,202.2h.01M614.3,215.3h.01M614.7,224.3h.01M615.0,224.4h.01M615.4,226.0h.01M615.8,218.9h.01M616.1,209.2h.01M616.5,205.3h.01M616.8,205.5h.01M617.2,199.7h.01M617.6,202.2h.01M617.9,208.2h.01M618.3,204.3h.01M618.7,206.2h.01M619.0,208.6h.01M619.4,208.7h.01M619.8,217.3h.01M620.1,218.2h.01M620.5,226.4h.01M620.8,218.3h.01M621.2,220.3h.01M621.6,226.8h.01M621.9,224.7h.01M622.3,224.5h.01M622.7,232.7h.01M623.0,227.9h.01M623.4,223.2h.01M623.7,232.1h.01M624.1,225.3h.01M624.5,222.2h.01M624.8,216.9h.01M625.2,218.5h.01M625.6,208.9h.01M625.9,214.6h.01M626.3,209.6h.01M626.7,219.7h.01M627.0,213.0h.01M627.4,224.9h.01M627.7,222.8h.01M628.1,226.5h.01M628.5,227.4h.01M628.8,225.2h.01M629.2,222.7h.01M629.6,218.5h.01M629.9,206.8h.01M630.3,215.2h.01M630.7,222.7h.01M631.0,211.7h.01M631.4,216.5h.01M631.7,217.7h.01M632.1,214.1h.01M632.5,211.6h.01M632.8,211.7h.01M633.2,216.9h.01M633.6,210.6h.01M633.9,216.1h.01M634.3,212.1h.01M634.7,208.4h.01M635.0,207.6h.01M635.4,213.5h.01M635.7,209.3h.01M636.1,214.9h.01M636.5,213.3h.01M636.8,212.7h.01M637.2,206.8h.01M637.6,198.7h.01M637.9,203.9h.01M638.3,202.1h.01M638.7,202.6h.01M639.0,207.2h.01M639.4,207.6h.01M639.7,212.8h.01M640.1,218.4h.01M640.5,219.7h.01M640.8,215.2h.01M641.2,221.4h.01M641.6,221.9h.01M641.9,218.7h.01M642.3,220.1h.01M642.7,222.6h.01M643.0,221.5h.01M643.4,224.5h.01M643.7,222.5h.01M644.1,222.3h.01M644.5,222.5h.01M644.8,214.9h.01M645.2,215.0h.01M645.6,213.6h.01M645.9,217.8h.01M646.3,209.4h.01M646.6,207.3h.01M647.0,205.7h.01M647.4,208.4h.01M647.7,197.4h.01M648.1,190.0h.01M648.5,190.6h.01M648.8,193.8h.01M649.2,191.6h.01M649.6,196.1h.01M649.9,206.4h.01M650.3,199.6h.01M650.6,205.4h.01M651.0,205.4h.01M651.4,203.8h.01M651.7,204.2h.01M652.1,202.9h.01M652.5,198.8h.01M652.8,196.6h.01M653.2,202.2h.01M653.6,196.0h.01M653.9,197.1h.01M654.3,195.9h.01M654.6,192.8h.01M655.0,196.5h.01M655.4,196.4h.01M655.7,196.1h.01M656.1,196.1h.01M656.5,195.2h.01M656.8,198.4h.01M657.2,193.0h.01M657.6,196.3h.01M657.9,195.3h.01M658.3,195.6h.01M658.6,196.5h.01M659.0,198.6h.01M659.4,195.8h.01M659.7,190.1h.01M660.1,195.4h.01M660.5,199.3h.01M660.8,193.2h.01M661.2,191.1h.01M661.6,191.1h.01M661.9,188.6h.01M662.3,188.2h.01M662.6,192.1h.01M663.0,195.0h.01M663.4,192.9h.01M663.7,198.3h.01M664.1,202.9h.01M664.5,203.3h.01M664.8,205.4h.01M665.2,215.4h.01M665.6,214.5h.01M665.9,215.7h.01M666.3,216.6h.01M666.6,222.5h.01M667.0,224.6h.01M667.4,235.5h.01M667.7,244.4h.01M668.1,238.0h.01M668.5,229.1h.01M668.8,215.9h.01M669.2,205.0h.01M669.5,202.4h.01M669.9,200.8h.01M670.3,198.0h.01M670.6,199.2h.01M671.0,199.7h.01M671.4,196.3h.01M671.7,194.3h.01M672.1,195.5h.01M672.5,191.9h.01M672.8,193.4h.01M673.2,201.8h.01M673.5,201.0h.01M673.9,204.4h.01M674.3,205.3h.01M674.6,206.1h.01M675.0,197.4h.01M675.4,199.7h.01M675.7,195.6h.01M676.1,194.1h.01M676.5,190.1h.01M676.8,191.1h.01M677.2,191.7h.01M677.5,192.0h.01M677.9,192.4h.01M678.3,193.2h.01M678.6,192.0h.01M679.0,191.5h.01M679.4,190.5h.01M679.7,189.6h.01M680.1,190.2h.01M680.5,185.4h.01M680.8,185.9h.01M681.2,186.3h.01M681.5,185.0h.01M681.9,187.3h.01M682.3,190.4h.01M682.6,191.9h.01M683.0,194.4h.01M683.4,196.9h.01M683.7,199.2h.01M684.1,196.6h.01M684.5,193.5h.01M684.8,187.8h.01M685.2,188.3h.01M685.5,186.7h.01M685.9,189.8h.01M686.3,196.6h.01M686.6,191.0h.01M687.0,197.6h.01M687.4,192.1h.01M687.7,193.7h.01M688.1,195.1h.01M688.5,197.0h.01M688.8,193.8h.01M689.2,191.7h.01M689.5,196.2h.01M689.9,196.0h.01M690.3,203.9h.01M690.6,202.2h.01M691.0,203.0h.01M691.4,201.4h.01M691.7,202.0h.01M692.1,199.4h.01M692.4,203.3h.01M692.8,202.9h.01M693.2,203.9h.01M693.5,203.0h.01M693.9,206.0h.01M694.3,206.9h.01M694.6,206.6h.01M695.0,206.8h.01M695.4,209.5h.01M695.7,208.5h.01M696.1,208.8h.01M696.4,210.4h.01M696.8,209.1h.01M697.2,209.7h.01M697.5,206.7h.01M697.9,208.4h.01M698.3,207.8h.01M698.6,205.2h.01M699.0,206.1h.01M699.4,206.8h.01M699.7,208.2h.01M700.1,206.6h.01M700.4,205.7h.01M700.8,207.8h.01M701.2,205.2h.01M701.5,205.6h.01M701.9,204.9h.01M702.3,208.8h.01M702.6,206.3h.01M703.0,208.0h.01M703.4,205.8h.01M703.7,210.0h.01M704.1,206.9h.01M704.4,210.0h.01M704.8,210.4h.01M705.2,209.5h.01M705.5,211.4h.01M705.9,211.7h.01M706.3,209.5h.01M706.6,211.0h.01M707.0,211.7h.01M707.4,210.5h.01M707.7,213.1h.01M708.1,212.8h.01M708.4,212.4h.01M708.8,214.4h.01M709.2,215.7h.01M709.5,214.7h.01M709.9,215.8h.01M710.3,215.1h.01M710.6,216.8h.01M711.0,215.0h.01M711.4,211.8h.01M711.7,209.6h.01M712.1,209.2h.01M712.4,211.7h.01M712.8,210.2h.01M713.2,210.1h.01M713.5,209.2h.01M713.9,210.9h.01M714.3,207.7h.01M714.6,206.5h.01M715.0,206.9h.01M715.4,209.1h.01M715.7,206.6h.01M716.1,204.5h.01M716.4,205.3h.01M716.8,205.5h.01M717.2,204.4h.01M717.5,203.4h.01M717.9,204.7h.01M718.3,203.6h.01M718.6,203.4h.01M719.0,205.6h.01M719.3,206.6h.01M719.7,205.0h.01M720.1,205.6h.01M720.4,208.5h.01M720.8,205.3h.01M721.2,206.2h.01M721.5,208.5h.01M721.9,206.5h.01M722.3,206.1h.01M722.6,204.6h.01M723.0,203.5h.01M723.3,205.3h.01M723.7,206.0h.01M724.1,204.0h.01M724.4,204.6h.01M724.8,203.8h.01M725.2,203.0h.01M725.5,202.8h.01M725.9,204.2h.01M726.3,204.0h.01M726.6,206.1h.01M727.0,204.4h.01M727.3,205.6h.01M727.7,204.5h.01M728.1,205.9h.01M728.4,204.7h.01M728.8,206.2h.01M729.2,207.5h.01M729.5,207.4h.01M729.9,207.3h.01M730.3,210.3h.01M730.6,207.7h.01M731.0,209.6h.01M731.3,207.6h.01M731.7,209.5h.01M732.1,207.0h.01M732.4,207.4h.01M732.8,208.4h.01M733.2,209.5h.01M733.5,207.2h.01M733.9,210.0h.01M734.3,212.3h.01M734.6,211.3h.01M735.0,212.2h.01M735.3,211.9h.01M735.7,211.6h.01M736.1,212.1h.01M736.4,212.2h.01M736.8,210.6h.01M737.2,212.2h.01M737.5,212.0h.01M737.9,211.1h.01M738.3,212.4h.01M738.6,211.4h.01M739.0,211.1h.01M739.3,211.8h.01M739.7,212.4h.01M740.1,212.6h.01M740.4,213.7h.01M740.8,214.2h.01M741.2,214.1h.01M741.5,214.6h.01M741.9,212.7h.01M742.2,211.9h.01M742.6,211.2h.01M743.0,212.3h.01M743.3,210.1h.01M743.7,212.3h.01M744.1,214.2h.01M744.4,213.7h.01M744.8,214.9h.01M745.2,214.9h.01M745.5,213.8h.01M745.9,212.6h.01M746.2,211.8h.01M746.6,211.4h.01M747.0,213.6h.01M747.3,212.5h.01M747.7,212.5h.01M748.1,212.3h.01M748.4,213.2h.01M748.8,211.8h.01M749.2,211.5h.01M749.5,209.4h.01M749.9,211.1h.01M750.2,213.0h.01M750.6,211.8h.01M751.0,211.1h.01M751.3,209.6h.01M751.7,210.7h.01M752.1,209.8h.01M752.4,210.9h.01M752.8,207.9h.01M753.2,208.5h.01M753.5,208.6h.01M753.9,205.9h.01M754.2,208.1h.01M754.6,209.1h.01M755.0,208.3h.01M755.3,209.6h.01M755.7,208.8h.01M756.1,211.3h.01M756.4,208.0h.01M756.8,211.5h.01M757.2,212.3h.01M757.5,209.9h.01M757.9,208.4h.01M758.2,208.5h.01M758.6,205.2h.01M759.0,206.9h.01M759.3,208.2h.01M759.7,208.3h.01M760.1,209.0h.01M760.4,210.8h.01M760.8,210.4h.01M761.2,211.8h.01M761.5,211.2h.01M761.9,212.1h.01M762.2,212.3h.01M762.6,211.7h.01M763.0,212.0h.01M763.3,210.0h.01M763.7,212.1h.01M764.1,212.3h.01M764.4,212.1h.01M764.8,211.2h.01M765.1,211.9h.01M765.5,212.5h.01M765.9,209.4h.01M766.2,210.1h.01M766.6,210.5h.01M767.0,210.0h.01M767.3,210.7h.01M767.7,210.8h.01M768.1,211.4h.01M768.4,213.4h.01M768.8,213.6h.01M769.1,214.6h.01M769.5,215.6h.01M769.9,215.4h.01M770.2,213.5h.01M770.6,213.6h.01M771.0,212.8h.01M771.3,210.8h.01M771.7,212.8h.01M772.1,212.9h.01M772.4,212.9h.01M772.8,212.2h.01M773.1,210.1h.01M773.5,212.4h.01M773.9,208.9h.01M774.2,210.2h.01M774.6,207.8h.01M775.0,211.4h.01M775.3,207.7h.01M775.7,207.6h.01M776.1,206.3h.01M776.4,205.7h.01M776.8,205.3h.01M777.1,202.9h.01M777.5,203.9h.01M777.9,203.9h.01M778.2,204.4h.01M778.6,203.4h.01M779.0,205.5h.01M779.3,203.5h.01M779.7,204.3h.01M780.1,204.7h.01M780.4,203.3h.01M780.8,201.3h.01M781.1,201.2h.01M781.5,201.3h.01M781.9,202.3h.01M782.2,200.4h.01M782.6,202.0h.01M783.0,199.4h.01M783.3,199.8h.01M783.7,197.9h.01M784.1,198.6h.01M784.4,198.9h.01M784.8,198.0h.01M785.1,198.6h.01M785.5,202.3h.01M785.9,198.5h.01M786.2,195.6h.01M786.6,196.8h.01M787.0,200.1h.01M787.3,192.2h.01M787.7,193.6h.01M788.1,194.8h.01M788.4,190.5h.01M788.8,184.8h.01M789.1,185.8h.01M789.5,185.8h.01M789.9,184.9h.01M790.2,184.4h.01M790.6,187.5h.01M791.0,187.1h.01M791.3,190.4h.01M791.7,193.3h.01M792.0,190.2h.01M792.4,190.0h.01M792.8,191.4h.01M793.1,194.4h.01M793.5,193.3h.01M793.9,192.1h.01M794.2,194.6h.01M794.6,192.9h.01M795.0,193.8h.01M795.3,193.9h.01M795.7,197.9h.01M796.0,197.6h.01M796.4,198.6h.01M796.8,194.3h.01M797.1,193.2h.01M797.5,191.0h.01M797.9,197.4h.01M798.2,197.0h.01M798.6,197.3h.01M799.0,194.7h.01M799.3,195.5h.01M799.7,192.4h.01M800.0,190.0h.01M800.4,192.8h.01M800.8,193.9h.01M801.1,192.6h.01M801.5,191.7h.01M801.9,196.4h.01M802.2,195.3h.01M802.6,195.3h.01M803.0,190.6h.01M803.3,191.1h.01M803.7,190.4h.01M804.0,190.5h.01M804.4,193.1h.01M804.8,195.0h.01M805.1,194.8h.01M805.5,194.4h.01M805.9,195.6h.01M806.2,196.0h.01M806.6,197.2h.01M807.0,197.5h.01M807.3,192.6h.01M807.7,194.6h.01M808.0,196.1h.01M808.4,194.8h.01M808.8,195.1h.01M809.1,198.0h.01M809.5,198.6h.01M809.9,198.9h.01M810.2,195.4h.01M810.6,194.6h.01M811.0,188.9h.01M811.3,193.2h.01M811.7,193.1h.01M812.0,191.6h.01M812.4,192.1h.01M812.8,193.9h.01M813.1,188.9h.01M813.5,187.3h.01M813.9,188.9h.01M814.2,189.0h.01M814.6,189.4h.01M814.9,189.7h.01M815.3,192.8h.01M815.7,190.4h.01M816.0,190.4h.01M816.4,191.7h.01M816.8,185.7h.01M817.1,186.6h.01M817.5,187.4h.01M817.9,188.4h.01M818.2,191.3h.01M818.6,194.8h.01M818.9,194.0h.01M819.3,195.0h.01M819.7,197.3h.01M820.0,198.0h.01M820.4,196.3h.01M820.8,199.2h.01M821.1,199.5h.01M821.5,196.4h.01M821.9,194.1h.01M822.2,195.5h.01M822.6,192.2h.01M822.9,194.3h.01M823.3,193.1h.01M823.7,195.8h.01M824.0,195.5h.01M824.4,192.8h.01M824.8,189.5h.01M825.1,191.2h.01M825.5,188.2h.01M825.9,185.8h.01M826.2,187.7h.01M826.6,188.0h.01M826.9,186.9h.01M827.3,185.8h.01M827.7,186.9h.01M828.0,185.1h.01M828.4,185.7h.01M828.8,189.4h.01M829.1,190.2h.01M829.5,188.1h.01M829.9,189.4h.01M830.2,190.5h.01M830.6,188.4h.01M830.9,188.6h.01M831.3,193.3h.01M831.7,191.5h.01M832.0,193.0h.01M832.4,192.0h.01M832.8,194.5h.01M833.1,190.2h.01M833.5,193.8h.01M833.9,190.8h.01M834.2,190.3h.01M834.6,189.4h.01M834.9,190.8h.01M835.3,192.2h.01M835.7,192.5h.01M836.0,196.0h.01M836.4,197.6h.01M836.8,199.2h.01M837.1,197.2h.01M837.5,200.0h.01M837.9,200.4h.01M838.2,200.7h.01M838.6,200.3h.01M838.9,199.3h.01M839.3,194.8h.01M839.7,193.7h.01M840.0,192.9h.01M840.4,193.2h.01M840.8,194.7h.01M841.1,193.2h.01M841.5,190.1h.01M841.8,191.6h.01M842.2,188.6h.01M842.6,187.8h.01M842.9,192.5h.01M843.3,196.7h.01M843.7,197.8h.01M844.0,199.5h.01M844.4,197.9h.01M844.8,202.5h.01M845.1,203.4h.01M845.5,206.1h.01M845.8,205.3h.01M846.2,205.8h.01M846.6,198.7h.01M846.9,196.3h.01M847.3,193.6h.01M847.7,189.6h.01M848.0,186.7h.01M848.4,187.4h.01M848.8,186.4h.01M849.1,189.2h.01M849.5,190.5h.01M849.8,188.8h.01M850.2,190.4h.01M850.6,190.7h.01M850.9,192.3h.01M851.3,190.7h.01M851.7,190.8h.01M852.0,191.9h.01M852.4,197.0h.01M852.8,191.6h.01M853.1,195.3h.01M853.5,195.1h.01M853.8,192.7h.01M854.2,193.9h.01M854.6,193.3h.01M854.9,194.8h.01M855.3,196.3h.01M855.7,195.9h.01M856.0,195.7h.01M856.4,198.7h.01M856.8,197.3h.01M857.1,197.1h.01M857.5,196.2h.01M857.8,197.7h.01M858.2,191.6h.01M858.6,193.7h.01M858.9,191.7h.01M859.3,189.1h.01M859.7,188.7h.01M860.0,184.9h.01M860.4,182.6h.01M860.8,183.3h.01M861.1,182.1h.01M861.5,183.0h.01M861.8,186.3h.01M862.2,187.9h.01M862.6,189.5h.01M862.9,188.9h.01M863.3,190.8h.01M863.7,187.7h.01M864.0,187.4h.01M864.4,187.3h.01M864.7,187.0h.01M865.1,188.2h.01M865.5,187.7h.01M865.8,187.4h.01M866.2,190.2h.01M866.6,191.9h.01M866.9,193.1h.01M867.3,193.0h.01M867.7,191.8h.01M868.0,187.0h.01M868.4,183.7h.01M868.7,182.1h.01M869.1,182.4h.01M869.5,183.0h.01M869.8,185.6h.01M870.2,186.2h.01M870.6,184.4h.01M870.9,181.4h.01M871.3,175.8h.01M871.7,173.1h.01M872.0,170.5h.01M872.4,160.1h.01M872.7,150.0h.01M873.1,146.0h.01M873.5,146.0h.01M873.8,146.0h.01M874.2,148.4h.01" fill="none" stroke="#1470c4" stroke-width="3.5" stroke-linecap="round"/>
<path d="M74.5,120.5 74.9,120.7 77.0,120.8 79.2,121.0 81.4,121.1 83.6,121.3 85.8,121.5 87.9,121.6 90.1,121.8 92.3,121.9 94.5,122.1 96.7,122.3 98.9,122.4 101.0,122.6 103.2,122.7 105.4,122.9 107.6,123.1 109.8,123.2 111.9,123.4 114.1,123.5 116.3,123.7 118.5,123.9 120.7,124.0 122.8,124.2 125.0,124.3 127.2,124.5 129.4,124.7 131.6,124.8 133.8,125.0 135.9,125.2 138.1,125.4 140.3,125.6 142.5,125.8 144.7,126.0 146.8,126.2 149.0,126.4 151.2,126.6 153.4,126.8 155.6,127.0 157.7,127.2 159.9,127.4 162.1,127.6 164.3,127.8 166.5,128.0 168.6,128.1 170.8,128.3 173.0,128.5 175.2,128.7 177.4,128.9 179.6,129.1 181.7,129.2 183.9,129.3 186.1,129.4 188.3,129.6 190.5,129.7 192.6,129.8 194.8,129.9 197.0,130.1 199.2,130.2 201.4,130.3 203.5,130.4 205.7,130.5 207.9,130.7 210.1,130.8 212.3,130.9 214.4,131.0 216.6,131.1 218.8,131.3 221.0,131.4 223.2,131.5 225.4,131.6 227.5,131.8 229.7,131.9 231.9,132.0 234.1,132.1 236.3,132.3 238.4,132.4 240.6,132.5 242.8,132.6 245.0,132.7 247.2,132.9 249.3,133.0 251.5,133.1 253.7,133.2 255.9,133.4 258.1,133.5 260.2,133.6 262.4,133.7 264.6,133.9 266.8,134.0 269.0,134.1 271.2,134.2 273.3,134.3 275.5,134.4 277.7,134.5 279.9,134.6 282.1,134.7 284.2,134.8 286.4,134.9 288.6,135.0 290.8,135.1 293.0,135.2 295.1,135.3 297.3,135.4 299.5,135.5 301.7,135.5 303.9,135.6 306.0,135.7 308.2,135.7 310.4,135.8 312.6,135.9 314.8,135.9 317.0,136.0 319.1,136.0 321.3,136.1 323.5,136.2 325.7,136.2 327.9,136.3 330.0,136.3 332.2,136.4 334.4,136.5 336.6,136.5 338.8,136.6 340.9,136.6 343.1,136.7 345.3,136.8 347.5,136.8 349.7,136.9 351.9,137.0 354.0,137.0 356.2,137.1 358.4,137.1 360.6,137.2 362.8,137.3 364.9,137.3 367.1,137.4 369.3,137.4 371.5,137.5 373.7,137.6 375.8,137.6 378.0,137.7 380.2,137.7 382.4,137.8 384.6,137.9 386.7,137.9 388.9,138.0 391.1,138.1 393.3,138.1 395.5,138.2 397.7,138.2 399.8,138.3 402.0,138.3 404.2,138.4 406.4,138.4 408.6,138.4 410.7,138.5 412.9,138.5 415.1,138.6 417.3,138.6 419.5,138.6 421.6,138.7 423.8,138.7 426.0,138.7 428.2,138.8 430.4,138.8 432.5,138.9 434.7,138.9 436.9,138.9 439.1,139.0 441.3,139.0 443.5,139.0 445.6,139.1 447.8,139.1 450.0,139.1 452.2,139.2 454.4,139.2 456.5,139.3 458.7,139.3 460.9,139.3 463.1,139.4 465.3,139.4 467.4,139.4 469.6,139.5 471.8,139.5 474.0,139.6 476.2,139.6 478.3,139.6 480.5,139.7 482.7,139.7 484.9,139.7 487.1,139.8 489.3,139.8 491.4,139.9 493.6,139.9 495.8,139.9 498.0,140.0 500.2,140.0 502.3,140.0 504.5,140.1 506.7,140.1 508.9,140.1 511.1,140.1 513.2,140.2 515.4,140.2 517.6,140.2 519.8,140.2 522.0,140.3 524.1,140.3 526.3,140.3 528.5,140.4 530.7,140.4 532.9,140.4 535.1,140.4 537.2,140.5 539.4,140.5 541.6,140.5 543.8,140.5 546.0,140.6 548.1,140.6 550.3,140.6 552.5,140.7 554.7,140.7 556.9,140.7 559.0,140.7 561.2,140.8 563.4,140.8 565.6,140.8 567.8,140.8 570.0,140.9 572.1,140.9 574.3,140.9 576.5,141.0 578.7,141.0 580.9,141.0 583.0,141.0 585.2,141.1 587.4,141.1 589.6,141.1 591.8,141.1 593.9,141.2 596.1,141.2 598.3,141.2 600.5,141.3 602.7,141.3 604.8,141.3 607.0,141.3 609.2,141.4 611.4,141.4 613.6,141.4 615.8,141.4 617.9,141.5 620.1,141.5 622.3,141.5 624.5,141.5 626.7,141.5 628.8,141.6 631.0,141.6 633.2,141.6 635.4,141.6 637.6,141.6 639.7,141.6 641.9,141.6 644.1,141.7 646.3,141.7 648.5,141.7 650.6,141.7 652.8,141.7 655.0,141.7 657.2,141.7 659.4,141.7 661.6,141.8 663.7,141.8 665.9,141.8 668.1,141.8 670.3,141.8 672.5,141.8 674.6,141.8 676.8,141.9 679.0,141.9 681.2,141.9 683.4,141.9 685.5,141.9 687.7,141.9 689.9,141.9 692.1,142.0 694.3,142.0 696.4,142.0 698.6,142.0 700.8,142.0 703.0,142.0 705.2,142.0 707.4,142.0 709.5,142.0 711.7,142.1 713.9,142.1 716.1,142.1 718.3,142.1 720.4,142.1 722.6,142.1 724.8,142.1 727.0,142.1 729.2,142.1 731.3,142.1 733.5,142.2 735.7,142.2 737.9,142.2 740.1,142.2 742.2,142.2 744.4,142.2 746.6,142.2 748.8,142.2 751.0,142.2 753.2,142.2 755.3,142.3 757.5,142.3 759.7,142.3 761.9,142.3 764.1,142.3 766.2,142.3 768.4,142.3 770.6,142.3 772.8,142.3 775.0,142.3 777.1,142.4 779.3,142.4 781.5,142.4 783.7,142.4 785.9,142.4 788.1,142.4 790.2,142.4 792.4,142.4 794.6,142.4 796.8,142.4 799.0,142.5 801.1,142.5 803.3,142.5 805.5,142.5 807.7,142.5 809.9,142.5 812.0,142.5 814.2,142.5 816.4,142.5 818.6,142.5 820.8,142.6 822.9,142.6 825.1,142.6 827.3,142.6 829.5,142.6 831.7,142.6 833.9,142.6 836.0,142.6 838.2,142.6 840.4,142.6 842.6,142.7 844.8,142.7 846.9,142.7 849.1,142.7 851.3,142.7 853.5,142.7 855.7,142.7 857.8,142.7 860.0,142.7 862.2,142.7 864.4,142.8 866.6,142.8 868.7,142.8 870.9,142.8 873.1,142.8 874.2,142.8" fill="none" stroke="#eaab1d" stroke-width="3.4" stroke-linecap="round" stroke-linejoin="round"/>
<path d="M105.3,470.8h10.0M110.3,465.8v10.0M106.8,467.3l7.1,7.1M106.8,474.3l7.1,-7.1M141.6,384.0h10.0M146.6,379.0v10.0M143.1,380.5l7.1,7.1M143.1,387.5l7.1,-7.1M178.5,349.6h10.0M183.5,344.6v10.0M180.0,346.1l7.1,7.1M180.0,353.1l7.1,-7.1M214.5,341.8h10.0M219.5,336.8v10.0M216.0,338.3l7.1,7.1M216.0,345.3l7.1,-7.1M250.8,320.5h10.0M255.8,315.5v10.0M252.3,317.0l7.1,7.1M252.3,324.0l7.1,-7.1M287.7,283.5h10.0M292.7,278.5v10.0M289.2,280.0l7.1,7.1M289.2,287.0l7.1,-7.1M323.3,299.6h10.0M328.3,294.6v10.0M324.8,296.1l7.1,7.1M324.8,303.1l7.1,-7.1M360.4,265.4h10.0M365.4,260.4v10.0M361.9,261.9l7.1,7.1M361.9,268.9l7.1,-7.1M396.5,321.4h10.0M401.5,316.4v10.0M398.0,317.9l7.1,7.1M398.0,324.9l7.1,-7.1M432.4,381.4h10.0M437.4,376.4v10.0M433.9,377.9l7.1,7.1M433.9,384.9l7.1,-7.1M469.6,277.2h10.0M474.6,272.2v10.0M471.1,273.7l7.1,7.1M471.1,280.7l7.1,-7.1M505.6,320.6h10.0M510.6,315.6v10.0M507.1,317.1l7.1,7.1M507.1,324.1l7.1,-7.1M542.4,226.1h10.0M547.4,221.1v10.0M543.9,222.6l7.1,7.1M543.9,229.6l7.1,-7.1M578.3,330.4h10.0M583.3,325.4v10.0M579.8,326.9l7.1,7.1M579.8,333.9l7.1,-7.1M614.4,185.4h10.0M619.4,180.4v10.0M615.9,181.9l7.1,7.1M615.9,188.9l7.1,-7.1M651.5,190.3h10.0M656.5,185.3v10.0M653.0,186.8l7.1,7.1M653.0,193.8l7.1,-7.1M687.1,201.3h10.0M692.1,196.3v10.0M688.6,197.8l7.1,7.1M688.6,204.8l7.1,-7.1M724.4,207.1h10.0M729.4,202.1v10.0M725.9,203.6l7.1,7.1M725.9,210.6l7.1,-7.1M760.3,206.3h10.0M765.3,201.3v10.0M761.8,202.8l7.1,7.1M761.8,209.8l7.1,-7.1M796.3,193.7h10.0M801.3,188.7v10.0M797.8,190.2l7.1,7.1M797.8,197.2l7.1,-7.1M833.4,202.3h10.0M838.4,197.3v10.0M834.9,198.8l7.1,7.1M834.9,205.8l7.1,-7.1M869.2,153.5h10.0M874.2,148.5v10.0M870.7,150.0l7.1,7.1M870.7,157.0l7.1,-7.1" fill="none" stroke="#cf0089" stroke-width="1.3"/></g>
<path d="M973.3,704.5h40.2" stroke="#2bb5ee" stroke-width="1.05" fill="none"/><circle cx="993.4" cy="704.5" r="1.55" fill="#2bb5ee"/>
<path d="M973.3,723.5h40.2" stroke="#1470c4" stroke-width="1.05" fill="none"/><circle cx="993.4" cy="723.5" r="1.55" fill="#1470c4"/>
<path d="M973.3,742.5h40.2" stroke="#eaab1d" stroke-width="1.05" fill="none"/><circle cx="993.4" cy="742.5" r="1.55" fill="#eaab1d"/>
<path d="M988.3,770.7h10.4M993.5,765.5v10.4M989.82,767.02l7.35,7.35M989.82,774.38l7.35,-7.35" stroke="#d4109a" stroke-width="0.9" fill="none"/>
<g font-size="10.67" fill="#262626">
<text x="1017.5" y="708.2">Episode reward</text>
<text x="1017.5" y="727.2">Average reward</text>
<text x="1017.5" y="746.2">Episode Q0</text>
<text x="1017.5" y="769.3">Evaluation statistic</text>
<text x="1017.5" y="781.3">(MeanEpisodeReward)</text>
</g>
</svg>
</body></html>
